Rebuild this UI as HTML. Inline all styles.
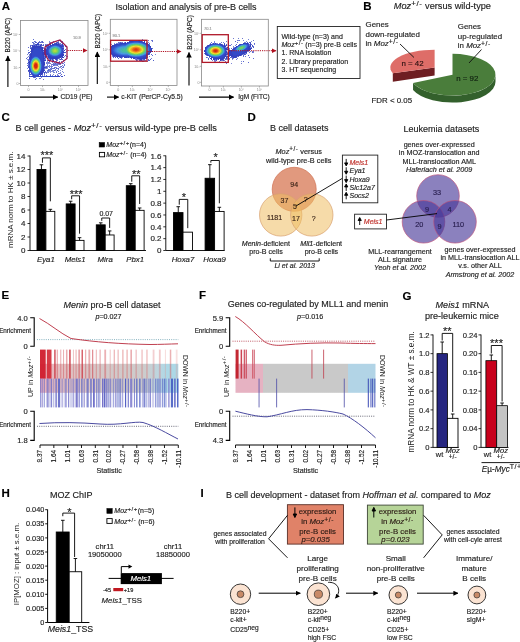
<!DOCTYPE html>
<html><head><meta charset="utf-8"><style>
html,body{margin:0;padding:0;background:#fff;width:520px;height:642px;overflow:hidden}
svg{display:block;filter:blur(0.3px)}
text{font-family:"Liberation Sans",sans-serif}
</style></head><body>
<svg width="520" height="642" viewBox="0 0 520 642" font-family="Liberation Sans, sans-serif">
<rect width="520" height="642" fill="#fff"/>
<text x="1.8" y="9.5" font-size="11.5" text-anchor="start" fill="#000" stroke="#000" stroke-width="0.15" font-weight="bold" >A</text>
<text x="363.3" y="9.8" font-size="11.5" text-anchor="start" fill="#000" stroke="#000" stroke-width="0.15" font-weight="bold" >B</text>
<text x="1.5" y="121.3" font-size="11.5" text-anchor="start" fill="#000" stroke="#000" stroke-width="0.15" font-weight="bold" >C</text>
<text x="247.5" y="121" font-size="11.5" text-anchor="start" fill="#000" stroke="#000" stroke-width="0.15" font-weight="bold" >D</text>
<text x="1.4" y="298.8" font-size="11.5" text-anchor="start" fill="#000" stroke="#000" stroke-width="0.15" font-weight="bold" >E</text>
<text x="199" y="298.8" font-size="11.5" text-anchor="start" fill="#000" stroke="#000" stroke-width="0.15" font-weight="bold" >F</text>
<text x="402.5" y="299.9" font-size="11.5" text-anchor="start" fill="#000" stroke="#000" stroke-width="0.15" font-weight="bold" >G</text>
<text x="1.4" y="496.7" font-size="11.5" text-anchor="start" fill="#000" stroke="#000" stroke-width="0.15" font-weight="bold" >H</text>
<text x="200.5" y="496.7" font-size="11.5" text-anchor="start" fill="#000" stroke="#000" stroke-width="0.15" font-weight="bold" >I</text>
<text x="115.5" y="10" font-size="9" text-anchor="start" fill="#222" stroke="#222" stroke-width="0.15" >Isolation and analysis of pre-B cells</text>
<defs><filter id="bl" x="-50%" y="-50%" width="200%" height="200%"><feGaussianBlur stdDeviation="1.2"/></filter><filter id="fb" x="-5%" y="-5%" width="110%" height="110%"><feGaussianBlur stdDeviation="0.6"/></filter><filter id="bl2" x="-50%" y="-50%" width="200%" height="200%"><feGaussianBlur stdDeviation="0.7"/></filter><marker id="arr" viewBox="0 0 10 10" refX="9" refY="5" markerWidth="5" markerHeight="5" orient="auto"><path d="M0,0 L10,5 L0,10 z" fill="#000"/></marker><marker id="arrR" viewBox="0 0 10 10" refX="9" refY="5" markerWidth="5" markerHeight="5" orient="auto"><path d="M0,0 L10,5 L0,10 z" fill="#b01020"/></marker></defs>
<rect x="20.5" y="20.5" width="67.5" height="65.0" fill="none" stroke="#888" stroke-width="0.8" />
<line x1="18.9" y1="34.5" x2="20.5" y2="34.5" stroke="#888" stroke-width="0.6" />
<text x="18.5" y="35.8" font-size="3.6" text-anchor="end" fill="#888" stroke="#888" stroke-width="0" >10⁵</text>
<line x1="18.9" y1="51.0" x2="20.5" y2="51.0" stroke="#888" stroke-width="0.6" />
<text x="18.5" y="52.3" font-size="3.6" text-anchor="end" fill="#888" stroke="#888" stroke-width="0" >10⁴</text>
<line x1="18.9" y1="67.5" x2="20.5" y2="67.5" stroke="#888" stroke-width="0.6" />
<text x="18.5" y="68.8" font-size="3.6" text-anchor="end" fill="#888" stroke="#888" stroke-width="0" >10³</text>
<line x1="18.9" y1="83.5" x2="20.5" y2="83.5" stroke="#888" stroke-width="0.6" />
<text x="18.5" y="84.8" font-size="3.6" text-anchor="end" fill="#888" stroke="#888" stroke-width="0" >0</text>
<line x1="28.5" y1="85.5" x2="28.5" y2="87.1" stroke="#888" stroke-width="0.6" />
<text x="28.5" y="90.5" font-size="3.6" text-anchor="middle" fill="#888" stroke="#888" stroke-width="0" >0</text>
<line x1="42.5" y1="85.5" x2="42.5" y2="87.1" stroke="#888" stroke-width="0.6" />
<text x="42.5" y="90.5" font-size="3.6" text-anchor="middle" fill="#888" stroke="#888" stroke-width="0" >10³</text>
<line x1="60.5" y1="85.5" x2="60.5" y2="87.1" stroke="#888" stroke-width="0.6" />
<text x="60.5" y="90.5" font-size="3.6" text-anchor="middle" fill="#888" stroke="#888" stroke-width="0" >10⁴</text>
<line x1="78.5" y1="85.5" x2="78.5" y2="87.1" stroke="#888" stroke-width="0.6" />
<text x="78.5" y="90.5" font-size="3.6" text-anchor="middle" fill="#888" stroke="#888" stroke-width="0" >10⁵</text>
<g filter="url(#fb)"><rect x="33.0" y="39.0" width="1.0" height="1.0" fill="#6070d0"/><rect x="59.0" y="40.0" width="1.0" height="1.0" fill="#6068d0"/><rect x="34.0" y="41.0" width="1.0" height="1.0" fill="#6070d0"/><rect x="35.0" y="41.0" width="1.0" height="1.0" fill="#8088d8"/><rect x="39.0" y="41.0" width="1.0" height="1.0" fill="#7078d0"/><rect x="41.0" y="41.0" width="1.0" height="1.0" fill="#7888d8"/><rect x="42.0" y="41.0" width="1.0" height="1.0" fill="#5060c8"/><rect x="49.0" y="41.0" width="1.0" height="1.0" fill="#7888d8"/><rect x="53.0" y="41.0" width="1.0" height="1.0" fill="#7080d8"/><rect x="58.0" y="41.0" width="1.0" height="1.0" fill="#8090d8"/><rect x="60.0" y="41.0" width="1.0" height="1.0" fill="#7080d0"/><rect x="62.0" y="41.0" width="1.0" height="1.0" fill="#7078d0"/><rect x="32.0" y="42.0" width="1.0" height="1.0" fill="#6070d0"/><rect x="33.0" y="42.0" width="1.0" height="1.0" fill="#7888d8"/><rect x="35.0" y="42.0" width="1.0" height="1.0" fill="#5060c8"/><rect x="36.0" y="42.0" width="1.0" height="1.0" fill="#6070d0"/><rect x="38.0" y="42.0" width="1.0" height="1.0" fill="#5058c8"/><rect x="39.0" y="42.0" width="1.0" height="1.0" fill="#6870d0"/><rect x="40.0" y="42.0" width="1.0" height="1.0" fill="#5868d0"/><rect x="41.0" y="42.0" width="1.0" height="1.0" fill="#7880d8"/><rect x="42.0" y="42.0" width="1.0" height="1.0" fill="#5860c8"/><rect x="43.0" y="42.0" width="1.0" height="1.0" fill="#7880d8"/><rect x="49.0" y="42.0" width="1.0" height="1.0" fill="#8890d8"/><rect x="50.0" y="42.0" width="1.0" height="1.0" fill="#6878d0"/><rect x="56.0" y="42.0" width="1.0" height="1.0" fill="#6878d0"/><rect x="57.0" y="42.0" width="1.0" height="1.0" fill="#4050c8"/><rect x="58.0" y="42.0" width="1.0" height="1.0" fill="#5860c8"/><rect x="61.0" y="42.0" width="1.0" height="1.0" fill="#6878d0"/><rect x="33.0" y="43.0" width="1.0" height="1.0" fill="#6068d0"/><rect x="34.0" y="43.0" width="1.0" height="1.0" fill="#8890d8"/><rect x="37.0" y="43.0" width="1.0" height="1.0" fill="#4050c8"/><rect x="38.0" y="43.0" width="1.0" height="1.0" fill="#4858c8"/><rect x="49.0" y="43.0" width="1.0" height="1.0" fill="#7078d0"/><rect x="50.0" y="43.0" width="1.0" height="1.0" fill="#5860d0"/><rect x="52.0" y="43.0" width="1.0" height="1.0" fill="#6070d0"/><rect x="54.0" y="43.0" width="1.0" height="1.0" fill="#5058c8"/><rect x="55.0" y="43.0" width="1.0" height="1.0" fill="#4048c0"/><rect x="56.0" y="43.0" width="1.0" height="1.0" fill="#3040c0"/><rect x="57.0" y="43.0" width="1.0" height="1.0" fill="#6878d0"/><rect x="58.0" y="43.0" width="1.0" height="1.0" fill="#4048c0"/><rect x="59.0" y="43.0" width="1.0" height="1.0" fill="#8890d8"/><rect x="60.0" y="43.0" width="1.0" height="1.0" fill="#6878d0"/><rect x="62.0" y="43.0" width="1.0" height="1.0" fill="#7078d0"/><rect x="33.0" y="44.0" width="2.0" height="1.0" fill="#8090d8"/><rect x="35.0" y="44.0" width="1.0" height="1.0" fill="#5060c8"/><rect x="36.0" y="44.0" width="3.0" height="1.0" fill="#3040c0"/><rect x="39.0" y="44.0" width="1.0" height="1.0" fill="#8088d8"/><rect x="40.0" y="44.0" width="1.0" height="1.0" fill="#7078d0"/><rect x="41.0" y="44.0" width="1.0" height="1.0" fill="#3848c0"/><rect x="43.0" y="44.0" width="1.0" height="1.0" fill="#7880d8"/><rect x="45.0" y="44.0" width="1.0" height="1.0" fill="#7078d0"/><rect x="46.0" y="44.0" width="1.0" height="1.0" fill="#8088d8"/><rect x="47.0" y="44.0" width="1.0" height="1.0" fill="#6870d0"/><rect x="49.0" y="44.0" width="2.0" height="1.0" fill="#3040c0"/><rect x="52.0" y="44.0" width="2.0" height="1.0" fill="#3040c0"/><rect x="54.0" y="44.0" width="1.0" height="1.0" fill="#3048c0"/><rect x="55.0" y="44.0" width="1.0" height="1.0" fill="#3048c8"/><rect x="56.0" y="44.0" width="3.0" height="1.0" fill="#3040c0"/><rect x="59.0" y="44.0" width="1.0" height="1.0" fill="#4050c8"/><rect x="60.0" y="44.0" width="1.0" height="1.0" fill="#7080d0"/><rect x="61.0" y="44.0" width="1.0" height="1.0" fill="#6878d0"/><rect x="62.0" y="44.0" width="1.0" height="1.0" fill="#3840c0"/><rect x="30.0" y="45.0" width="1.0" height="1.0" fill="#6070d0"/><rect x="31.0" y="45.0" width="1.0" height="1.0" fill="#7078d0"/><rect x="32.0" y="45.0" width="1.0" height="1.0" fill="#3040c0"/><rect x="33.0" y="45.0" width="1.0" height="1.0" fill="#5860d0"/><rect x="34.0" y="45.0" width="1.0" height="1.0" fill="#4048c0"/><rect x="35.0" y="45.0" width="1.0" height="1.0" fill="#6068d0"/><rect x="36.0" y="45.0" width="1.0" height="1.0" fill="#3848c0"/><rect x="37.0" y="45.0" width="1.0" height="1.0" fill="#8090d8"/><rect x="38.0" y="45.0" width="1.0" height="1.0" fill="#6070d0"/><rect x="39.0" y="45.0" width="1.0" height="1.0" fill="#8090d8"/><rect x="40.0" y="45.0" width="1.0" height="1.0" fill="#3040c0"/><rect x="41.0" y="45.0" width="1.0" height="1.0" fill="#5060c8"/><rect x="42.0" y="45.0" width="1.0" height="1.0" fill="#7078d0"/><rect x="43.0" y="45.0" width="1.0" height="1.0" fill="#5058c8"/><rect x="45.0" y="45.0" width="1.0" height="1.0" fill="#5060c8"/><rect x="46.0" y="45.0" width="1.0" height="1.0" fill="#5058c8"/><rect x="48.0" y="45.0" width="1.0" height="1.0" fill="#3040c0"/><rect x="49.0" y="45.0" width="1.0" height="1.0" fill="#8090d8"/><rect x="50.0" y="45.0" width="1.0" height="1.0" fill="#3040c0"/><rect x="51.0" y="45.0" width="1.0" height="1.0" fill="#3048c8"/><rect x="52.0" y="45.0" width="1.0" height="1.0" fill="#3050c8"/><rect x="53.0" y="45.0" width="1.0" height="1.0" fill="#3050d0"/><rect x="54.0" y="45.0" width="2.0" height="1.0" fill="#3860d0"/><rect x="56.0" y="45.0" width="1.0" height="1.0" fill="#3058d0"/><rect x="57.0" y="45.0" width="1.0" height="1.0" fill="#3050d0"/><rect x="58.0" y="45.0" width="2.0" height="1.0" fill="#3048c8"/><rect x="60.0" y="45.0" width="1.0" height="1.0" fill="#3040c0"/><rect x="61.0" y="45.0" width="1.0" height="1.0" fill="#4050c8"/><rect x="62.0" y="45.0" width="1.0" height="1.0" fill="#3040c0"/><rect x="63.0" y="45.0" width="1.0" height="1.0" fill="#6068d0"/><rect x="65.0" y="45.0" width="1.0" height="1.0" fill="#5868d0"/><rect x="30.0" y="46.0" width="1.0" height="1.0" fill="#4858c8"/><rect x="32.0" y="46.0" width="1.0" height="1.0" fill="#3840c0"/><rect x="33.0" y="46.0" width="8.0" height="1.0" fill="#3040c0"/><rect x="41.0" y="46.0" width="1.0" height="1.0" fill="#6870d0"/><rect x="45.0" y="46.0" width="1.0" height="1.0" fill="#7888d8"/><rect x="46.0" y="46.0" width="1.0" height="1.0" fill="#6870d0"/><rect x="47.0" y="46.0" width="1.0" height="1.0" fill="#5060c8"/><rect x="48.0" y="46.0" width="1.0" height="1.0" fill="#4048c0"/><rect x="49.0" y="46.0" width="1.0" height="1.0" fill="#3048c8"/><rect x="50.0" y="46.0" width="1.0" height="1.0" fill="#3050c8"/><rect x="51.0" y="46.0" width="1.0" height="1.0" fill="#3860d0"/><rect x="52.0" y="46.0" width="1.0" height="1.0" fill="#4078e0"/><rect x="53.0" y="46.0" width="1.0" height="1.0" fill="#4090e0"/><rect x="54.0" y="46.0" width="2.0" height="1.0" fill="#4898e0"/><rect x="56.0" y="46.0" width="1.0" height="1.0" fill="#4890e8"/><rect x="57.0" y="46.0" width="1.0" height="1.0" fill="#4080e0"/><rect x="58.0" y="46.0" width="1.0" height="1.0" fill="#3870d8"/><rect x="59.0" y="46.0" width="1.0" height="1.0" fill="#3050d0"/><rect x="60.0" y="46.0" width="1.0" height="1.0" fill="#3048c8"/><rect x="61.0" y="46.0" width="2.0" height="1.0" fill="#3040c0"/><rect x="63.0" y="46.0" width="1.0" height="1.0" fill="#4050c8"/><rect x="65.0" y="46.0" width="1.0" height="1.0" fill="#5868d0"/><rect x="28.0" y="47.0" width="1.0" height="1.0" fill="#6068d0"/><rect x="30.0" y="47.0" width="1.0" height="1.0" fill="#7880d8"/><rect x="31.0" y="47.0" width="1.0" height="1.0" fill="#7080d0"/><rect x="32.0" y="47.0" width="11.0" height="1.0" fill="#3040c0"/><rect x="43.0" y="47.0" width="1.0" height="1.0" fill="#8088d8"/><rect x="46.0" y="47.0" width="1.0" height="1.0" fill="#7080d0"/><rect x="47.0" y="47.0" width="1.0" height="1.0" fill="#3040c0"/><rect x="48.0" y="47.0" width="1.0" height="1.0" fill="#3048c8"/><rect x="49.0" y="47.0" width="1.0" height="1.0" fill="#3050d0"/><rect x="50.0" y="47.0" width="1.0" height="1.0" fill="#3870d8"/><rect x="51.0" y="47.0" width="1.0" height="1.0" fill="#4890e8"/><rect x="52.0" y="47.0" width="1.0" height="1.0" fill="#48a8c8"/><rect x="53.0" y="47.0" width="1.0" height="1.0" fill="#48b0b0"/><rect x="54.0" y="47.0" width="1.0" height="1.0" fill="#48b8a0"/><rect x="55.0" y="47.0" width="1.0" height="1.0" fill="#48c0a0"/><rect x="56.0" y="47.0" width="1.0" height="1.0" fill="#48b8b0"/><rect x="57.0" y="47.0" width="1.0" height="1.0" fill="#48a8c0"/><rect x="58.0" y="47.0" width="1.0" height="1.0" fill="#4898e0"/><rect x="59.0" y="47.0" width="1.0" height="1.0" fill="#4080e0"/><rect x="60.0" y="47.0" width="1.0" height="1.0" fill="#3058d0"/><rect x="61.0" y="47.0" width="1.0" height="1.0" fill="#3048c8"/><rect x="62.0" y="47.0" width="1.0" height="1.0" fill="#5860c8"/><rect x="63.0" y="47.0" width="1.0" height="1.0" fill="#6878d0"/><rect x="30.0" y="48.0" width="1.0" height="1.0" fill="#5058c8"/><rect x="31.0" y="48.0" width="1.0" height="1.0" fill="#4050c0"/><rect x="32.0" y="48.0" width="3.0" height="1.0" fill="#3040c0"/><rect x="35.0" y="48.0" width="1.0" height="1.0" fill="#3048c0"/><rect x="36.0" y="48.0" width="3.0" height="1.0" fill="#3048c8"/><rect x="39.0" y="48.0" width="1.0" height="1.0" fill="#3048c0"/><rect x="40.0" y="48.0" width="3.0" height="1.0" fill="#3040c0"/><rect x="43.0" y="48.0" width="1.0" height="1.0" fill="#8090d8"/><rect x="44.0" y="48.0" width="1.0" height="1.0" fill="#5868d0"/><rect x="45.0" y="48.0" width="1.0" height="1.0" fill="#6068d0"/><rect x="46.0" y="48.0" width="1.0" height="1.0" fill="#7080d8"/><rect x="47.0" y="48.0" width="1.0" height="1.0" fill="#3040c0"/><rect x="48.0" y="48.0" width="1.0" height="1.0" fill="#3050c8"/><rect x="49.0" y="48.0" width="1.0" height="1.0" fill="#3870d8"/><rect x="50.0" y="48.0" width="1.0" height="1.0" fill="#4898e0"/><rect x="51.0" y="48.0" width="1.0" height="1.0" fill="#48b0b8"/><rect x="52.0" y="48.0" width="1.0" height="1.0" fill="#48c098"/><rect x="53.0" y="48.0" width="1.0" height="1.0" fill="#60c878"/><rect x="54.0" y="48.0" width="1.0" height="1.0" fill="#70d070"/><rect x="55.0" y="48.0" width="1.0" height="1.0" fill="#70d068"/><rect x="56.0" y="48.0" width="1.0" height="1.0" fill="#60c878"/><rect x="57.0" y="48.0" width="1.0" height="1.0" fill="#50c090"/><rect x="58.0" y="48.0" width="1.0" height="1.0" fill="#48b0b0"/><rect x="59.0" y="48.0" width="1.0" height="1.0" fill="#48a0d8"/><rect x="60.0" y="48.0" width="1.0" height="1.0" fill="#4078d8"/><rect x="61.0" y="48.0" width="1.0" height="1.0" fill="#3050d0"/><rect x="62.0" y="48.0" width="2.0" height="1.0" fill="#3040c0"/><rect x="31.0" y="49.0" width="3.0" height="1.0" fill="#3040c0"/><rect x="34.0" y="49.0" width="6.0" height="1.0" fill="#3048c8"/><rect x="40.0" y="49.0" width="1.0" height="1.0" fill="#3048c0"/><rect x="41.0" y="49.0" width="2.0" height="1.0" fill="#3040c0"/><rect x="44.0" y="49.0" width="2.0" height="1.0" fill="#3040c0"/><rect x="46.0" y="49.0" width="1.0" height="1.0" fill="#3848c0"/><rect x="47.0" y="49.0" width="1.0" height="1.0" fill="#3048c8"/><rect x="48.0" y="49.0" width="1.0" height="1.0" fill="#3058d0"/><rect x="49.0" y="49.0" width="1.0" height="1.0" fill="#4088e0"/><rect x="50.0" y="49.0" width="1.0" height="1.0" fill="#48a8c8"/><rect x="51.0" y="49.0" width="1.0" height="1.0" fill="#48c098"/><rect x="52.0" y="49.0" width="1.0" height="1.0" fill="#68d070"/><rect x="53.0" y="49.0" width="1.0" height="1.0" fill="#88d050"/><rect x="54.0" y="49.0" width="2.0" height="1.0" fill="#98d848"/><rect x="56.0" y="49.0" width="1.0" height="1.0" fill="#88d050"/><rect x="57.0" y="49.0" width="1.0" height="1.0" fill="#70d070"/><rect x="58.0" y="49.0" width="1.0" height="1.0" fill="#48c090"/><rect x="59.0" y="49.0" width="1.0" height="1.0" fill="#48a8c0"/><rect x="60.0" y="49.0" width="1.0" height="1.0" fill="#4090e0"/><rect x="61.0" y="49.0" width="1.0" height="1.0" fill="#3860d0"/><rect x="62.0" y="49.0" width="1.0" height="1.0" fill="#3048c8"/><rect x="63.0" y="49.0" width="1.0" height="1.0" fill="#5860c8"/><rect x="65.0" y="49.0" width="1.0" height="1.0" fill="#6070d0"/><rect x="28.0" y="50.0" width="1.0" height="1.0" fill="#8090d8"/><rect x="31.0" y="50.0" width="2.0" height="1.0" fill="#3040c0"/><rect x="33.0" y="50.0" width="8.0" height="1.0" fill="#3048c8"/><rect x="41.0" y="50.0" width="6.0" height="1.0" fill="#3040c0"/><rect x="47.0" y="50.0" width="1.0" height="1.0" fill="#3048c8"/><rect x="48.0" y="50.0" width="1.0" height="1.0" fill="#3860d0"/><rect x="49.0" y="50.0" width="1.0" height="1.0" fill="#4890e8"/><rect x="50.0" y="50.0" width="1.0" height="1.0" fill="#48b0b8"/><rect x="51.0" y="50.0" width="1.0" height="1.0" fill="#58c888"/><rect x="52.0" y="50.0" width="1.0" height="1.0" fill="#80d060"/><rect x="53.0" y="50.0" width="1.0" height="1.0" fill="#a0d840"/><rect x="54.0" y="50.0" width="2.0" height="1.0" fill="#b0e040"/><rect x="56.0" y="50.0" width="1.0" height="1.0" fill="#a0d840"/><rect x="57.0" y="50.0" width="1.0" height="1.0" fill="#80d060"/><rect x="58.0" y="50.0" width="1.0" height="1.0" fill="#58c880"/><rect x="59.0" y="50.0" width="1.0" height="1.0" fill="#48b0b0"/><rect x="60.0" y="50.0" width="1.0" height="1.0" fill="#4890e8"/><rect x="61.0" y="50.0" width="1.0" height="1.0" fill="#3860d0"/><rect x="62.0" y="50.0" width="1.0" height="1.0" fill="#3048c8"/><rect x="63.0" y="50.0" width="1.0" height="1.0" fill="#7880d8"/><rect x="64.0" y="50.0" width="1.0" height="1.0" fill="#3848c0"/><rect x="30.0" y="51.0" width="1.0" height="1.0" fill="#6068d0"/><rect x="31.0" y="51.0" width="2.0" height="1.0" fill="#3040c0"/><rect x="33.0" y="51.0" width="9.0" height="1.0" fill="#3048c8"/><rect x="42.0" y="51.0" width="1.0" height="1.0" fill="#3040c0"/><rect x="43.0" y="51.0" width="1.0" height="1.0" fill="#7080d8"/><rect x="44.0" y="51.0" width="3.0" height="1.0" fill="#3040c0"/><rect x="47.0" y="51.0" width="1.0" height="1.0" fill="#3048c8"/><rect x="48.0" y="51.0" width="1.0" height="1.0" fill="#3860d0"/><rect x="49.0" y="51.0" width="1.0" height="1.0" fill="#4890e0"/><rect x="50.0" y="51.0" width="1.0" height="1.0" fill="#48b0b8"/><rect x="51.0" y="51.0" width="1.0" height="1.0" fill="#50c888"/><rect x="52.0" y="51.0" width="1.0" height="1.0" fill="#78d060"/><rect x="53.0" y="51.0" width="1.0" height="1.0" fill="#98d848"/><rect x="54.0" y="51.0" width="2.0" height="1.0" fill="#b0d840"/><rect x="56.0" y="51.0" width="1.0" height="1.0" fill="#98d848"/><rect x="57.0" y="51.0" width="1.0" height="1.0" fill="#78d060"/><rect x="58.0" y="51.0" width="1.0" height="1.0" fill="#50c888"/><rect x="59.0" y="51.0" width="1.0" height="1.0" fill="#48b0b8"/><rect x="60.0" y="51.0" width="1.0" height="1.0" fill="#4090e0"/><rect x="61.0" y="51.0" width="1.0" height="1.0" fill="#3860d0"/><rect x="62.0" y="51.0" width="1.0" height="1.0" fill="#3048c8"/><rect x="63.0" y="51.0" width="1.0" height="1.0" fill="#4050c8"/><rect x="66.0" y="51.0" width="1.0" height="1.0" fill="#8088d8"/><rect x="28.0" y="52.0" width="1.0" height="1.0" fill="#6878d0"/><rect x="29.0" y="52.0" width="1.0" height="1.0" fill="#3040c0"/><rect x="31.0" y="52.0" width="1.0" height="1.0" fill="#3040c0"/><rect x="32.0" y="52.0" width="1.0" height="1.0" fill="#3048c0"/><rect x="33.0" y="52.0" width="9.0" height="1.0" fill="#3048c8"/><rect x="42.0" y="52.0" width="5.0" height="1.0" fill="#3040c0"/><rect x="47.0" y="52.0" width="1.0" height="1.0" fill="#3048c8"/><rect x="48.0" y="52.0" width="1.0" height="1.0" fill="#3058d0"/><rect x="49.0" y="52.0" width="1.0" height="1.0" fill="#4088e0"/><rect x="50.0" y="52.0" width="1.0" height="1.0" fill="#48a8c8"/><rect x="51.0" y="52.0" width="1.0" height="1.0" fill="#48c0a0"/><rect x="52.0" y="52.0" width="1.0" height="1.0" fill="#60c878"/><rect x="53.0" y="52.0" width="1.0" height="1.0" fill="#80d060"/><rect x="54.0" y="52.0" width="2.0" height="1.0" fill="#88d050"/><rect x="56.0" y="52.0" width="1.0" height="1.0" fill="#78d060"/><rect x="57.0" y="52.0" width="1.0" height="1.0" fill="#60c880"/><rect x="58.0" y="52.0" width="1.0" height="1.0" fill="#48b8a0"/><rect x="59.0" y="52.0" width="1.0" height="1.0" fill="#48a0d0"/><rect x="60.0" y="52.0" width="1.0" height="1.0" fill="#4080e0"/><rect x="61.0" y="52.0" width="1.0" height="1.0" fill="#3050d0"/><rect x="62.0" y="52.0" width="1.0" height="1.0" fill="#3048c8"/><rect x="63.0" y="52.0" width="1.0" height="1.0" fill="#3040c0"/><rect x="64.0" y="52.0" width="1.0" height="1.0" fill="#4850c8"/><rect x="65.0" y="52.0" width="1.0" height="1.0" fill="#5058c8"/><rect x="28.0" y="53.0" width="1.0" height="1.0" fill="#7080d8"/><rect x="30.0" y="53.0" width="1.0" height="1.0" fill="#5060c8"/><rect x="31.0" y="53.0" width="1.0" height="1.0" fill="#3040c0"/><rect x="32.0" y="53.0" width="10.0" height="1.0" fill="#3048c8"/><rect x="42.0" y="53.0" width="6.0" height="1.0" fill="#3040c0"/><rect x="48.0" y="53.0" width="1.0" height="1.0" fill="#3050c8"/><rect x="49.0" y="53.0" width="1.0" height="1.0" fill="#3870d8"/><rect x="50.0" y="53.0" width="1.0" height="1.0" fill="#4890e8"/><rect x="51.0" y="53.0" width="1.0" height="1.0" fill="#48a8c0"/><rect x="52.0" y="53.0" width="1.0" height="1.0" fill="#48c0a0"/><rect x="53.0" y="53.0" width="1.0" height="1.0" fill="#50c888"/><rect x="54.0" y="53.0" width="1.0" height="1.0" fill="#60c880"/><rect x="55.0" y="53.0" width="1.0" height="1.0" fill="#58c880"/><rect x="56.0" y="53.0" width="1.0" height="1.0" fill="#50c090"/><rect x="57.0" y="53.0" width="1.0" height="1.0" fill="#48b8a8"/><rect x="58.0" y="53.0" width="1.0" height="1.0" fill="#48a0c8"/><rect x="59.0" y="53.0" width="1.0" height="1.0" fill="#4088e0"/><rect x="60.0" y="53.0" width="1.0" height="1.0" fill="#3860d0"/><rect x="61.0" y="53.0" width="1.0" height="1.0" fill="#3048c8"/><rect x="62.0" y="53.0" width="1.0" height="1.0" fill="#3040c0"/><rect x="63.0" y="53.0" width="1.0" height="1.0" fill="#8088d8"/><rect x="27.0" y="54.0" width="1.0" height="1.0" fill="#7888d8"/><rect x="29.0" y="54.0" width="1.0" height="1.0" fill="#7078d0"/><rect x="30.0" y="54.0" width="2.0" height="1.0" fill="#3040c0"/><rect x="32.0" y="54.0" width="10.0" height="1.0" fill="#3048c8"/><rect x="42.0" y="54.0" width="2.0" height="1.0" fill="#3040c0"/><rect x="44.0" y="54.0" width="1.0" height="1.0" fill="#3848c0"/><rect x="45.0" y="54.0" width="3.0" height="1.0" fill="#3040c0"/><rect x="48.0" y="54.0" width="1.0" height="1.0" fill="#3048c8"/><rect x="49.0" y="54.0" width="1.0" height="1.0" fill="#3050d0"/><rect x="50.0" y="54.0" width="1.0" height="1.0" fill="#3870d8"/><rect x="51.0" y="54.0" width="1.0" height="1.0" fill="#4088e0"/><rect x="52.0" y="54.0" width="1.0" height="1.0" fill="#48a0d8"/><rect x="53.0" y="54.0" width="1.0" height="1.0" fill="#48a8c0"/><rect x="54.0" y="54.0" width="1.0" height="1.0" fill="#48b0b8"/><rect x="55.0" y="54.0" width="1.0" height="1.0" fill="#48b0c0"/><rect x="56.0" y="54.0" width="1.0" height="1.0" fill="#48a8c8"/><rect x="57.0" y="54.0" width="1.0" height="1.0" fill="#4898e0"/><rect x="58.0" y="54.0" width="1.0" height="1.0" fill="#4080e0"/><rect x="59.0" y="54.0" width="1.0" height="1.0" fill="#3860d0"/><rect x="60.0" y="54.0" width="1.0" height="1.0" fill="#3048c8"/><rect x="61.0" y="54.0" width="3.0" height="1.0" fill="#3040c0"/><rect x="29.0" y="55.0" width="1.0" height="1.0" fill="#7080d8"/><rect x="30.0" y="55.0" width="2.0" height="1.0" fill="#3040c0"/><rect x="32.0" y="55.0" width="10.0" height="1.0" fill="#3048c8"/><rect x="42.0" y="55.0" width="1.0" height="1.0" fill="#3048c0"/><rect x="43.0" y="55.0" width="1.0" height="1.0" fill="#3040c0"/><rect x="44.0" y="55.0" width="1.0" height="1.0" fill="#7880d8"/><rect x="45.0" y="55.0" width="1.0" height="1.0" fill="#8088d8"/><rect x="46.0" y="55.0" width="1.0" height="1.0" fill="#4858c8"/><rect x="47.0" y="55.0" width="1.0" height="1.0" fill="#7880d8"/><rect x="48.0" y="55.0" width="1.0" height="1.0" fill="#3040c0"/><rect x="49.0" y="55.0" width="1.0" height="1.0" fill="#3048c0"/><rect x="50.0" y="55.0" width="1.0" height="1.0" fill="#3050c8"/><rect x="51.0" y="55.0" width="1.0" height="1.0" fill="#3058d0"/><rect x="52.0" y="55.0" width="1.0" height="1.0" fill="#3870d8"/><rect x="53.0" y="55.0" width="1.0" height="1.0" fill="#4078e0"/><rect x="54.0" y="55.0" width="2.0" height="1.0" fill="#4080e0"/><rect x="56.0" y="55.0" width="1.0" height="1.0" fill="#4078d8"/><rect x="57.0" y="55.0" width="1.0" height="1.0" fill="#3868d0"/><rect x="58.0" y="55.0" width="1.0" height="1.0" fill="#3050d0"/><rect x="59.0" y="55.0" width="1.0" height="1.0" fill="#3048c8"/><rect x="60.0" y="55.0" width="4.0" height="1.0" fill="#3040c0"/><rect x="65.0" y="55.0" width="1.0" height="1.0" fill="#5060c8"/><rect x="28.0" y="56.0" width="1.0" height="1.0" fill="#8090d8"/><rect x="29.0" y="56.0" width="1.0" height="1.0" fill="#8890d8"/><rect x="30.0" y="56.0" width="2.0" height="1.0" fill="#3040c0"/><rect x="32.0" y="56.0" width="2.0" height="1.0" fill="#3048c8"/><rect x="34.0" y="56.0" width="1.0" height="1.0" fill="#3050d0"/><rect x="35.0" y="56.0" width="1.0" height="1.0" fill="#3058d0"/><rect x="36.0" y="56.0" width="1.0" height="1.0" fill="#3050d0"/><rect x="37.0" y="56.0" width="1.0" height="1.0" fill="#3050c8"/><rect x="38.0" y="56.0" width="5.0" height="1.0" fill="#3048c8"/><rect x="43.0" y="56.0" width="1.0" height="1.0" fill="#3040c0"/><rect x="44.0" y="56.0" width="1.0" height="1.0" fill="#5868d0"/><rect x="45.0" y="56.0" width="1.0" height="1.0" fill="#3040c0"/><rect x="46.0" y="56.0" width="1.0" height="1.0" fill="#4858c8"/><rect x="47.0" y="56.0" width="1.0" height="1.0" fill="#7078d0"/><rect x="48.0" y="56.0" width="3.0" height="1.0" fill="#3040c0"/><rect x="51.0" y="56.0" width="2.0" height="1.0" fill="#3048c8"/><rect x="53.0" y="56.0" width="3.0" height="1.0" fill="#3050c8"/><rect x="56.0" y="56.0" width="3.0" height="1.0" fill="#3048c8"/><rect x="59.0" y="56.0" width="4.0" height="1.0" fill="#3040c0"/><rect x="64.0" y="56.0" width="1.0" height="1.0" fill="#8090d8"/><rect x="66.0" y="56.0" width="1.0" height="1.0" fill="#7880d8"/><rect x="67.0" y="56.0" width="1.0" height="1.0" fill="#7080d0"/><rect x="27.0" y="57.0" width="1.0" height="1.0" fill="#7880d8"/><rect x="29.0" y="57.0" width="3.0" height="1.0" fill="#3040c0"/><rect x="32.0" y="57.0" width="1.0" height="1.0" fill="#3048c8"/><rect x="33.0" y="57.0" width="1.0" height="1.0" fill="#3860d0"/><rect x="34.0" y="57.0" width="1.0" height="1.0" fill="#4080e0"/><rect x="35.0" y="57.0" width="2.0" height="1.0" fill="#4090e0"/><rect x="37.0" y="57.0" width="1.0" height="1.0" fill="#4078d8"/><rect x="38.0" y="57.0" width="1.0" height="1.0" fill="#3050d0"/><rect x="39.0" y="57.0" width="4.0" height="1.0" fill="#3048c8"/><rect x="43.0" y="57.0" width="1.0" height="1.0" fill="#3040c0"/><rect x="44.0" y="57.0" width="1.0" height="1.0" fill="#6070d0"/><rect x="45.0" y="57.0" width="1.0" height="1.0" fill="#3040c0"/><rect x="48.0" y="57.0" width="13.0" height="1.0" fill="#3040c0"/><rect x="61.0" y="57.0" width="1.0" height="1.0" fill="#7078d0"/><rect x="62.0" y="57.0" width="2.0" height="1.0" fill="#3040c0"/><rect x="26.0" y="58.0" width="1.0" height="1.0" fill="#6068d0"/><rect x="29.0" y="58.0" width="2.0" height="1.0" fill="#3040c0"/><rect x="31.0" y="58.0" width="1.0" height="1.0" fill="#3048c8"/><rect x="32.0" y="58.0" width="1.0" height="1.0" fill="#3868d8"/><rect x="33.0" y="58.0" width="1.0" height="1.0" fill="#4898e0"/><rect x="34.0" y="58.0" width="1.0" height="1.0" fill="#48b0c0"/><rect x="35.0" y="58.0" width="1.0" height="1.0" fill="#48b8a8"/><rect x="36.0" y="58.0" width="1.0" height="1.0" fill="#48b0b0"/><rect x="37.0" y="58.0" width="1.0" height="1.0" fill="#48a8c8"/><rect x="38.0" y="58.0" width="1.0" height="1.0" fill="#4088e0"/><rect x="39.0" y="58.0" width="1.0" height="1.0" fill="#3050d0"/><rect x="40.0" y="58.0" width="3.0" height="1.0" fill="#3048c8"/><rect x="43.0" y="58.0" width="1.0" height="1.0" fill="#3040c0"/><rect x="44.0" y="58.0" width="1.0" height="1.0" fill="#3840c0"/><rect x="45.0" y="58.0" width="1.0" height="1.0" fill="#8890d8"/><rect x="47.0" y="58.0" width="1.0" height="1.0" fill="#5860d0"/><rect x="48.0" y="58.0" width="1.0" height="1.0" fill="#7080d0"/><rect x="49.0" y="58.0" width="1.0" height="1.0" fill="#4050c8"/><rect x="50.0" y="58.0" width="8.0" height="1.0" fill="#3040c0"/><rect x="58.0" y="58.0" width="1.0" height="1.0" fill="#4858c8"/><rect x="59.0" y="58.0" width="1.0" height="1.0" fill="#7880d8"/><rect x="61.0" y="58.0" width="1.0" height="1.0" fill="#3040c0"/><rect x="27.0" y="59.0" width="1.0" height="1.0" fill="#8090d8"/><rect x="28.0" y="59.0" width="1.0" height="1.0" fill="#7880d8"/><rect x="29.0" y="59.0" width="1.0" height="1.0" fill="#4050c8"/><rect x="30.0" y="59.0" width="1.0" height="1.0" fill="#3040c0"/><rect x="31.0" y="59.0" width="1.0" height="1.0" fill="#3058d0"/><rect x="32.0" y="59.0" width="1.0" height="1.0" fill="#4898e8"/><rect x="33.0" y="59.0" width="1.0" height="1.0" fill="#48b8a8"/><rect x="34.0" y="59.0" width="1.0" height="1.0" fill="#60c880"/><rect x="35.0" y="59.0" width="1.0" height="1.0" fill="#78d068"/><rect x="36.0" y="59.0" width="1.0" height="1.0" fill="#70d070"/><rect x="37.0" y="59.0" width="1.0" height="1.0" fill="#50c890"/><rect x="38.0" y="59.0" width="1.0" height="1.0" fill="#48a8c0"/><rect x="39.0" y="59.0" width="1.0" height="1.0" fill="#4080e0"/><rect x="40.0" y="59.0" width="3.0" height="1.0" fill="#3048c8"/><rect x="43.0" y="59.0" width="1.0" height="1.0" fill="#3040c0"/><rect x="44.0" y="59.0" width="1.0" height="1.0" fill="#5868d0"/><rect x="45.0" y="59.0" width="1.0" height="1.0" fill="#7080d0"/><rect x="49.0" y="59.0" width="1.0" height="1.0" fill="#7080d0"/><rect x="50.0" y="59.0" width="1.0" height="1.0" fill="#3040c0"/><rect x="51.0" y="59.0" width="1.0" height="1.0" fill="#8890d8"/><rect x="52.0" y="59.0" width="1.0" height="1.0" fill="#3848c0"/><rect x="53.0" y="59.0" width="1.0" height="1.0" fill="#8090d8"/><rect x="55.0" y="59.0" width="1.0" height="1.0" fill="#5060c8"/><rect x="56.0" y="59.0" width="1.0" height="1.0" fill="#3040c0"/><rect x="57.0" y="59.0" width="1.0" height="1.0" fill="#6070d0"/><rect x="59.0" y="59.0" width="1.0" height="1.0" fill="#8090d8"/><rect x="60.0" y="59.0" width="1.0" height="1.0" fill="#4050c0"/><rect x="61.0" y="59.0" width="1.0" height="1.0" fill="#7078d0"/><rect x="62.0" y="59.0" width="1.0" height="1.0" fill="#4858c8"/><rect x="28.0" y="60.0" width="1.0" height="1.0" fill="#4050c8"/><rect x="29.0" y="60.0" width="1.0" height="1.0" fill="#8088d8"/><rect x="30.0" y="60.0" width="1.0" height="1.0" fill="#3048c8"/><rect x="31.0" y="60.0" width="1.0" height="1.0" fill="#4078e0"/><rect x="32.0" y="60.0" width="1.0" height="1.0" fill="#48b0b8"/><rect x="33.0" y="60.0" width="1.0" height="1.0" fill="#68d070"/><rect x="34.0" y="60.0" width="1.0" height="1.0" fill="#a0d840"/><rect x="35.0" y="60.0" width="1.0" height="1.0" fill="#c8e038"/><rect x="36.0" y="60.0" width="1.0" height="1.0" fill="#c0e040"/><rect x="37.0" y="60.0" width="1.0" height="1.0" fill="#90d050"/><rect x="38.0" y="60.0" width="1.0" height="1.0" fill="#50c888"/><rect x="39.0" y="60.0" width="1.0" height="1.0" fill="#48a0d0"/><rect x="40.0" y="60.0" width="1.0" height="1.0" fill="#3860d0"/><rect x="41.0" y="60.0" width="2.0" height="1.0" fill="#3048c8"/><rect x="43.0" y="60.0" width="2.0" height="1.0" fill="#3040c0"/><rect x="45.0" y="60.0" width="1.0" height="1.0" fill="#3848c0"/><rect x="47.0" y="60.0" width="1.0" height="1.0" fill="#5868d0"/><rect x="49.0" y="60.0" width="1.0" height="1.0" fill="#7078d0"/><rect x="50.0" y="60.0" width="1.0" height="1.0" fill="#3040c0"/><rect x="52.0" y="60.0" width="1.0" height="1.0" fill="#6068d0"/><rect x="53.0" y="60.0" width="1.0" height="1.0" fill="#3040c0"/><rect x="56.0" y="60.0" width="1.0" height="1.0" fill="#6870d0"/><rect x="57.0" y="60.0" width="1.0" height="1.0" fill="#7078d0"/><rect x="63.0" y="60.0" width="1.0" height="1.0" fill="#5868d0"/><rect x="28.0" y="61.0" width="1.0" height="1.0" fill="#7880d8"/><rect x="29.0" y="61.0" width="1.0" height="1.0" fill="#3040c0"/><rect x="30.0" y="61.0" width="1.0" height="1.0" fill="#3050d0"/><rect x="31.0" y="61.0" width="1.0" height="1.0" fill="#4898e0"/><rect x="32.0" y="61.0" width="1.0" height="1.0" fill="#50c888"/><rect x="33.0" y="61.0" width="1.0" height="1.0" fill="#a8d840"/><rect x="34.0" y="61.0" width="1.0" height="1.0" fill="#f0e030"/><rect x="35.0" y="61.0" width="1.0" height="1.0" fill="#f0c028"/><rect x="36.0" y="61.0" width="1.0" height="1.0" fill="#f0c828"/><rect x="37.0" y="61.0" width="1.0" height="1.0" fill="#d8e038"/><rect x="38.0" y="61.0" width="1.0" height="1.0" fill="#80d058"/><rect x="39.0" y="61.0" width="1.0" height="1.0" fill="#48b8a8"/><rect x="40.0" y="61.0" width="1.0" height="1.0" fill="#4078e0"/><rect x="41.0" y="61.0" width="2.0" height="1.0" fill="#3048c8"/><rect x="43.0" y="61.0" width="1.0" height="1.0" fill="#3040c0"/><rect x="44.0" y="61.0" width="1.0" height="1.0" fill="#8088d8"/><rect x="47.0" y="61.0" width="1.0" height="1.0" fill="#8090d8"/><rect x="49.0" y="61.0" width="1.0" height="1.0" fill="#5860c8"/><rect x="53.0" y="61.0" width="1.0" height="1.0" fill="#8088d8"/><rect x="55.0" y="61.0" width="1.0" height="1.0" fill="#6070d0"/><rect x="56.0" y="61.0" width="1.0" height="1.0" fill="#7080d8"/><rect x="59.0" y="61.0" width="1.0" height="1.0" fill="#7078d0"/><rect x="61.0" y="61.0" width="1.0" height="1.0" fill="#7078d0"/><rect x="28.0" y="62.0" width="2.0" height="1.0" fill="#3040c0"/><rect x="30.0" y="62.0" width="1.0" height="1.0" fill="#3860d0"/><rect x="31.0" y="62.0" width="1.0" height="1.0" fill="#48a8c0"/><rect x="32.0" y="62.0" width="1.0" height="1.0" fill="#78d060"/><rect x="33.0" y="62.0" width="1.0" height="1.0" fill="#e8e830"/><rect x="34.0" y="62.0" width="1.0" height="1.0" fill="#f0a020"/><rect x="35.0" y="62.0" width="1.0" height="1.0" fill="#f07818"/><rect x="36.0" y="62.0" width="1.0" height="1.0" fill="#f08820"/><rect x="37.0" y="62.0" width="1.0" height="1.0" fill="#f0b828"/><rect x="38.0" y="62.0" width="1.0" height="1.0" fill="#b8e040"/><rect x="39.0" y="62.0" width="1.0" height="1.0" fill="#58c888"/><rect x="40.0" y="62.0" width="1.0" height="1.0" fill="#4898e8"/><rect x="41.0" y="62.0" width="1.0" height="1.0" fill="#3050c8"/><rect x="42.0" y="62.0" width="1.0" height="1.0" fill="#3048c8"/><rect x="43.0" y="62.0" width="2.0" height="1.0" fill="#3040c0"/><rect x="46.0" y="62.0" width="2.0" height="1.0" fill="#8088d8"/><rect x="48.0" y="62.0" width="1.0" height="1.0" fill="#6068d0"/><rect x="49.0" y="62.0" width="1.0" height="1.0" fill="#8090d8"/><rect x="52.0" y="62.0" width="1.0" height="1.0" fill="#7888d8"/><rect x="54.0" y="62.0" width="1.0" height="1.0" fill="#7080d8"/><rect x="58.0" y="62.0" width="1.0" height="1.0" fill="#6070d0"/><rect x="59.0" y="62.0" width="1.0" height="1.0" fill="#5868d0"/><rect x="64.0" y="62.0" width="1.0" height="1.0" fill="#6870d0"/><rect x="27.0" y="63.0" width="1.0" height="1.0" fill="#6878d0"/><rect x="28.0" y="63.0" width="1.0" height="1.0" fill="#7080d0"/><rect x="29.0" y="63.0" width="1.0" height="1.0" fill="#3040c0"/><rect x="30.0" y="63.0" width="1.0" height="1.0" fill="#4070d8"/><rect x="31.0" y="63.0" width="1.0" height="1.0" fill="#48b8a8"/><rect x="32.0" y="63.0" width="1.0" height="1.0" fill="#a0d840"/><rect x="33.0" y="63.0" width="1.0" height="1.0" fill="#f0c028"/><rect x="34.0" y="63.0" width="1.0" height="1.0" fill="#e86818"/><rect x="35.0" y="63.0" width="1.0" height="1.0" fill="#d83818"/><rect x="36.0" y="63.0" width="1.0" height="1.0" fill="#e04018"/><rect x="37.0" y="63.0" width="1.0" height="1.0" fill="#f08820"/><rect x="38.0" y="63.0" width="1.0" height="1.0" fill="#e8e030"/><rect x="39.0" y="63.0" width="1.0" height="1.0" fill="#70d068"/><rect x="40.0" y="63.0" width="1.0" height="1.0" fill="#48a0d0"/><rect x="41.0" y="63.0" width="1.0" height="1.0" fill="#3050d0"/><rect x="42.0" y="63.0" width="1.0" height="1.0" fill="#3048c8"/><rect x="43.0" y="63.0" width="2.0" height="1.0" fill="#3040c0"/><rect x="46.0" y="63.0" width="1.0" height="1.0" fill="#7880d8"/><rect x="47.0" y="63.0" width="1.0" height="1.0" fill="#8890d8"/><rect x="48.0" y="63.0" width="2.0" height="1.0" fill="#8088d8"/><rect x="50.0" y="63.0" width="1.0" height="1.0" fill="#6878d0"/><rect x="53.0" y="63.0" width="1.0" height="1.0" fill="#6878d0"/><rect x="54.0" y="63.0" width="1.0" height="1.0" fill="#8090d8"/><rect x="55.0" y="63.0" width="1.0" height="1.0" fill="#5060c8"/><rect x="56.0" y="63.0" width="1.0" height="1.0" fill="#8890d8"/><rect x="57.0" y="63.0" width="1.0" height="1.0" fill="#7078d0"/><rect x="58.0" y="63.0" width="1.0" height="1.0" fill="#6070d0"/><rect x="59.0" y="63.0" width="1.0" height="1.0" fill="#5868d0"/><rect x="60.0" y="63.0" width="1.0" height="1.0" fill="#8088d8"/><rect x="62.0" y="63.0" width="1.0" height="1.0" fill="#6068d0"/><rect x="63.0" y="63.0" width="1.0" height="1.0" fill="#8088d8"/><rect x="28.0" y="64.0" width="1.0" height="1.0" fill="#5868d0"/><rect x="29.0" y="64.0" width="1.0" height="1.0" fill="#3048c8"/><rect x="30.0" y="64.0" width="1.0" height="1.0" fill="#4080e0"/><rect x="31.0" y="64.0" width="1.0" height="1.0" fill="#48c098"/><rect x="32.0" y="64.0" width="1.0" height="1.0" fill="#b8e040"/><rect x="33.0" y="64.0" width="1.0" height="1.0" fill="#f0a020"/><rect x="34.0" y="64.0" width="1.0" height="1.0" fill="#e04018"/><rect x="35.0" y="64.0" width="2.0" height="1.0" fill="#d82810"/><rect x="37.0" y="64.0" width="1.0" height="1.0" fill="#e86018"/><rect x="38.0" y="64.0" width="1.0" height="1.0" fill="#f0c828"/><rect x="39.0" y="64.0" width="1.0" height="1.0" fill="#88d058"/><rect x="40.0" y="64.0" width="1.0" height="1.0" fill="#48a8c0"/><rect x="41.0" y="64.0" width="1.0" height="1.0" fill="#3860d0"/><rect x="42.0" y="64.0" width="1.0" height="1.0" fill="#3048c8"/><rect x="43.0" y="64.0" width="2.0" height="1.0" fill="#3040c0"/><rect x="47.0" y="64.0" width="1.0" height="1.0" fill="#8090d8"/><rect x="51.0" y="64.0" width="1.0" height="1.0" fill="#7080d8"/><rect x="52.0" y="64.0" width="1.0" height="1.0" fill="#7078d0"/><rect x="53.0" y="64.0" width="1.0" height="1.0" fill="#6070d0"/><rect x="54.0" y="64.0" width="1.0" height="1.0" fill="#6068d0"/><rect x="55.0" y="64.0" width="2.0" height="1.0" fill="#6878d0"/><rect x="57.0" y="64.0" width="1.0" height="1.0" fill="#6870d0"/><rect x="58.0" y="64.0" width="1.0" height="1.0" fill="#8890d8"/><rect x="59.0" y="64.0" width="1.0" height="1.0" fill="#6870d0"/><rect x="60.0" y="64.0" width="1.0" height="1.0" fill="#6878d0"/><rect x="64.0" y="64.0" width="1.0" height="1.0" fill="#6870d0"/><rect x="27.0" y="65.0" width="1.0" height="1.0" fill="#6070d0"/><rect x="28.0" y="65.0" width="1.0" height="1.0" fill="#7078d0"/><rect x="29.0" y="65.0" width="1.0" height="1.0" fill="#3048c8"/><rect x="30.0" y="65.0" width="1.0" height="1.0" fill="#4088e0"/><rect x="31.0" y="65.0" width="1.0" height="1.0" fill="#50c890"/><rect x="32.0" y="65.0" width="1.0" height="1.0" fill="#c8e038"/><rect x="33.0" y="65.0" width="1.0" height="1.0" fill="#f09820"/><rect x="34.0" y="65.0" width="3.0" height="1.0" fill="#d82810"/><rect x="37.0" y="65.0" width="1.0" height="1.0" fill="#e05018"/><rect x="38.0" y="65.0" width="1.0" height="1.0" fill="#f0c028"/><rect x="39.0" y="65.0" width="1.0" height="1.0" fill="#90d850"/><rect x="40.0" y="65.0" width="1.0" height="1.0" fill="#48b0b8"/><rect x="41.0" y="65.0" width="1.0" height="1.0" fill="#3860d0"/><rect x="42.0" y="65.0" width="1.0" height="1.0" fill="#3048c8"/><rect x="43.0" y="65.0" width="1.0" height="1.0" fill="#3040c0"/><rect x="44.0" y="65.0" width="1.0" height="1.0" fill="#6870d0"/><rect x="47.0" y="65.0" width="1.0" height="1.0" fill="#8088d8"/><rect x="49.0" y="65.0" width="1.0" height="1.0" fill="#5868d0"/><rect x="51.0" y="65.0" width="1.0" height="1.0" fill="#8890d8"/><rect x="53.0" y="65.0" width="1.0" height="1.0" fill="#5860d0"/><rect x="54.0" y="65.0" width="1.0" height="1.0" fill="#7880d8"/><rect x="55.0" y="65.0" width="1.0" height="1.0" fill="#8890d8"/><rect x="56.0" y="65.0" width="1.0" height="1.0" fill="#8088d8"/><rect x="57.0" y="65.0" width="1.0" height="1.0" fill="#6070d0"/><rect x="62.0" y="65.0" width="1.0" height="1.0" fill="#7078d0"/><rect x="64.0" y="65.0" width="1.0" height="1.0" fill="#6070d0"/><rect x="28.0" y="66.0" width="1.0" height="1.0" fill="#4048c0"/><rect x="29.0" y="66.0" width="1.0" height="1.0" fill="#3048c8"/><rect x="30.0" y="66.0" width="1.0" height="1.0" fill="#4080e0"/><rect x="31.0" y="66.0" width="1.0" height="1.0" fill="#50c090"/><rect x="32.0" y="66.0" width="1.0" height="1.0" fill="#c8e038"/><rect x="33.0" y="66.0" width="1.0" height="1.0" fill="#f09820"/><rect x="34.0" y="66.0" width="1.0" height="1.0" fill="#d83010"/><rect x="35.0" y="66.0" width="2.0" height="1.0" fill="#d82810"/><rect x="37.0" y="66.0" width="1.0" height="1.0" fill="#e05018"/><rect x="38.0" y="66.0" width="1.0" height="1.0" fill="#f0c028"/><rect x="39.0" y="66.0" width="1.0" height="1.0" fill="#90d050"/><rect x="40.0" y="66.0" width="1.0" height="1.0" fill="#48b0b8"/><rect x="41.0" y="66.0" width="1.0" height="1.0" fill="#3860d0"/><rect x="42.0" y="66.0" width="1.0" height="1.0" fill="#3048c0"/><rect x="43.0" y="66.0" width="1.0" height="1.0" fill="#3040c0"/><rect x="44.0" y="66.0" width="1.0" height="1.0" fill="#7080d8"/><rect x="45.0" y="66.0" width="1.0" height="1.0" fill="#8090d8"/><rect x="46.0" y="66.0" width="1.0" height="1.0" fill="#5060c8"/><rect x="47.0" y="66.0" width="1.0" height="1.0" fill="#8090d8"/><rect x="48.0" y="66.0" width="1.0" height="1.0" fill="#6070d0"/><rect x="49.0" y="66.0" width="1.0" height="1.0" fill="#8088d8"/><rect x="50.0" y="66.0" width="1.0" height="1.0" fill="#8890d8"/><rect x="51.0" y="66.0" width="2.0" height="1.0" fill="#7078d0"/><rect x="58.0" y="66.0" width="1.0" height="1.0" fill="#8090d8"/><rect x="60.0" y="66.0" width="1.0" height="1.0" fill="#7880d8"/><rect x="61.0" y="66.0" width="1.0" height="1.0" fill="#5060c8"/><rect x="63.0" y="66.0" width="1.0" height="1.0" fill="#7080d8"/><rect x="28.0" y="67.0" width="1.0" height="1.0" fill="#3040c0"/><rect x="29.0" y="67.0" width="1.0" height="1.0" fill="#3048c8"/><rect x="30.0" y="67.0" width="1.0" height="1.0" fill="#4080e0"/><rect x="31.0" y="67.0" width="1.0" height="1.0" fill="#48c098"/><rect x="32.0" y="67.0" width="1.0" height="1.0" fill="#b0d840"/><rect x="33.0" y="67.0" width="1.0" height="1.0" fill="#f0b020"/><rect x="34.0" y="67.0" width="1.0" height="1.0" fill="#e04818"/><rect x="35.0" y="67.0" width="2.0" height="1.0" fill="#d82810"/><rect x="37.0" y="67.0" width="1.0" height="1.0" fill="#e87018"/><rect x="38.0" y="67.0" width="1.0" height="1.0" fill="#f0d030"/><rect x="39.0" y="67.0" width="1.0" height="1.0" fill="#80d060"/><rect x="40.0" y="67.0" width="1.0" height="1.0" fill="#48a8c8"/><rect x="41.0" y="67.0" width="1.0" height="1.0" fill="#3058d0"/><rect x="42.0" y="67.0" width="1.0" height="1.0" fill="#3048c0"/><rect x="43.0" y="67.0" width="2.0" height="1.0" fill="#3040c0"/><rect x="45.0" y="67.0" width="1.0" height="1.0" fill="#4850c8"/><rect x="46.0" y="67.0" width="1.0" height="1.0" fill="#4858c8"/><rect x="47.0" y="67.0" width="1.0" height="1.0" fill="#7880d8"/><rect x="49.0" y="67.0" width="1.0" height="1.0" fill="#7078d0"/><rect x="51.0" y="67.0" width="1.0" height="1.0" fill="#6878d0"/><rect x="54.0" y="67.0" width="1.0" height="1.0" fill="#6070d0"/><rect x="55.0" y="67.0" width="1.0" height="1.0" fill="#6878d0"/><rect x="56.0" y="67.0" width="1.0" height="1.0" fill="#8088d8"/><rect x="59.0" y="67.0" width="2.0" height="1.0" fill="#8088d8"/><rect x="62.0" y="67.0" width="1.0" height="1.0" fill="#7080d0"/><rect x="63.0" y="67.0" width="1.0" height="1.0" fill="#6070d0"/><rect x="27.0" y="68.0" width="1.0" height="1.0" fill="#7888d8"/><rect x="29.0" y="68.0" width="1.0" height="1.0" fill="#3040c0"/><rect x="30.0" y="68.0" width="1.0" height="1.0" fill="#3870d8"/><rect x="31.0" y="68.0" width="1.0" height="1.0" fill="#48b0b0"/><rect x="32.0" y="68.0" width="1.0" height="1.0" fill="#90d850"/><rect x="33.0" y="68.0" width="1.0" height="1.0" fill="#f0d030"/><rect x="34.0" y="68.0" width="1.0" height="1.0" fill="#f08018"/><rect x="35.0" y="68.0" width="1.0" height="1.0" fill="#e05018"/><rect x="36.0" y="68.0" width="1.0" height="1.0" fill="#e85818"/><rect x="37.0" y="68.0" width="1.0" height="1.0" fill="#f0a020"/><rect x="38.0" y="68.0" width="1.0" height="1.0" fill="#d8e038"/><rect x="39.0" y="68.0" width="1.0" height="1.0" fill="#68c870"/><rect x="40.0" y="68.0" width="1.0" height="1.0" fill="#48a0d8"/><rect x="41.0" y="68.0" width="1.0" height="1.0" fill="#3050d0"/><rect x="42.0" y="68.0" width="2.0" height="1.0" fill="#3040c0"/><rect x="44.0" y="68.0" width="1.0" height="1.0" fill="#6068d0"/><rect x="45.0" y="68.0" width="1.0" height="1.0" fill="#8090d8"/><rect x="46.0" y="68.0" width="1.0" height="1.0" fill="#7078d0"/><rect x="47.0" y="68.0" width="1.0" height="1.0" fill="#8890d8"/><rect x="50.0" y="68.0" width="1.0" height="1.0" fill="#7080d8"/><rect x="51.0" y="68.0" width="1.0" height="1.0" fill="#7080d0"/><rect x="52.0" y="68.0" width="1.0" height="1.0" fill="#6870d0"/><rect x="53.0" y="68.0" width="1.0" height="1.0" fill="#6070d0"/><rect x="54.0" y="68.0" width="1.0" height="1.0" fill="#5868d0"/><rect x="56.0" y="68.0" width="1.0" height="1.0" fill="#5060c8"/><rect x="57.0" y="68.0" width="1.0" height="1.0" fill="#7880d8"/><rect x="58.0" y="68.0" width="1.0" height="1.0" fill="#5060c8"/><rect x="61.0" y="68.0" width="1.0" height="1.0" fill="#8088d8"/><rect x="29.0" y="69.0" width="1.0" height="1.0" fill="#4050c8"/><rect x="30.0" y="69.0" width="1.0" height="1.0" fill="#3058d0"/><rect x="31.0" y="69.0" width="1.0" height="1.0" fill="#48a0c8"/><rect x="32.0" y="69.0" width="1.0" height="1.0" fill="#70d070"/><rect x="33.0" y="69.0" width="1.0" height="1.0" fill="#d0e038"/><rect x="34.0" y="69.0" width="1.0" height="1.0" fill="#f0b828"/><rect x="35.0" y="69.0" width="1.0" height="1.0" fill="#f09820"/><rect x="36.0" y="69.0" width="1.0" height="1.0" fill="#f0a020"/><rect x="37.0" y="69.0" width="1.0" height="1.0" fill="#f0d030"/><rect x="38.0" y="69.0" width="1.0" height="1.0" fill="#a0d840"/><rect x="39.0" y="69.0" width="1.0" height="1.0" fill="#48c090"/><rect x="40.0" y="69.0" width="1.0" height="1.0" fill="#4090e0"/><rect x="41.0" y="69.0" width="1.0" height="1.0" fill="#3048c8"/><rect x="42.0" y="69.0" width="2.0" height="1.0" fill="#3040c0"/><rect x="44.0" y="69.0" width="1.0" height="1.0" fill="#7880d8"/><rect x="48.0" y="69.0" width="1.0" height="1.0" fill="#5868d0"/><rect x="49.0" y="69.0" width="1.0" height="1.0" fill="#6070d0"/><rect x="50.0" y="69.0" width="1.0" height="1.0" fill="#7078d0"/><rect x="51.0" y="69.0" width="1.0" height="1.0" fill="#6070d0"/><rect x="55.0" y="69.0" width="1.0" height="1.0" fill="#7080d8"/><rect x="58.0" y="69.0" width="1.0" height="1.0" fill="#7080d0"/><rect x="62.0" y="69.0" width="1.0" height="1.0" fill="#7880d8"/><rect x="28.0" y="70.0" width="1.0" height="1.0" fill="#4050c0"/><rect x="29.0" y="70.0" width="1.0" height="1.0" fill="#3840c0"/><rect x="30.0" y="70.0" width="1.0" height="1.0" fill="#3050c8"/><rect x="31.0" y="70.0" width="1.0" height="1.0" fill="#4090e0"/><rect x="32.0" y="70.0" width="1.0" height="1.0" fill="#48c098"/><rect x="33.0" y="70.0" width="1.0" height="1.0" fill="#90d050"/><rect x="34.0" y="70.0" width="1.0" height="1.0" fill="#d8e038"/><rect x="35.0" y="70.0" width="1.0" height="1.0" fill="#f0d830"/><rect x="36.0" y="70.0" width="1.0" height="1.0" fill="#e8e030"/><rect x="37.0" y="70.0" width="1.0" height="1.0" fill="#b8e040"/><rect x="38.0" y="70.0" width="1.0" height="1.0" fill="#70d068"/><rect x="39.0" y="70.0" width="1.0" height="1.0" fill="#48b0b8"/><rect x="40.0" y="70.0" width="1.0" height="1.0" fill="#3870d8"/><rect x="41.0" y="70.0" width="1.0" height="1.0" fill="#3048c0"/><rect x="42.0" y="70.0" width="3.0" height="1.0" fill="#3040c0"/><rect x="47.0" y="70.0" width="1.0" height="1.0" fill="#7080d8"/><rect x="48.0" y="70.0" width="1.0" height="1.0" fill="#5860c8"/><rect x="49.0" y="70.0" width="1.0" height="1.0" fill="#7080d8"/><rect x="50.0" y="70.0" width="1.0" height="1.0" fill="#6070d0"/><rect x="52.0" y="70.0" width="1.0" height="1.0" fill="#8890d8"/><rect x="53.0" y="70.0" width="1.0" height="1.0" fill="#6070d0"/><rect x="54.0" y="70.0" width="1.0" height="1.0" fill="#6878d0"/><rect x="55.0" y="70.0" width="1.0" height="1.0" fill="#8090d8"/><rect x="57.0" y="70.0" width="1.0" height="1.0" fill="#8088d8"/><rect x="60.0" y="70.0" width="1.0" height="1.0" fill="#8090d8"/><rect x="28.0" y="71.0" width="1.0" height="1.0" fill="#6068d0"/><rect x="29.0" y="71.0" width="1.0" height="1.0" fill="#4858c8"/><rect x="30.0" y="71.0" width="1.0" height="1.0" fill="#3048c8"/><rect x="31.0" y="71.0" width="1.0" height="1.0" fill="#3868d8"/><rect x="32.0" y="71.0" width="1.0" height="1.0" fill="#48a8c8"/><rect x="33.0" y="71.0" width="1.0" height="1.0" fill="#58c888"/><rect x="34.0" y="71.0" width="1.0" height="1.0" fill="#88d058"/><rect x="35.0" y="71.0" width="1.0" height="1.0" fill="#a0d840"/><rect x="36.0" y="71.0" width="1.0" height="1.0" fill="#98d848"/><rect x="37.0" y="71.0" width="1.0" height="1.0" fill="#78d068"/><rect x="38.0" y="71.0" width="1.0" height="1.0" fill="#48c0a0"/><rect x="39.0" y="71.0" width="1.0" height="1.0" fill="#4898e8"/><rect x="40.0" y="71.0" width="1.0" height="1.0" fill="#3050d0"/><rect x="41.0" y="71.0" width="3.0" height="1.0" fill="#3040c0"/><rect x="45.0" y="71.0" width="1.0" height="1.0" fill="#6070d0"/><rect x="47.0" y="71.0" width="1.0" height="1.0" fill="#7880d8"/><rect x="48.0" y="71.0" width="2.0" height="1.0" fill="#8090d8"/><rect x="50.0" y="71.0" width="1.0" height="1.0" fill="#8088d8"/><rect x="51.0" y="71.0" width="1.0" height="1.0" fill="#8090d8"/><rect x="52.0" y="71.0" width="1.0" height="1.0" fill="#8890d8"/><rect x="53.0" y="71.0" width="1.0" height="1.0" fill="#8090d8"/><rect x="56.0" y="71.0" width="1.0" height="1.0" fill="#7080d8"/><rect x="58.0" y="71.0" width="1.0" height="1.0" fill="#5868d0"/><rect x="62.0" y="71.0" width="1.0" height="1.0" fill="#7080d0"/><rect x="29.0" y="72.0" width="1.0" height="1.0" fill="#3840c0"/><rect x="30.0" y="72.0" width="1.0" height="1.0" fill="#7078d0"/><rect x="31.0" y="72.0" width="1.0" height="1.0" fill="#3050c8"/><rect x="32.0" y="72.0" width="1.0" height="1.0" fill="#4080e0"/><rect x="33.0" y="72.0" width="1.0" height="1.0" fill="#48a8c0"/><rect x="34.0" y="72.0" width="1.0" height="1.0" fill="#48c098"/><rect x="35.0" y="72.0" width="1.0" height="1.0" fill="#58c880"/><rect x="36.0" y="72.0" width="1.0" height="1.0" fill="#50c888"/><rect x="37.0" y="72.0" width="1.0" height="1.0" fill="#48b8a8"/><rect x="38.0" y="72.0" width="1.0" height="1.0" fill="#48a0d8"/><rect x="39.0" y="72.0" width="1.0" height="1.0" fill="#3868d8"/><rect x="40.0" y="72.0" width="1.0" height="1.0" fill="#3048c8"/><rect x="41.0" y="72.0" width="2.0" height="1.0" fill="#3040c0"/><rect x="43.0" y="72.0" width="1.0" height="1.0" fill="#6870d0"/><rect x="44.0" y="72.0" width="1.0" height="1.0" fill="#4050c8"/><rect x="45.0" y="72.0" width="1.0" height="1.0" fill="#5868d0"/><rect x="46.0" y="72.0" width="1.0" height="1.0" fill="#6068d0"/><rect x="47.0" y="72.0" width="1.0" height="1.0" fill="#8890d8"/><rect x="48.0" y="72.0" width="1.0" height="1.0" fill="#6878d0"/><rect x="50.0" y="72.0" width="1.0" height="1.0" fill="#8090d8"/><rect x="53.0" y="72.0" width="1.0" height="1.0" fill="#7888d8"/><rect x="54.0" y="72.0" width="1.0" height="1.0" fill="#8088d8"/><rect x="56.0" y="72.0" width="1.0" height="1.0" fill="#6070d0"/><rect x="60.0" y="72.0" width="1.0" height="1.0" fill="#8890d8"/><rect x="63.0" y="72.0" width="1.0" height="1.0" fill="#7880d8"/><rect x="29.0" y="73.0" width="1.0" height="1.0" fill="#4850c8"/><rect x="31.0" y="73.0" width="1.0" height="1.0" fill="#3040c0"/><rect x="32.0" y="73.0" width="1.0" height="1.0" fill="#3058d0"/><rect x="33.0" y="73.0" width="1.0" height="1.0" fill="#4080e0"/><rect x="34.0" y="73.0" width="1.0" height="1.0" fill="#48a0d8"/><rect x="35.0" y="73.0" width="2.0" height="1.0" fill="#48a8c8"/><rect x="37.0" y="73.0" width="1.0" height="1.0" fill="#4898e0"/><rect x="38.0" y="73.0" width="1.0" height="1.0" fill="#3870d8"/><rect x="39.0" y="73.0" width="1.0" height="1.0" fill="#3050c8"/><rect x="40.0" y="73.0" width="3.0" height="1.0" fill="#3040c0"/><rect x="44.0" y="73.0" width="1.0" height="1.0" fill="#5060c8"/><rect x="46.0" y="73.0" width="1.0" height="1.0" fill="#8090d8"/><rect x="58.0" y="73.0" width="2.0" height="1.0" fill="#7078d0"/><rect x="60.0" y="73.0" width="1.0" height="1.0" fill="#8090d8"/><rect x="29.0" y="74.0" width="1.0" height="1.0" fill="#5060c8"/><rect x="30.0" y="74.0" width="1.0" height="1.0" fill="#4858c8"/><rect x="31.0" y="74.0" width="1.0" height="1.0" fill="#7078d0"/><rect x="32.0" y="74.0" width="1.0" height="1.0" fill="#3048c8"/><rect x="33.0" y="74.0" width="1.0" height="1.0" fill="#3050d0"/><rect x="34.0" y="74.0" width="1.0" height="1.0" fill="#3868d8"/><rect x="35.0" y="74.0" width="2.0" height="1.0" fill="#4078d8"/><rect x="37.0" y="74.0" width="1.0" height="1.0" fill="#3860d0"/><rect x="38.0" y="74.0" width="1.0" height="1.0" fill="#3050c8"/><rect x="39.0" y="74.0" width="1.0" height="1.0" fill="#3040c0"/><rect x="40.0" y="74.0" width="1.0" height="1.0" fill="#4850c8"/><rect x="41.0" y="74.0" width="1.0" height="1.0" fill="#3040c0"/><rect x="42.0" y="74.0" width="1.0" height="1.0" fill="#6068d0"/><rect x="44.0" y="74.0" width="1.0" height="1.0" fill="#6870d0"/><rect x="50.0" y="74.0" width="1.0" height="1.0" fill="#7880d8"/><rect x="53.0" y="74.0" width="1.0" height="1.0" fill="#8090d8"/><rect x="57.0" y="74.0" width="1.0" height="1.0" fill="#7880d8"/><rect x="61.0" y="74.0" width="1.0" height="1.0" fill="#6068d0"/><rect x="29.0" y="75.0" width="1.0" height="1.0" fill="#7080d8"/><rect x="32.0" y="75.0" width="1.0" height="1.0" fill="#7080d0"/><rect x="33.0" y="75.0" width="1.0" height="1.0" fill="#3040c0"/><rect x="34.0" y="75.0" width="1.0" height="1.0" fill="#3048c8"/><rect x="35.0" y="75.0" width="1.0" height="1.0" fill="#3050c8"/><rect x="36.0" y="75.0" width="2.0" height="1.0" fill="#3048c8"/><rect x="38.0" y="75.0" width="1.0" height="1.0" fill="#3040c0"/><rect x="40.0" y="75.0" width="1.0" height="1.0" fill="#3040c0"/><rect x="42.0" y="75.0" width="1.0" height="1.0" fill="#7888d8"/><rect x="44.0" y="75.0" width="1.0" height="1.0" fill="#8890d8"/><rect x="46.0" y="75.0" width="1.0" height="1.0" fill="#5868d0"/><rect x="50.0" y="75.0" width="1.0" height="1.0" fill="#5060c8"/><rect x="52.0" y="75.0" width="1.0" height="1.0" fill="#8090d8"/><rect x="55.0" y="75.0" width="1.0" height="1.0" fill="#5860c8"/><rect x="57.0" y="75.0" width="1.0" height="1.0" fill="#8088d8"/><rect x="58.0" y="75.0" width="1.0" height="1.0" fill="#7880d8"/><rect x="60.0" y="75.0" width="1.0" height="1.0" fill="#7880d8"/><rect x="64.0" y="75.0" width="1.0" height="1.0" fill="#5860c8"/><rect x="29.0" y="76.0" width="1.0" height="1.0" fill="#3040c0"/><rect x="30.0" y="76.0" width="1.0" height="1.0" fill="#4850c8"/><rect x="31.0" y="76.0" width="3.0" height="1.0" fill="#3040c0"/><rect x="34.0" y="76.0" width="1.0" height="1.0" fill="#3048c0"/><rect x="35.0" y="76.0" width="20.0" height="1.0" fill="#3048c8"/><rect x="55.0" y="76.0" width="1.0" height="1.0" fill="#3048c0"/><rect x="56.0" y="76.0" width="3.0" height="1.0" fill="#3040c0"/><rect x="59.0" y="76.0" width="1.0" height="1.0" fill="#3840c0"/><rect x="61.0" y="76.0" width="1.0" height="1.0" fill="#4050c8"/><rect x="62.0" y="76.0" width="1.0" height="1.0" fill="#4050c0"/><rect x="33.0" y="77.0" width="1.0" height="1.0" fill="#6878d0"/><rect x="34.0" y="77.0" width="1.0" height="1.0" fill="#4858c8"/><rect x="35.0" y="77.0" width="1.0" height="1.0" fill="#7080d0"/><rect x="41.0" y="77.0" width="1.0" height="1.0" fill="#8088d8"/><rect x="29.0" y="78.0" width="1.0" height="1.0" fill="#5060c8"/><rect x="36.0" y="78.0" width="1.0" height="1.0" fill="#7078d0"/><rect x="39.0" y="78.0" width="1.0" height="1.0" fill="#6070d0"/><rect x="40.0" y="78.0" width="1.0" height="1.0" fill="#7078d0"/><rect x="35.0" y="79.0" width="1.0" height="1.0" fill="#6068d0"/><rect x="43.0" y="79.0" width="1.0" height="1.0" fill="#6068d0"/><rect x="142.0" y="39.0" width="1.0" height="1.0" fill="#7888d8"/><rect x="138.0" y="40.0" width="1.0" height="1.0" fill="#5868d0"/><rect x="139.0" y="40.0" width="1.0" height="1.0" fill="#3848c0"/><rect x="143.0" y="40.0" width="1.0" height="1.0" fill="#7880d8"/><rect x="144.0" y="40.0" width="1.0" height="1.0" fill="#5060c8"/><rect x="148.0" y="40.0" width="1.0" height="1.0" fill="#7078d0"/><rect x="151.0" y="40.0" width="1.0" height="1.0" fill="#8088d8"/><rect x="152.0" y="40.0" width="1.0" height="1.0" fill="#6070d0"/><rect x="129.0" y="41.0" width="4.0" height="1.0" fill="#3040c0"/><rect x="133.0" y="41.0" width="1.0" height="1.0" fill="#3048c0"/><rect x="134.0" y="41.0" width="4.0" height="1.0" fill="#3048c8"/><rect x="138.0" y="41.0" width="1.0" height="1.0" fill="#3048c0"/><rect x="139.0" y="41.0" width="3.0" height="1.0" fill="#3040c0"/><rect x="142.0" y="41.0" width="1.0" height="1.0" fill="#6870d0"/><rect x="144.0" y="41.0" width="1.0" height="1.0" fill="#3040c0"/><rect x="152.0" y="41.0" width="1.0" height="1.0" fill="#7078d0"/><rect x="118.0" y="42.0" width="1.0" height="1.0" fill="#6068d0"/><rect x="119.0" y="42.0" width="1.0" height="1.0" fill="#7880d8"/><rect x="120.0" y="42.0" width="1.0" height="1.0" fill="#4858c8"/><rect x="121.0" y="42.0" width="1.0" height="1.0" fill="#7880d8"/><rect x="122.0" y="42.0" width="1.0" height="1.0" fill="#6070d0"/><rect x="124.0" y="42.0" width="1.0" height="1.0" fill="#8088d8"/><rect x="125.0" y="42.0" width="1.0" height="1.0" fill="#3040c0"/><rect x="127.0" y="42.0" width="1.0" height="1.0" fill="#3040c0"/><rect x="128.0" y="42.0" width="2.0" height="1.0" fill="#3048c8"/><rect x="130.0" y="42.0" width="1.0" height="1.0" fill="#3050c8"/><rect x="131.0" y="42.0" width="1.0" height="1.0" fill="#3050d0"/><rect x="132.0" y="42.0" width="1.0" height="1.0" fill="#3058d0"/><rect x="133.0" y="42.0" width="1.0" height="1.0" fill="#3860d0"/><rect x="134.0" y="42.0" width="4.0" height="1.0" fill="#3868d8"/><rect x="138.0" y="42.0" width="1.0" height="1.0" fill="#3860d0"/><rect x="139.0" y="42.0" width="1.0" height="1.0" fill="#3058d0"/><rect x="140.0" y="42.0" width="1.0" height="1.0" fill="#3050d0"/><rect x="141.0" y="42.0" width="1.0" height="1.0" fill="#3050c8"/><rect x="142.0" y="42.0" width="2.0" height="1.0" fill="#3048c8"/><rect x="144.0" y="42.0" width="1.0" height="1.0" fill="#3040c0"/><rect x="146.0" y="42.0" width="1.0" height="1.0" fill="#8890d8"/><rect x="148.0" y="42.0" width="1.0" height="1.0" fill="#8088d8"/><rect x="114.0" y="43.0" width="1.0" height="1.0" fill="#8090d8"/><rect x="116.0" y="43.0" width="2.0" height="1.0" fill="#7880d8"/><rect x="118.0" y="43.0" width="1.0" height="1.0" fill="#6870d0"/><rect x="119.0" y="43.0" width="1.0" height="1.0" fill="#4050c8"/><rect x="120.0" y="43.0" width="6.0" height="1.0" fill="#3040c0"/><rect x="126.0" y="43.0" width="1.0" height="1.0" fill="#3048c8"/><rect x="127.0" y="43.0" width="1.0" height="1.0" fill="#3050c8"/><rect x="128.0" y="43.0" width="1.0" height="1.0" fill="#3058d0"/><rect x="129.0" y="43.0" width="1.0" height="1.0" fill="#3870d8"/><rect x="130.0" y="43.0" width="1.0" height="1.0" fill="#4080e0"/><rect x="131.0" y="43.0" width="1.0" height="1.0" fill="#4090e0"/><rect x="132.0" y="43.0" width="1.0" height="1.0" fill="#4898e0"/><rect x="133.0" y="43.0" width="1.0" height="1.0" fill="#48a0d8"/><rect x="134.0" y="43.0" width="4.0" height="1.0" fill="#48a0d0"/><rect x="138.0" y="43.0" width="1.0" height="1.0" fill="#48a0d8"/><rect x="139.0" y="43.0" width="1.0" height="1.0" fill="#4898e0"/><rect x="140.0" y="43.0" width="1.0" height="1.0" fill="#4090e0"/><rect x="141.0" y="43.0" width="1.0" height="1.0" fill="#4080e0"/><rect x="142.0" y="43.0" width="1.0" height="1.0" fill="#3870d8"/><rect x="143.0" y="43.0" width="1.0" height="1.0" fill="#3058d0"/><rect x="144.0" y="43.0" width="1.0" height="1.0" fill="#3050c8"/><rect x="145.0" y="43.0" width="1.0" height="1.0" fill="#3048c8"/><rect x="146.0" y="43.0" width="2.0" height="1.0" fill="#3040c0"/><rect x="149.0" y="43.0" width="1.0" height="1.0" fill="#6070d0"/><rect x="111.0" y="44.0" width="1.0" height="1.0" fill="#7888d8"/><rect x="114.0" y="44.0" width="1.0" height="1.0" fill="#5058c8"/><rect x="115.0" y="44.0" width="1.0" height="1.0" fill="#3848c0"/><rect x="116.0" y="44.0" width="2.0" height="1.0" fill="#3040c0"/><rect x="118.0" y="44.0" width="4.0" height="1.0" fill="#3048c8"/><rect x="122.0" y="44.0" width="4.0" height="1.0" fill="#3050c8"/><rect x="126.0" y="44.0" width="1.0" height="1.0" fill="#3860d0"/><rect x="127.0" y="44.0" width="1.0" height="1.0" fill="#4078d8"/><rect x="128.0" y="44.0" width="1.0" height="1.0" fill="#4090e0"/><rect x="129.0" y="44.0" width="1.0" height="1.0" fill="#48a0d0"/><rect x="130.0" y="44.0" width="1.0" height="1.0" fill="#48b0c0"/><rect x="131.0" y="44.0" width="1.0" height="1.0" fill="#48b8a8"/><rect x="132.0" y="44.0" width="1.0" height="1.0" fill="#48c098"/><rect x="133.0" y="44.0" width="1.0" height="1.0" fill="#50c890"/><rect x="134.0" y="44.0" width="1.0" height="1.0" fill="#58c880"/><rect x="135.0" y="44.0" width="2.0" height="1.0" fill="#60c880"/><rect x="137.0" y="44.0" width="1.0" height="1.0" fill="#58c880"/><rect x="138.0" y="44.0" width="1.0" height="1.0" fill="#50c890"/><rect x="139.0" y="44.0" width="1.0" height="1.0" fill="#48c098"/><rect x="140.0" y="44.0" width="1.0" height="1.0" fill="#48b8a8"/><rect x="141.0" y="44.0" width="1.0" height="1.0" fill="#48b0c0"/><rect x="142.0" y="44.0" width="1.0" height="1.0" fill="#48a0d0"/><rect x="143.0" y="44.0" width="1.0" height="1.0" fill="#4090e0"/><rect x="144.0" y="44.0" width="1.0" height="1.0" fill="#4078d8"/><rect x="145.0" y="44.0" width="1.0" height="1.0" fill="#3860d0"/><rect x="146.0" y="44.0" width="1.0" height="1.0" fill="#3050c8"/><rect x="147.0" y="44.0" width="1.0" height="1.0" fill="#3048c8"/><rect x="148.0" y="44.0" width="1.0" height="1.0" fill="#3040c0"/><rect x="149.0" y="44.0" width="1.0" height="1.0" fill="#8088d8"/><rect x="112.0" y="45.0" width="3.0" height="1.0" fill="#3040c0"/><rect x="115.0" y="45.0" width="2.0" height="1.0" fill="#3048c8"/><rect x="117.0" y="45.0" width="2.0" height="1.0" fill="#3050c8"/><rect x="119.0" y="45.0" width="1.0" height="1.0" fill="#3050d0"/><rect x="120.0" y="45.0" width="1.0" height="1.0" fill="#3058d0"/><rect x="121.0" y="45.0" width="1.0" height="1.0" fill="#3860d0"/><rect x="122.0" y="45.0" width="1.0" height="1.0" fill="#3868d0"/><rect x="123.0" y="45.0" width="2.0" height="1.0" fill="#3868d8"/><rect x="125.0" y="45.0" width="1.0" height="1.0" fill="#3870d8"/><rect x="126.0" y="45.0" width="1.0" height="1.0" fill="#4088e0"/><rect x="127.0" y="45.0" width="1.0" height="1.0" fill="#48a0d0"/><rect x="128.0" y="45.0" width="1.0" height="1.0" fill="#48b0b8"/><rect x="129.0" y="45.0" width="1.0" height="1.0" fill="#48c098"/><rect x="130.0" y="45.0" width="1.0" height="1.0" fill="#60c880"/><rect x="131.0" y="45.0" width="1.0" height="1.0" fill="#78d068"/><rect x="132.0" y="45.0" width="1.0" height="1.0" fill="#88d050"/><rect x="133.0" y="45.0" width="1.0" height="1.0" fill="#98d848"/><rect x="134.0" y="45.0" width="1.0" height="1.0" fill="#a8d840"/><rect x="135.0" y="45.0" width="2.0" height="1.0" fill="#b0d840"/><rect x="137.0" y="45.0" width="1.0" height="1.0" fill="#a8d840"/><rect x="138.0" y="45.0" width="1.0" height="1.0" fill="#98d848"/><rect x="139.0" y="45.0" width="1.0" height="1.0" fill="#88d050"/><rect x="140.0" y="45.0" width="1.0" height="1.0" fill="#78d068"/><rect x="141.0" y="45.0" width="1.0" height="1.0" fill="#60c880"/><rect x="142.0" y="45.0" width="1.0" height="1.0" fill="#48c098"/><rect x="143.0" y="45.0" width="1.0" height="1.0" fill="#48b0b8"/><rect x="144.0" y="45.0" width="1.0" height="1.0" fill="#48a0d0"/><rect x="145.0" y="45.0" width="1.0" height="1.0" fill="#4088e0"/><rect x="146.0" y="45.0" width="1.0" height="1.0" fill="#3870d8"/><rect x="147.0" y="45.0" width="1.0" height="1.0" fill="#3050d0"/><rect x="148.0" y="45.0" width="1.0" height="1.0" fill="#3048c8"/><rect x="149.0" y="45.0" width="1.0" height="1.0" fill="#3040c0"/><rect x="111.0" y="46.0" width="2.0" height="1.0" fill="#3040c0"/><rect x="113.0" y="46.0" width="2.0" height="1.0" fill="#3048c8"/><rect x="115.0" y="46.0" width="1.0" height="1.0" fill="#3050c8"/><rect x="116.0" y="46.0" width="1.0" height="1.0" fill="#3050d0"/><rect x="117.0" y="46.0" width="1.0" height="1.0" fill="#3860d0"/><rect x="118.0" y="46.0" width="1.0" height="1.0" fill="#3868d8"/><rect x="119.0" y="46.0" width="1.0" height="1.0" fill="#3870d8"/><rect x="120.0" y="46.0" width="1.0" height="1.0" fill="#4078e0"/><rect x="121.0" y="46.0" width="1.0" height="1.0" fill="#4080e0"/><rect x="122.0" y="46.0" width="1.0" height="1.0" fill="#4088e0"/><rect x="123.0" y="46.0" width="2.0" height="1.0" fill="#4090e0"/><rect x="125.0" y="46.0" width="1.0" height="1.0" fill="#4890e0"/><rect x="126.0" y="46.0" width="1.0" height="1.0" fill="#48a8c8"/><rect x="127.0" y="46.0" width="1.0" height="1.0" fill="#48b8a0"/><rect x="128.0" y="46.0" width="1.0" height="1.0" fill="#58c880"/><rect x="129.0" y="46.0" width="1.0" height="1.0" fill="#78d060"/><rect x="130.0" y="46.0" width="1.0" height="1.0" fill="#98d848"/><rect x="131.0" y="46.0" width="1.0" height="1.0" fill="#c0e040"/><rect x="132.0" y="46.0" width="1.0" height="1.0" fill="#e0e038"/><rect x="133.0" y="46.0" width="1.0" height="1.0" fill="#f0e030"/><rect x="134.0" y="46.0" width="1.0" height="1.0" fill="#f0d030"/><rect x="135.0" y="46.0" width="2.0" height="1.0" fill="#f0c828"/><rect x="137.0" y="46.0" width="1.0" height="1.0" fill="#f0d030"/><rect x="138.0" y="46.0" width="1.0" height="1.0" fill="#f0e030"/><rect x="139.0" y="46.0" width="1.0" height="1.0" fill="#e0e038"/><rect x="140.0" y="46.0" width="1.0" height="1.0" fill="#c0e040"/><rect x="141.0" y="46.0" width="1.0" height="1.0" fill="#98d848"/><rect x="142.0" y="46.0" width="1.0" height="1.0" fill="#78d060"/><rect x="143.0" y="46.0" width="1.0" height="1.0" fill="#58c880"/><rect x="144.0" y="46.0" width="1.0" height="1.0" fill="#48b8a0"/><rect x="145.0" y="46.0" width="1.0" height="1.0" fill="#48a8c8"/><rect x="146.0" y="46.0" width="1.0" height="1.0" fill="#4090e0"/><rect x="147.0" y="46.0" width="1.0" height="1.0" fill="#3870d8"/><rect x="148.0" y="46.0" width="1.0" height="1.0" fill="#3050d0"/><rect x="149.0" y="46.0" width="1.0" height="1.0" fill="#3048c8"/><rect x="150.0" y="46.0" width="1.0" height="1.0" fill="#3040c0"/><rect x="111.0" y="47.0" width="2.0" height="1.0" fill="#3048c8"/><rect x="113.0" y="47.0" width="1.0" height="1.0" fill="#3050c8"/><rect x="114.0" y="47.0" width="1.0" height="1.0" fill="#3050d0"/><rect x="115.0" y="47.0" width="1.0" height="1.0" fill="#3860d0"/><rect x="116.0" y="47.0" width="1.0" height="1.0" fill="#3868d8"/><rect x="117.0" y="47.0" width="1.0" height="1.0" fill="#4078d8"/><rect x="118.0" y="47.0" width="1.0" height="1.0" fill="#4080e0"/><rect x="119.0" y="47.0" width="1.0" height="1.0" fill="#4090e0"/><rect x="120.0" y="47.0" width="1.0" height="1.0" fill="#4898e0"/><rect x="121.0" y="47.0" width="1.0" height="1.0" fill="#48a0d8"/><rect x="122.0" y="47.0" width="2.0" height="1.0" fill="#48a0d0"/><rect x="124.0" y="47.0" width="2.0" height="1.0" fill="#48a8c8"/><rect x="126.0" y="47.0" width="1.0" height="1.0" fill="#48b8a8"/><rect x="127.0" y="47.0" width="1.0" height="1.0" fill="#60c880"/><rect x="128.0" y="47.0" width="1.0" height="1.0" fill="#80d058"/><rect x="129.0" y="47.0" width="1.0" height="1.0" fill="#b0d840"/><rect x="130.0" y="47.0" width="1.0" height="1.0" fill="#d8e038"/><rect x="131.0" y="47.0" width="1.0" height="1.0" fill="#f0d030"/><rect x="132.0" y="47.0" width="1.0" height="1.0" fill="#f0b828"/><rect x="133.0" y="47.0" width="1.0" height="1.0" fill="#f0a020"/><rect x="134.0" y="47.0" width="1.0" height="1.0" fill="#f09020"/><rect x="135.0" y="47.0" width="2.0" height="1.0" fill="#f08820"/><rect x="137.0" y="47.0" width="1.0" height="1.0" fill="#f09020"/><rect x="138.0" y="47.0" width="1.0" height="1.0" fill="#f0a020"/><rect x="139.0" y="47.0" width="1.0" height="1.0" fill="#f0b828"/><rect x="140.0" y="47.0" width="1.0" height="1.0" fill="#f0d030"/><rect x="141.0" y="47.0" width="1.0" height="1.0" fill="#d8e038"/><rect x="142.0" y="47.0" width="1.0" height="1.0" fill="#b0d840"/><rect x="143.0" y="47.0" width="1.0" height="1.0" fill="#80d058"/><rect x="144.0" y="47.0" width="1.0" height="1.0" fill="#60c880"/><rect x="145.0" y="47.0" width="1.0" height="1.0" fill="#48b8a8"/><rect x="146.0" y="47.0" width="1.0" height="1.0" fill="#48a0d0"/><rect x="147.0" y="47.0" width="1.0" height="1.0" fill="#4088e0"/><rect x="148.0" y="47.0" width="1.0" height="1.0" fill="#3868d8"/><rect x="149.0" y="47.0" width="1.0" height="1.0" fill="#3050c8"/><rect x="150.0" y="47.0" width="1.0" height="1.0" fill="#3048c0"/><rect x="111.0" y="48.0" width="1.0" height="1.0" fill="#3048c8"/><rect x="112.0" y="48.0" width="1.0" height="1.0" fill="#3050c8"/><rect x="113.0" y="48.0" width="1.0" height="1.0" fill="#3050d0"/><rect x="114.0" y="48.0" width="1.0" height="1.0" fill="#3860d0"/><rect x="115.0" y="48.0" width="1.0" height="1.0" fill="#3870d8"/><rect x="116.0" y="48.0" width="1.0" height="1.0" fill="#4080e0"/><rect x="117.0" y="48.0" width="1.0" height="1.0" fill="#4090e0"/><rect x="118.0" y="48.0" width="1.0" height="1.0" fill="#4898e0"/><rect x="119.0" y="48.0" width="1.0" height="1.0" fill="#48a0d8"/><rect x="120.0" y="48.0" width="1.0" height="1.0" fill="#48a8c8"/><rect x="121.0" y="48.0" width="1.0" height="1.0" fill="#48a8c0"/><rect x="122.0" y="48.0" width="1.0" height="1.0" fill="#48b0b8"/><rect x="123.0" y="48.0" width="1.0" height="1.0" fill="#48b0b0"/><rect x="124.0" y="48.0" width="1.0" height="1.0" fill="#48b8b0"/><rect x="125.0" y="48.0" width="1.0" height="1.0" fill="#48b8a8"/><rect x="126.0" y="48.0" width="1.0" height="1.0" fill="#50c090"/><rect x="127.0" y="48.0" width="1.0" height="1.0" fill="#78d068"/><rect x="128.0" y="48.0" width="1.0" height="1.0" fill="#a0d840"/><rect x="129.0" y="48.0" width="1.0" height="1.0" fill="#d8e038"/><rect x="130.0" y="48.0" width="1.0" height="1.0" fill="#f0d030"/><rect x="131.0" y="48.0" width="1.0" height="1.0" fill="#f0b020"/><rect x="132.0" y="48.0" width="1.0" height="1.0" fill="#f09020"/><rect x="133.0" y="48.0" width="1.0" height="1.0" fill="#e87018"/><rect x="134.0" y="48.0" width="1.0" height="1.0" fill="#e86018"/><rect x="135.0" y="48.0" width="2.0" height="1.0" fill="#e05018"/><rect x="137.0" y="48.0" width="1.0" height="1.0" fill="#e86018"/><rect x="138.0" y="48.0" width="1.0" height="1.0" fill="#e87018"/><rect x="139.0" y="48.0" width="1.0" height="1.0" fill="#f09020"/><rect x="140.0" y="48.0" width="1.0" height="1.0" fill="#f0b020"/><rect x="141.0" y="48.0" width="1.0" height="1.0" fill="#f0d030"/><rect x="142.0" y="48.0" width="1.0" height="1.0" fill="#d8e038"/><rect x="143.0" y="48.0" width="1.0" height="1.0" fill="#a0d840"/><rect x="144.0" y="48.0" width="1.0" height="1.0" fill="#78d068"/><rect x="145.0" y="48.0" width="1.0" height="1.0" fill="#50c090"/><rect x="146.0" y="48.0" width="1.0" height="1.0" fill="#48b0b8"/><rect x="147.0" y="48.0" width="1.0" height="1.0" fill="#4898e0"/><rect x="148.0" y="48.0" width="1.0" height="1.0" fill="#4078d8"/><rect x="149.0" y="48.0" width="1.0" height="1.0" fill="#3050d0"/><rect x="150.0" y="48.0" width="1.0" height="1.0" fill="#3048c8"/><rect x="151.0" y="48.0" width="1.0" height="1.0" fill="#3040c0"/><rect x="152.0" y="48.0" width="1.0" height="1.0" fill="#6878d0"/><rect x="111.0" y="49.0" width="1.0" height="1.0" fill="#3048c8"/><rect x="112.0" y="49.0" width="1.0" height="1.0" fill="#3050d0"/><rect x="113.0" y="49.0" width="1.0" height="1.0" fill="#3858d0"/><rect x="114.0" y="49.0" width="1.0" height="1.0" fill="#3868d8"/><rect x="115.0" y="49.0" width="1.0" height="1.0" fill="#4078e0"/><rect x="116.0" y="49.0" width="1.0" height="1.0" fill="#4088e0"/><rect x="117.0" y="49.0" width="1.0" height="1.0" fill="#4898e0"/><rect x="118.0" y="49.0" width="1.0" height="1.0" fill="#48a0d0"/><rect x="119.0" y="49.0" width="1.0" height="1.0" fill="#48a8c8"/><rect x="120.0" y="49.0" width="1.0" height="1.0" fill="#48b0b8"/><rect x="121.0" y="49.0" width="1.0" height="1.0" fill="#48b0b0"/><rect x="122.0" y="49.0" width="1.0" height="1.0" fill="#48b8a8"/><rect x="123.0" y="49.0" width="2.0" height="1.0" fill="#48c0a0"/><rect x="125.0" y="49.0" width="1.0" height="1.0" fill="#48c098"/><rect x="126.0" y="49.0" width="1.0" height="1.0" fill="#58c888"/><rect x="127.0" y="49.0" width="1.0" height="1.0" fill="#80d060"/><rect x="128.0" y="49.0" width="1.0" height="1.0" fill="#b0d840"/><rect x="129.0" y="49.0" width="1.0" height="1.0" fill="#e8e830"/><rect x="130.0" y="49.0" width="1.0" height="1.0" fill="#f0c028"/><rect x="131.0" y="49.0" width="1.0" height="1.0" fill="#f0a020"/><rect x="132.0" y="49.0" width="1.0" height="1.0" fill="#f07818"/><rect x="133.0" y="49.0" width="1.0" height="1.0" fill="#e86018"/><rect x="134.0" y="49.0" width="1.0" height="1.0" fill="#e04818"/><rect x="135.0" y="49.0" width="2.0" height="1.0" fill="#e03818"/><rect x="137.0" y="49.0" width="1.0" height="1.0" fill="#e04818"/><rect x="138.0" y="49.0" width="1.0" height="1.0" fill="#e86018"/><rect x="139.0" y="49.0" width="1.0" height="1.0" fill="#f07818"/><rect x="140.0" y="49.0" width="1.0" height="1.0" fill="#f0a020"/><rect x="141.0" y="49.0" width="1.0" height="1.0" fill="#f0c028"/><rect x="142.0" y="49.0" width="1.0" height="1.0" fill="#e8e830"/><rect x="143.0" y="49.0" width="1.0" height="1.0" fill="#b0d840"/><rect x="144.0" y="49.0" width="1.0" height="1.0" fill="#80d060"/><rect x="145.0" y="49.0" width="1.0" height="1.0" fill="#58c888"/><rect x="146.0" y="49.0" width="1.0" height="1.0" fill="#48b0b0"/><rect x="147.0" y="49.0" width="1.0" height="1.0" fill="#48a0d8"/><rect x="148.0" y="49.0" width="1.0" height="1.0" fill="#4078e0"/><rect x="149.0" y="49.0" width="1.0" height="1.0" fill="#3058d0"/><rect x="150.0" y="49.0" width="1.0" height="1.0" fill="#3048c8"/><rect x="151.0" y="49.0" width="1.0" height="1.0" fill="#3040c0"/><rect x="111.0" y="50.0" width="1.0" height="1.0" fill="#3048c8"/><rect x="112.0" y="50.0" width="1.0" height="1.0" fill="#3050d0"/><rect x="113.0" y="50.0" width="1.0" height="1.0" fill="#3860d0"/><rect x="114.0" y="50.0" width="1.0" height="1.0" fill="#3870d8"/><rect x="115.0" y="50.0" width="1.0" height="1.0" fill="#4080e0"/><rect x="116.0" y="50.0" width="1.0" height="1.0" fill="#4090e0"/><rect x="117.0" y="50.0" width="1.0" height="1.0" fill="#4898e0"/><rect x="118.0" y="50.0" width="1.0" height="1.0" fill="#48a0d0"/><rect x="119.0" y="50.0" width="1.0" height="1.0" fill="#48a8c0"/><rect x="120.0" y="50.0" width="1.0" height="1.0" fill="#48b0b8"/><rect x="121.0" y="50.0" width="1.0" height="1.0" fill="#48b8b0"/><rect x="122.0" y="50.0" width="1.0" height="1.0" fill="#48b8a0"/><rect x="123.0" y="50.0" width="1.0" height="1.0" fill="#48c0a0"/><rect x="124.0" y="50.0" width="2.0" height="1.0" fill="#48c098"/><rect x="126.0" y="50.0" width="1.0" height="1.0" fill="#50c890"/><rect x="127.0" y="50.0" width="1.0" height="1.0" fill="#78d060"/><rect x="128.0" y="50.0" width="1.0" height="1.0" fill="#a8d840"/><rect x="129.0" y="50.0" width="1.0" height="1.0" fill="#d8e038"/><rect x="130.0" y="50.0" width="1.0" height="1.0" fill="#f0c828"/><rect x="131.0" y="50.0" width="1.0" height="1.0" fill="#f0a820"/><rect x="132.0" y="50.0" width="1.0" height="1.0" fill="#f08820"/><rect x="133.0" y="50.0" width="1.0" height="1.0" fill="#e86818"/><rect x="134.0" y="50.0" width="1.0" height="1.0" fill="#e05818"/><rect x="135.0" y="50.0" width="2.0" height="1.0" fill="#e04818"/><rect x="137.0" y="50.0" width="1.0" height="1.0" fill="#e05818"/><rect x="138.0" y="50.0" width="1.0" height="1.0" fill="#e86818"/><rect x="139.0" y="50.0" width="1.0" height="1.0" fill="#f08820"/><rect x="140.0" y="50.0" width="1.0" height="1.0" fill="#f0a820"/><rect x="141.0" y="50.0" width="1.0" height="1.0" fill="#f0c828"/><rect x="142.0" y="50.0" width="1.0" height="1.0" fill="#d8e038"/><rect x="143.0" y="50.0" width="1.0" height="1.0" fill="#a8d840"/><rect x="144.0" y="50.0" width="1.0" height="1.0" fill="#78d060"/><rect x="145.0" y="50.0" width="1.0" height="1.0" fill="#50c890"/><rect x="146.0" y="50.0" width="1.0" height="1.0" fill="#48b0b8"/><rect x="147.0" y="50.0" width="1.0" height="1.0" fill="#4898e0"/><rect x="148.0" y="50.0" width="1.0" height="1.0" fill="#4078d8"/><rect x="149.0" y="50.0" width="1.0" height="1.0" fill="#3050d0"/><rect x="150.0" y="50.0" width="1.0" height="1.0" fill="#3048c8"/><rect x="151.0" y="50.0" width="1.0" height="1.0" fill="#3040c0"/><rect x="111.0" y="51.0" width="1.0" height="1.0" fill="#3048c8"/><rect x="112.0" y="51.0" width="1.0" height="1.0" fill="#3050c8"/><rect x="113.0" y="51.0" width="1.0" height="1.0" fill="#3058d0"/><rect x="114.0" y="51.0" width="1.0" height="1.0" fill="#3868d8"/><rect x="115.0" y="51.0" width="1.0" height="1.0" fill="#4078d8"/><rect x="116.0" y="51.0" width="1.0" height="1.0" fill="#4088e0"/><rect x="117.0" y="51.0" width="1.0" height="1.0" fill="#4890e8"/><rect x="118.0" y="51.0" width="1.0" height="1.0" fill="#48a0d8"/><rect x="119.0" y="51.0" width="1.0" height="1.0" fill="#48a0c8"/><rect x="120.0" y="51.0" width="1.0" height="1.0" fill="#48a8c0"/><rect x="121.0" y="51.0" width="1.0" height="1.0" fill="#48b0b8"/><rect x="122.0" y="51.0" width="1.0" height="1.0" fill="#48b8b0"/><rect x="123.0" y="51.0" width="1.0" height="1.0" fill="#48b8a8"/><rect x="124.0" y="51.0" width="3.0" height="1.0" fill="#48c0a0"/><rect x="127.0" y="51.0" width="1.0" height="1.0" fill="#60c878"/><rect x="128.0" y="51.0" width="1.0" height="1.0" fill="#88d050"/><rect x="129.0" y="51.0" width="1.0" height="1.0" fill="#b8e040"/><rect x="130.0" y="51.0" width="1.0" height="1.0" fill="#e8e830"/><rect x="131.0" y="51.0" width="1.0" height="1.0" fill="#f0c828"/><rect x="132.0" y="51.0" width="1.0" height="1.0" fill="#f0b020"/><rect x="133.0" y="51.0" width="1.0" height="1.0" fill="#f09820"/><rect x="134.0" y="51.0" width="1.0" height="1.0" fill="#f08820"/><rect x="135.0" y="51.0" width="2.0" height="1.0" fill="#f07818"/><rect x="137.0" y="51.0" width="1.0" height="1.0" fill="#f08820"/><rect x="138.0" y="51.0" width="1.0" height="1.0" fill="#f09820"/><rect x="139.0" y="51.0" width="1.0" height="1.0" fill="#f0b020"/><rect x="140.0" y="51.0" width="1.0" height="1.0" fill="#f0c828"/><rect x="141.0" y="51.0" width="1.0" height="1.0" fill="#e8e830"/><rect x="142.0" y="51.0" width="1.0" height="1.0" fill="#b8e040"/><rect x="143.0" y="51.0" width="1.0" height="1.0" fill="#88d050"/><rect x="144.0" y="51.0" width="1.0" height="1.0" fill="#60c878"/><rect x="145.0" y="51.0" width="1.0" height="1.0" fill="#48c0a0"/><rect x="146.0" y="51.0" width="1.0" height="1.0" fill="#48a8c8"/><rect x="147.0" y="51.0" width="1.0" height="1.0" fill="#4090e0"/><rect x="148.0" y="51.0" width="1.0" height="1.0" fill="#3868d8"/><rect x="149.0" y="51.0" width="1.0" height="1.0" fill="#3050c8"/><rect x="150.0" y="51.0" width="1.0" height="1.0" fill="#3048c8"/><rect x="151.0" y="51.0" width="1.0" height="1.0" fill="#3040c0"/><rect x="111.0" y="52.0" width="2.0" height="1.0" fill="#3048c8"/><rect x="113.0" y="52.0" width="1.0" height="1.0" fill="#3050d0"/><rect x="114.0" y="52.0" width="1.0" height="1.0" fill="#3858d0"/><rect x="115.0" y="52.0" width="1.0" height="1.0" fill="#3868d8"/><rect x="116.0" y="52.0" width="1.0" height="1.0" fill="#4078d8"/><rect x="117.0" y="52.0" width="1.0" height="1.0" fill="#4088e0"/><rect x="118.0" y="52.0" width="1.0" height="1.0" fill="#4090e0"/><rect x="119.0" y="52.0" width="1.0" height="1.0" fill="#4898e0"/><rect x="120.0" y="52.0" width="1.0" height="1.0" fill="#48a0d0"/><rect x="121.0" y="52.0" width="1.0" height="1.0" fill="#48a8c8"/><rect x="122.0" y="52.0" width="1.0" height="1.0" fill="#48a8c0"/><rect x="123.0" y="52.0" width="2.0" height="1.0" fill="#48b0b8"/><rect x="125.0" y="52.0" width="2.0" height="1.0" fill="#48b0b0"/><rect x="127.0" y="52.0" width="1.0" height="1.0" fill="#48c0a0"/><rect x="128.0" y="52.0" width="1.0" height="1.0" fill="#60c878"/><rect x="129.0" y="52.0" width="1.0" height="1.0" fill="#80d058"/><rect x="130.0" y="52.0" width="1.0" height="1.0" fill="#a8d840"/><rect x="131.0" y="52.0" width="1.0" height="1.0" fill="#d0e038"/><rect x="132.0" y="52.0" width="1.0" height="1.0" fill="#e8e030"/><rect x="133.0" y="52.0" width="1.0" height="1.0" fill="#f0d030"/><rect x="134.0" y="52.0" width="1.0" height="1.0" fill="#f0c028"/><rect x="135.0" y="52.0" width="2.0" height="1.0" fill="#f0b828"/><rect x="137.0" y="52.0" width="1.0" height="1.0" fill="#f0c028"/><rect x="138.0" y="52.0" width="1.0" height="1.0" fill="#f0d030"/><rect x="139.0" y="52.0" width="1.0" height="1.0" fill="#e8e030"/><rect x="140.0" y="52.0" width="1.0" height="1.0" fill="#d0e038"/><rect x="141.0" y="52.0" width="1.0" height="1.0" fill="#a8d840"/><rect x="142.0" y="52.0" width="1.0" height="1.0" fill="#80d058"/><rect x="143.0" y="52.0" width="1.0" height="1.0" fill="#60c878"/><rect x="144.0" y="52.0" width="1.0" height="1.0" fill="#48c0a0"/><rect x="145.0" y="52.0" width="1.0" height="1.0" fill="#48a8c0"/><rect x="146.0" y="52.0" width="1.0" height="1.0" fill="#4898e0"/><rect x="147.0" y="52.0" width="1.0" height="1.0" fill="#4078d8"/><rect x="148.0" y="52.0" width="1.0" height="1.0" fill="#3058d0"/><rect x="149.0" y="52.0" width="1.0" height="1.0" fill="#3048c8"/><rect x="150.0" y="52.0" width="1.0" height="1.0" fill="#3040c0"/><rect x="111.0" y="53.0" width="1.0" height="1.0" fill="#3040c0"/><rect x="112.0" y="53.0" width="2.0" height="1.0" fill="#3048c8"/><rect x="114.0" y="53.0" width="1.0" height="1.0" fill="#3050c8"/><rect x="115.0" y="53.0" width="1.0" height="1.0" fill="#3058d0"/><rect x="116.0" y="53.0" width="1.0" height="1.0" fill="#3860d0"/><rect x="117.0" y="53.0" width="1.0" height="1.0" fill="#3870d8"/><rect x="118.0" y="53.0" width="1.0" height="1.0" fill="#4078d8"/><rect x="119.0" y="53.0" width="1.0" height="1.0" fill="#4080e0"/><rect x="120.0" y="53.0" width="1.0" height="1.0" fill="#4090e0"/><rect x="121.0" y="53.0" width="1.0" height="1.0" fill="#4898e8"/><rect x="122.0" y="53.0" width="1.0" height="1.0" fill="#4898e0"/><rect x="123.0" y="53.0" width="2.0" height="1.0" fill="#48a0d8"/><rect x="125.0" y="53.0" width="2.0" height="1.0" fill="#48a0d0"/><rect x="127.0" y="53.0" width="1.0" height="1.0" fill="#48a8c8"/><rect x="128.0" y="53.0" width="1.0" height="1.0" fill="#48b8a8"/><rect x="129.0" y="53.0" width="1.0" height="1.0" fill="#50c890"/><rect x="130.0" y="53.0" width="1.0" height="1.0" fill="#68d070"/><rect x="131.0" y="53.0" width="1.0" height="1.0" fill="#80d058"/><rect x="132.0" y="53.0" width="1.0" height="1.0" fill="#98d848"/><rect x="133.0" y="53.0" width="1.0" height="1.0" fill="#b0d840"/><rect x="134.0" y="53.0" width="1.0" height="1.0" fill="#c0e040"/><rect x="135.0" y="53.0" width="2.0" height="1.0" fill="#c0e038"/><rect x="137.0" y="53.0" width="1.0" height="1.0" fill="#c0e040"/><rect x="138.0" y="53.0" width="1.0" height="1.0" fill="#b0d840"/><rect x="139.0" y="53.0" width="1.0" height="1.0" fill="#98d848"/><rect x="140.0" y="53.0" width="1.0" height="1.0" fill="#80d058"/><rect x="141.0" y="53.0" width="1.0" height="1.0" fill="#68d070"/><rect x="142.0" y="53.0" width="1.0" height="1.0" fill="#50c890"/><rect x="143.0" y="53.0" width="1.0" height="1.0" fill="#48b8a8"/><rect x="144.0" y="53.0" width="1.0" height="1.0" fill="#48a8c8"/><rect x="145.0" y="53.0" width="1.0" height="1.0" fill="#4890e0"/><rect x="146.0" y="53.0" width="1.0" height="1.0" fill="#4070d8"/><rect x="147.0" y="53.0" width="1.0" height="1.0" fill="#3058d0"/><rect x="148.0" y="53.0" width="1.0" height="1.0" fill="#3048c8"/><rect x="149.0" y="53.0" width="1.0" height="1.0" fill="#3040c0"/><rect x="111.0" y="54.0" width="1.0" height="1.0" fill="#7078d0"/><rect x="112.0" y="54.0" width="1.0" height="1.0" fill="#3040c0"/><rect x="113.0" y="54.0" width="1.0" height="1.0" fill="#3048c0"/><rect x="114.0" y="54.0" width="2.0" height="1.0" fill="#3048c8"/><rect x="116.0" y="54.0" width="1.0" height="1.0" fill="#3050c8"/><rect x="117.0" y="54.0" width="1.0" height="1.0" fill="#3050d0"/><rect x="118.0" y="54.0" width="1.0" height="1.0" fill="#3860d0"/><rect x="119.0" y="54.0" width="1.0" height="1.0" fill="#3868d0"/><rect x="120.0" y="54.0" width="1.0" height="1.0" fill="#3870d8"/><rect x="121.0" y="54.0" width="1.0" height="1.0" fill="#4078d8"/><rect x="122.0" y="54.0" width="1.0" height="1.0" fill="#4078e0"/><rect x="123.0" y="54.0" width="5.0" height="1.0" fill="#4080e0"/><rect x="128.0" y="54.0" width="1.0" height="1.0" fill="#4898e0"/><rect x="129.0" y="54.0" width="1.0" height="1.0" fill="#48a8c8"/><rect x="130.0" y="54.0" width="1.0" height="1.0" fill="#48b0b0"/><rect x="131.0" y="54.0" width="1.0" height="1.0" fill="#48c0a0"/><rect x="132.0" y="54.0" width="1.0" height="1.0" fill="#50c888"/><rect x="133.0" y="54.0" width="1.0" height="1.0" fill="#60c880"/><rect x="134.0" y="54.0" width="1.0" height="1.0" fill="#68c870"/><rect x="135.0" y="54.0" width="2.0" height="1.0" fill="#70d070"/><rect x="137.0" y="54.0" width="1.0" height="1.0" fill="#68c870"/><rect x="138.0" y="54.0" width="1.0" height="1.0" fill="#60c880"/><rect x="139.0" y="54.0" width="1.0" height="1.0" fill="#50c888"/><rect x="140.0" y="54.0" width="1.0" height="1.0" fill="#48c0a0"/><rect x="141.0" y="54.0" width="1.0" height="1.0" fill="#48b0b0"/><rect x="142.0" y="54.0" width="1.0" height="1.0" fill="#48a8c8"/><rect x="143.0" y="54.0" width="1.0" height="1.0" fill="#4898e0"/><rect x="144.0" y="54.0" width="1.0" height="1.0" fill="#4080e0"/><rect x="145.0" y="54.0" width="1.0" height="1.0" fill="#3868d8"/><rect x="146.0" y="54.0" width="1.0" height="1.0" fill="#3050d0"/><rect x="147.0" y="54.0" width="1.0" height="1.0" fill="#3048c8"/><rect x="148.0" y="54.0" width="1.0" height="1.0" fill="#3040c0"/><rect x="149.0" y="54.0" width="1.0" height="1.0" fill="#6070d0"/><rect x="151.0" y="54.0" width="1.0" height="1.0" fill="#6070d0"/><rect x="155.0" y="54.0" width="1.0" height="1.0" fill="#8088d8"/><rect x="112.0" y="55.0" width="1.0" height="1.0" fill="#5860d0"/><rect x="113.0" y="55.0" width="3.0" height="1.0" fill="#3040c0"/><rect x="116.0" y="55.0" width="3.0" height="1.0" fill="#3048c8"/><rect x="119.0" y="55.0" width="1.0" height="1.0" fill="#3050c8"/><rect x="120.0" y="55.0" width="2.0" height="1.0" fill="#3050d0"/><rect x="122.0" y="55.0" width="2.0" height="1.0" fill="#3058d0"/><rect x="124.0" y="55.0" width="5.0" height="1.0" fill="#3860d0"/><rect x="129.0" y="55.0" width="1.0" height="1.0" fill="#4078d8"/><rect x="130.0" y="55.0" width="1.0" height="1.0" fill="#4088e0"/><rect x="131.0" y="55.0" width="1.0" height="1.0" fill="#4898e0"/><rect x="132.0" y="55.0" width="1.0" height="1.0" fill="#48a0d0"/><rect x="133.0" y="55.0" width="1.0" height="1.0" fill="#48a8c8"/><rect x="134.0" y="55.0" width="1.0" height="1.0" fill="#48a8c0"/><rect x="135.0" y="55.0" width="2.0" height="1.0" fill="#48b0c0"/><rect x="137.0" y="55.0" width="1.0" height="1.0" fill="#48a8c0"/><rect x="138.0" y="55.0" width="1.0" height="1.0" fill="#48a8c8"/><rect x="139.0" y="55.0" width="1.0" height="1.0" fill="#48a0d0"/><rect x="140.0" y="55.0" width="1.0" height="1.0" fill="#4898e0"/><rect x="141.0" y="55.0" width="1.0" height="1.0" fill="#4088e0"/><rect x="142.0" y="55.0" width="1.0" height="1.0" fill="#4078d8"/><rect x="143.0" y="55.0" width="1.0" height="1.0" fill="#3860d0"/><rect x="144.0" y="55.0" width="1.0" height="1.0" fill="#3050d0"/><rect x="145.0" y="55.0" width="1.0" height="1.0" fill="#3048c8"/><rect x="146.0" y="55.0" width="1.0" height="1.0" fill="#3040c0"/><rect x="147.0" y="55.0" width="1.0" height="1.0" fill="#6070d0"/><rect x="152.0" y="55.0" width="1.0" height="1.0" fill="#6070d0"/><rect x="112.0" y="56.0" width="1.0" height="1.0" fill="#8090d8"/><rect x="113.0" y="56.0" width="1.0" height="1.0" fill="#4050c8"/><rect x="114.0" y="56.0" width="1.0" height="1.0" fill="#3848c0"/><rect x="115.0" y="56.0" width="1.0" height="1.0" fill="#6870d0"/><rect x="116.0" y="56.0" width="4.0" height="1.0" fill="#3040c0"/><rect x="120.0" y="56.0" width="9.0" height="1.0" fill="#3048c8"/><rect x="129.0" y="56.0" width="1.0" height="1.0" fill="#3050c8"/><rect x="130.0" y="56.0" width="1.0" height="1.0" fill="#3050d0"/><rect x="131.0" y="56.0" width="1.0" height="1.0" fill="#3858d0"/><rect x="132.0" y="56.0" width="1.0" height="1.0" fill="#3868d8"/><rect x="133.0" y="56.0" width="1.0" height="1.0" fill="#3870d8"/><rect x="134.0" y="56.0" width="1.0" height="1.0" fill="#4070d8"/><rect x="135.0" y="56.0" width="2.0" height="1.0" fill="#4078d8"/><rect x="137.0" y="56.0" width="1.0" height="1.0" fill="#4070d8"/><rect x="138.0" y="56.0" width="1.0" height="1.0" fill="#3870d8"/><rect x="139.0" y="56.0" width="1.0" height="1.0" fill="#3868d8"/><rect x="140.0" y="56.0" width="1.0" height="1.0" fill="#3858d0"/><rect x="141.0" y="56.0" width="1.0" height="1.0" fill="#3050d0"/><rect x="142.0" y="56.0" width="1.0" height="1.0" fill="#3050c8"/><rect x="143.0" y="56.0" width="1.0" height="1.0" fill="#3048c8"/><rect x="144.0" y="56.0" width="1.0" height="1.0" fill="#3048c0"/><rect x="145.0" y="56.0" width="1.0" height="1.0" fill="#3040c0"/><rect x="146.0" y="56.0" width="1.0" height="1.0" fill="#4850c8"/><rect x="147.0" y="56.0" width="1.0" height="1.0" fill="#8088d8"/><rect x="149.0" y="56.0" width="1.0" height="1.0" fill="#8090d8"/><rect x="113.0" y="57.0" width="1.0" height="1.0" fill="#5868d0"/><rect x="115.0" y="57.0" width="1.0" height="1.0" fill="#5058c8"/><rect x="117.0" y="57.0" width="1.0" height="1.0" fill="#3848c0"/><rect x="119.0" y="57.0" width="1.0" height="1.0" fill="#7080d0"/><rect x="120.0" y="57.0" width="1.0" height="1.0" fill="#3040c0"/><rect x="121.0" y="57.0" width="1.0" height="1.0" fill="#4050c8"/><rect x="122.0" y="57.0" width="1.0" height="1.0" fill="#8088d8"/><rect x="124.0" y="57.0" width="3.0" height="1.0" fill="#3040c0"/><rect x="127.0" y="57.0" width="1.0" height="1.0" fill="#5060c8"/><rect x="128.0" y="57.0" width="1.0" height="1.0" fill="#3040c0"/><rect x="129.0" y="57.0" width="1.0" height="1.0" fill="#7080d0"/><rect x="130.0" y="57.0" width="2.0" height="1.0" fill="#3040c0"/><rect x="132.0" y="57.0" width="11.0" height="1.0" fill="#3048c8"/><rect x="143.0" y="57.0" width="4.0" height="1.0" fill="#3040c0"/><rect x="147.0" y="57.0" width="1.0" height="1.0" fill="#6070d0"/><rect x="118.0" y="58.0" width="1.0" height="1.0" fill="#6068d0"/><rect x="121.0" y="58.0" width="1.0" height="1.0" fill="#7078d0"/><rect x="131.0" y="58.0" width="1.0" height="1.0" fill="#5868d0"/><rect x="133.0" y="58.0" width="2.0" height="1.0" fill="#3040c0"/><rect x="135.0" y="58.0" width="2.0" height="1.0" fill="#6068d0"/><rect x="137.0" y="58.0" width="9.0" height="1.0" fill="#3040c0"/><rect x="146.0" y="58.0" width="1.0" height="1.0" fill="#3848c0"/><rect x="151.0" y="58.0" width="1.0" height="1.0" fill="#7880d8"/><rect x="135.0" y="59.0" width="1.0" height="1.0" fill="#7880d8"/><rect x="136.0" y="59.0" width="1.0" height="1.0" fill="#5058c8"/><rect x="137.0" y="59.0" width="2.0" height="1.0" fill="#8088d8"/><rect x="139.0" y="59.0" width="1.0" height="1.0" fill="#5060c8"/><rect x="140.0" y="59.0" width="2.0" height="1.0" fill="#3040c0"/><rect x="142.0" y="59.0" width="1.0" height="1.0" fill="#8088d8"/><rect x="143.0" y="59.0" width="1.0" height="1.0" fill="#5060c8"/><rect x="144.0" y="59.0" width="1.0" height="1.0" fill="#4858c8"/><rect x="148.0" y="59.0" width="1.0" height="1.0" fill="#6068d0"/><rect x="150.0" y="59.0" width="1.0" height="1.0" fill="#5060c8"/><rect x="136.0" y="60.0" width="1.0" height="1.0" fill="#5060c8"/><rect x="137.0" y="60.0" width="1.0" height="1.0" fill="#8088d8"/><rect x="139.0" y="60.0" width="1.0" height="1.0" fill="#4858c8"/><rect x="140.0" y="60.0" width="1.0" height="1.0" fill="#4050c8"/><rect x="141.0" y="60.0" width="1.0" height="1.0" fill="#3840c0"/><rect x="142.0" y="60.0" width="2.0" height="1.0" fill="#8090d8"/><rect x="144.0" y="60.0" width="1.0" height="1.0" fill="#7080d8"/><rect x="145.0" y="60.0" width="1.0" height="1.0" fill="#7888d8"/><rect x="148.0" y="60.0" width="1.0" height="1.0" fill="#5868d0"/><rect x="149.0" y="60.0" width="1.0" height="1.0" fill="#6068d0"/><rect x="153.0" y="60.0" width="1.0" height="1.0" fill="#5060c8"/><rect x="142.0" y="61.0" width="1.0" height="1.0" fill="#5868d0"/><rect x="143.0" y="61.0" width="1.0" height="1.0" fill="#7888d8"/><rect x="147.0" y="61.0" width="1.0" height="1.0" fill="#8090d8"/><rect x="233.0" y="38.0" width="1.0" height="1.0" fill="#7078d0"/><rect x="238.0" y="38.0" width="1.0" height="1.0" fill="#7080d0"/><rect x="242.0" y="38.0" width="1.0" height="1.0" fill="#7078d0"/><rect x="228.0" y="39.0" width="1.0" height="1.0" fill="#6878d0"/><rect x="248.0" y="39.0" width="1.0" height="1.0" fill="#7888d8"/><rect x="237.0" y="40.0" width="1.0" height="1.0" fill="#7078d0"/><rect x="238.0" y="40.0" width="1.0" height="1.0" fill="#8088d8"/><rect x="239.0" y="40.0" width="1.0" height="1.0" fill="#6878d0"/><rect x="243.0" y="40.0" width="1.0" height="1.0" fill="#7888d8"/><rect x="253.0" y="40.0" width="1.0" height="1.0" fill="#7078d0"/><rect x="214.0" y="41.0" width="1.0" height="1.0" fill="#8090d8"/><rect x="226.0" y="41.0" width="1.0" height="1.0" fill="#6878d0"/><rect x="228.0" y="41.0" width="1.0" height="1.0" fill="#5860d0"/><rect x="235.0" y="41.0" width="1.0" height="1.0" fill="#5060c8"/><rect x="246.0" y="41.0" width="1.0" height="1.0" fill="#8088d8"/><rect x="251.0" y="41.0" width="1.0" height="1.0" fill="#8090d8"/><rect x="211.0" y="42.0" width="1.0" height="1.0" fill="#6068d0"/><rect x="214.0" y="42.0" width="1.0" height="1.0" fill="#7080d8"/><rect x="221.0" y="42.0" width="1.0" height="1.0" fill="#6870d0"/><rect x="223.0" y="42.0" width="1.0" height="1.0" fill="#7078d0"/><rect x="228.0" y="42.0" width="1.0" height="1.0" fill="#6878d0"/><rect x="237.0" y="42.0" width="1.0" height="1.0" fill="#7078d0"/><rect x="244.0" y="42.0" width="1.0" height="1.0" fill="#7080d0"/><rect x="245.0" y="42.0" width="1.0" height="1.0" fill="#8088d8"/><rect x="247.0" y="42.0" width="1.0" height="1.0" fill="#5060c8"/><rect x="249.0" y="42.0" width="2.0" height="1.0" fill="#5060c8"/><rect x="210.0" y="43.0" width="1.0" height="1.0" fill="#6878d0"/><rect x="212.0" y="43.0" width="1.0" height="1.0" fill="#8890d8"/><rect x="213.0" y="43.0" width="1.0" height="1.0" fill="#3040c0"/><rect x="214.0" y="43.0" width="1.0" height="1.0" fill="#6870d0"/><rect x="215.0" y="43.0" width="1.0" height="1.0" fill="#3040c0"/><rect x="216.0" y="43.0" width="1.0" height="1.0" fill="#7080d0"/><rect x="217.0" y="43.0" width="1.0" height="1.0" fill="#8088d8"/><rect x="219.0" y="43.0" width="1.0" height="1.0" fill="#6068d0"/><rect x="220.0" y="43.0" width="1.0" height="1.0" fill="#7078d0"/><rect x="224.0" y="43.0" width="1.0" height="1.0" fill="#5058c8"/><rect x="243.0" y="43.0" width="2.0" height="1.0" fill="#3040c0"/><rect x="245.0" y="43.0" width="1.0" height="1.0" fill="#3048c8"/><rect x="246.0" y="43.0" width="2.0" height="1.0" fill="#3040c0"/><rect x="248.0" y="43.0" width="1.0" height="1.0" fill="#5860d0"/><rect x="250.0" y="43.0" width="1.0" height="1.0" fill="#4048c0"/><rect x="254.0" y="43.0" width="1.0" height="1.0" fill="#5868d0"/><rect x="209.0" y="44.0" width="1.0" height="1.0" fill="#8090d8"/><rect x="210.0" y="44.0" width="1.0" height="1.0" fill="#3040c0"/><rect x="211.0" y="44.0" width="1.0" height="1.0" fill="#3048c8"/><rect x="212.0" y="44.0" width="1.0" height="1.0" fill="#3050c8"/><rect x="213.0" y="44.0" width="1.0" height="1.0" fill="#3050d0"/><rect x="214.0" y="44.0" width="3.0" height="1.0" fill="#3058d0"/><rect x="217.0" y="44.0" width="1.0" height="1.0" fill="#3050d0"/><rect x="218.0" y="44.0" width="1.0" height="1.0" fill="#3050c8"/><rect x="219.0" y="44.0" width="1.0" height="1.0" fill="#3048c8"/><rect x="220.0" y="44.0" width="2.0" height="1.0" fill="#3040c0"/><rect x="222.0" y="44.0" width="1.0" height="1.0" fill="#6878d0"/><rect x="224.0" y="44.0" width="1.0" height="1.0" fill="#3040c0"/><rect x="226.0" y="44.0" width="1.0" height="1.0" fill="#5860c8"/><rect x="231.0" y="44.0" width="1.0" height="1.0" fill="#7880d8"/><rect x="236.0" y="44.0" width="1.0" height="1.0" fill="#5868d0"/><rect x="239.0" y="44.0" width="1.0" height="1.0" fill="#5060c8"/><rect x="240.0" y="44.0" width="1.0" height="1.0" fill="#3040c0"/><rect x="241.0" y="44.0" width="1.0" height="1.0" fill="#3050c8"/><rect x="242.0" y="44.0" width="1.0" height="1.0" fill="#3058d0"/><rect x="243.0" y="44.0" width="1.0" height="1.0" fill="#3868d8"/><rect x="244.0" y="44.0" width="1.0" height="1.0" fill="#3870d8"/><rect x="245.0" y="44.0" width="1.0" height="1.0" fill="#3868d8"/><rect x="246.0" y="44.0" width="1.0" height="1.0" fill="#3858d0"/><rect x="247.0" y="44.0" width="1.0" height="1.0" fill="#3050c8"/><rect x="248.0" y="44.0" width="1.0" height="1.0" fill="#3048c8"/><rect x="249.0" y="44.0" width="1.0" height="1.0" fill="#6878d0"/><rect x="250.0" y="44.0" width="1.0" height="1.0" fill="#4050c0"/><rect x="251.0" y="44.0" width="1.0" height="1.0" fill="#6870d0"/><rect x="254.0" y="44.0" width="1.0" height="1.0" fill="#7880d8"/><rect x="207.0" y="45.0" width="1.0" height="1.0" fill="#5860d0"/><rect x="208.0" y="45.0" width="1.0" height="1.0" fill="#3040c0"/><rect x="209.0" y="45.0" width="1.0" height="1.0" fill="#3048c8"/><rect x="210.0" y="45.0" width="1.0" height="1.0" fill="#3858d0"/><rect x="211.0" y="45.0" width="1.0" height="1.0" fill="#4078d8"/><rect x="212.0" y="45.0" width="1.0" height="1.0" fill="#4088e0"/><rect x="213.0" y="45.0" width="1.0" height="1.0" fill="#4898e0"/><rect x="214.0" y="45.0" width="3.0" height="1.0" fill="#48a0d0"/><rect x="217.0" y="45.0" width="1.0" height="1.0" fill="#4898e0"/><rect x="218.0" y="45.0" width="1.0" height="1.0" fill="#4088e0"/><rect x="219.0" y="45.0" width="1.0" height="1.0" fill="#4078d8"/><rect x="220.0" y="45.0" width="1.0" height="1.0" fill="#3858d0"/><rect x="221.0" y="45.0" width="1.0" height="1.0" fill="#3048c8"/><rect x="222.0" y="45.0" width="1.0" height="1.0" fill="#3040c0"/><rect x="223.0" y="45.0" width="1.0" height="1.0" fill="#5860c8"/><rect x="224.0" y="45.0" width="1.0" height="1.0" fill="#3040c0"/><rect x="225.0" y="45.0" width="1.0" height="1.0" fill="#7880d8"/><rect x="226.0" y="45.0" width="1.0" height="1.0" fill="#3840c0"/><rect x="229.0" y="45.0" width="1.0" height="1.0" fill="#5868d0"/><rect x="230.0" y="45.0" width="1.0" height="1.0" fill="#6070d0"/><rect x="235.0" y="45.0" width="1.0" height="1.0" fill="#7880d8"/><rect x="238.0" y="45.0" width="1.0" height="1.0" fill="#3048c8"/><rect x="239.0" y="45.0" width="1.0" height="1.0" fill="#3050d0"/><rect x="240.0" y="45.0" width="1.0" height="1.0" fill="#4078e0"/><rect x="241.0" y="45.0" width="1.0" height="1.0" fill="#4898e0"/><rect x="242.0" y="45.0" width="1.0" height="1.0" fill="#48a8c8"/><rect x="243.0" y="45.0" width="1.0" height="1.0" fill="#48b0c0"/><rect x="244.0" y="45.0" width="1.0" height="1.0" fill="#48a8c0"/><rect x="245.0" y="45.0" width="1.0" height="1.0" fill="#48a0d8"/><rect x="246.0" y="45.0" width="1.0" height="1.0" fill="#4080e0"/><rect x="247.0" y="45.0" width="1.0" height="1.0" fill="#3860d0"/><rect x="248.0" y="45.0" width="1.0" height="1.0" fill="#3048c8"/><rect x="249.0" y="45.0" width="1.0" height="1.0" fill="#5868d0"/><rect x="250.0" y="45.0" width="1.0" height="1.0" fill="#3040c0"/><rect x="252.0" y="45.0" width="1.0" height="1.0" fill="#4050c8"/><rect x="206.0" y="46.0" width="1.0" height="1.0" fill="#6878d0"/><rect x="207.0" y="46.0" width="1.0" height="1.0" fill="#3048c8"/><rect x="208.0" y="46.0" width="1.0" height="1.0" fill="#3050d0"/><rect x="209.0" y="46.0" width="1.0" height="1.0" fill="#4078d8"/><rect x="210.0" y="46.0" width="1.0" height="1.0" fill="#4898e0"/><rect x="211.0" y="46.0" width="1.0" height="1.0" fill="#48b0b8"/><rect x="212.0" y="46.0" width="1.0" height="1.0" fill="#48c0a0"/><rect x="213.0" y="46.0" width="1.0" height="1.0" fill="#58c888"/><rect x="214.0" y="46.0" width="1.0" height="1.0" fill="#60c878"/><rect x="215.0" y="46.0" width="1.0" height="1.0" fill="#68c870"/><rect x="216.0" y="46.0" width="1.0" height="1.0" fill="#60c878"/><rect x="217.0" y="46.0" width="1.0" height="1.0" fill="#58c888"/><rect x="218.0" y="46.0" width="1.0" height="1.0" fill="#48c0a0"/><rect x="219.0" y="46.0" width="1.0" height="1.0" fill="#48b0b8"/><rect x="220.0" y="46.0" width="1.0" height="1.0" fill="#4898e0"/><rect x="221.0" y="46.0" width="1.0" height="1.0" fill="#4078d8"/><rect x="222.0" y="46.0" width="1.0" height="1.0" fill="#3050d0"/><rect x="223.0" y="46.0" width="1.0" height="1.0" fill="#3048c8"/><rect x="224.0" y="46.0" width="2.0" height="1.0" fill="#3040c0"/><rect x="233.0" y="46.0" width="1.0" height="1.0" fill="#7888d8"/><rect x="236.0" y="46.0" width="1.0" height="1.0" fill="#3040c0"/><rect x="237.0" y="46.0" width="1.0" height="1.0" fill="#3050c8"/><rect x="238.0" y="46.0" width="1.0" height="1.0" fill="#4078d8"/><rect x="239.0" y="46.0" width="1.0" height="1.0" fill="#48a0d0"/><rect x="240.0" y="46.0" width="1.0" height="1.0" fill="#48b8a8"/><rect x="241.0" y="46.0" width="1.0" height="1.0" fill="#50c888"/><rect x="242.0" y="46.0" width="1.0" height="1.0" fill="#60c880"/><rect x="243.0" y="46.0" width="1.0" height="1.0" fill="#58c880"/><rect x="244.0" y="46.0" width="1.0" height="1.0" fill="#48c098"/><rect x="245.0" y="46.0" width="1.0" height="1.0" fill="#48a8c0"/><rect x="246.0" y="46.0" width="1.0" height="1.0" fill="#4088e0"/><rect x="247.0" y="46.0" width="1.0" height="1.0" fill="#3058d0"/><rect x="248.0" y="46.0" width="1.0" height="1.0" fill="#3048c8"/><rect x="249.0" y="46.0" width="2.0" height="1.0" fill="#3040c0"/><rect x="252.0" y="46.0" width="1.0" height="1.0" fill="#5860c8"/><rect x="253.0" y="46.0" width="1.0" height="1.0" fill="#5868d0"/><rect x="205.0" y="47.0" width="1.0" height="1.0" fill="#3040c0"/><rect x="206.0" y="47.0" width="1.0" height="1.0" fill="#3048c8"/><rect x="207.0" y="47.0" width="1.0" height="1.0" fill="#3858d0"/><rect x="208.0" y="47.0" width="1.0" height="1.0" fill="#4088e0"/><rect x="209.0" y="47.0" width="1.0" height="1.0" fill="#48a8c8"/><rect x="210.0" y="47.0" width="1.0" height="1.0" fill="#48c098"/><rect x="211.0" y="47.0" width="1.0" height="1.0" fill="#70d070"/><rect x="212.0" y="47.0" width="1.0" height="1.0" fill="#90d848"/><rect x="213.0" y="47.0" width="1.0" height="1.0" fill="#b8e040"/><rect x="214.0" y="47.0" width="1.0" height="1.0" fill="#d0e038"/><rect x="215.0" y="47.0" width="1.0" height="1.0" fill="#d8e038"/><rect x="216.0" y="47.0" width="1.0" height="1.0" fill="#d0e038"/><rect x="217.0" y="47.0" width="1.0" height="1.0" fill="#b8e040"/><rect x="218.0" y="47.0" width="1.0" height="1.0" fill="#90d848"/><rect x="219.0" y="47.0" width="1.0" height="1.0" fill="#70d070"/><rect x="220.0" y="47.0" width="1.0" height="1.0" fill="#48c098"/><rect x="221.0" y="47.0" width="1.0" height="1.0" fill="#48a8c8"/><rect x="222.0" y="47.0" width="1.0" height="1.0" fill="#4088e0"/><rect x="223.0" y="47.0" width="1.0" height="1.0" fill="#3858d0"/><rect x="224.0" y="47.0" width="1.0" height="1.0" fill="#3048c8"/><rect x="225.0" y="47.0" width="1.0" height="1.0" fill="#7080d0"/><rect x="226.0" y="47.0" width="1.0" height="1.0" fill="#8090d8"/><rect x="227.0" y="47.0" width="1.0" height="1.0" fill="#3040c0"/><rect x="233.0" y="47.0" width="1.0" height="1.0" fill="#8090d8"/><rect x="234.0" y="47.0" width="1.0" height="1.0" fill="#8088d8"/><rect x="235.0" y="47.0" width="1.0" height="1.0" fill="#3040c0"/><rect x="236.0" y="47.0" width="1.0" height="1.0" fill="#3050d0"/><rect x="237.0" y="47.0" width="1.0" height="1.0" fill="#4088e0"/><rect x="238.0" y="47.0" width="1.0" height="1.0" fill="#48b0c0"/><rect x="239.0" y="47.0" width="1.0" height="1.0" fill="#50c090"/><rect x="240.0" y="47.0" width="1.0" height="1.0" fill="#70d068"/><rect x="241.0" y="47.0" width="1.0" height="1.0" fill="#80d058"/><rect x="242.0" y="47.0" width="1.0" height="1.0" fill="#80d060"/><rect x="243.0" y="47.0" width="1.0" height="1.0" fill="#60c878"/><rect x="244.0" y="47.0" width="1.0" height="1.0" fill="#48c0a0"/><rect x="245.0" y="47.0" width="1.0" height="1.0" fill="#48a0d8"/><rect x="246.0" y="47.0" width="1.0" height="1.0" fill="#3870d8"/><rect x="247.0" y="47.0" width="1.0" height="1.0" fill="#3048c8"/><rect x="248.0" y="47.0" width="2.0" height="1.0" fill="#3040c0"/><rect x="250.0" y="47.0" width="1.0" height="1.0" fill="#8088d8"/><rect x="251.0" y="47.0" width="1.0" height="1.0" fill="#7880d8"/><rect x="253.0" y="47.0" width="1.0" height="1.0" fill="#4858c8"/><rect x="205.0" y="48.0" width="1.0" height="1.0" fill="#3040c0"/><rect x="206.0" y="48.0" width="1.0" height="1.0" fill="#3050d0"/><rect x="207.0" y="48.0" width="1.0" height="1.0" fill="#4080e0"/><rect x="208.0" y="48.0" width="1.0" height="1.0" fill="#48a8c8"/><rect x="209.0" y="48.0" width="1.0" height="1.0" fill="#48c090"/><rect x="210.0" y="48.0" width="1.0" height="1.0" fill="#80d058"/><rect x="211.0" y="48.0" width="1.0" height="1.0" fill="#b8e040"/><rect x="212.0" y="48.0" width="1.0" height="1.0" fill="#e8e030"/><rect x="213.0" y="48.0" width="1.0" height="1.0" fill="#f0b828"/><rect x="214.0" y="48.0" width="1.0" height="1.0" fill="#f0a820"/><rect x="215.0" y="48.0" width="1.0" height="1.0" fill="#f0a020"/><rect x="216.0" y="48.0" width="1.0" height="1.0" fill="#f0a820"/><rect x="217.0" y="48.0" width="1.0" height="1.0" fill="#f0b828"/><rect x="218.0" y="48.0" width="1.0" height="1.0" fill="#e8e030"/><rect x="219.0" y="48.0" width="1.0" height="1.0" fill="#b8e040"/><rect x="220.0" y="48.0" width="1.0" height="1.0" fill="#80d058"/><rect x="221.0" y="48.0" width="1.0" height="1.0" fill="#48c090"/><rect x="222.0" y="48.0" width="1.0" height="1.0" fill="#48a8c8"/><rect x="223.0" y="48.0" width="1.0" height="1.0" fill="#4080e0"/><rect x="224.0" y="48.0" width="1.0" height="1.0" fill="#3050d0"/><rect x="225.0" y="48.0" width="2.0" height="1.0" fill="#3040c0"/><rect x="227.0" y="48.0" width="1.0" height="1.0" fill="#7880d8"/><rect x="229.0" y="48.0" width="1.0" height="1.0" fill="#8088d8"/><rect x="231.0" y="48.0" width="1.0" height="1.0" fill="#6070d0"/><rect x="233.0" y="48.0" width="1.0" height="1.0" fill="#3848c0"/><rect x="234.0" y="48.0" width="1.0" height="1.0" fill="#3040c0"/><rect x="235.0" y="48.0" width="1.0" height="1.0" fill="#3050d0"/><rect x="236.0" y="48.0" width="1.0" height="1.0" fill="#4080e0"/><rect x="237.0" y="48.0" width="1.0" height="1.0" fill="#48a8c8"/><rect x="238.0" y="48.0" width="1.0" height="1.0" fill="#48c098"/><rect x="239.0" y="48.0" width="1.0" height="1.0" fill="#68c878"/><rect x="240.0" y="48.0" width="1.0" height="1.0" fill="#78d060"/><rect x="241.0" y="48.0" width="1.0" height="1.0" fill="#70d068"/><rect x="242.0" y="48.0" width="1.0" height="1.0" fill="#60c880"/><rect x="243.0" y="48.0" width="1.0" height="1.0" fill="#48b8a8"/><rect x="244.0" y="48.0" width="1.0" height="1.0" fill="#48a0d8"/><rect x="245.0" y="48.0" width="1.0" height="1.0" fill="#3870d8"/><rect x="246.0" y="48.0" width="2.0" height="1.0" fill="#3048c8"/><rect x="248.0" y="48.0" width="2.0" height="1.0" fill="#3040c0"/><rect x="250.0" y="48.0" width="1.0" height="1.0" fill="#3848c0"/><rect x="251.0" y="48.0" width="1.0" height="1.0" fill="#3040c0"/><rect x="205.0" y="49.0" width="1.0" height="1.0" fill="#3048c8"/><rect x="206.0" y="49.0" width="1.0" height="1.0" fill="#3860d0"/><rect x="207.0" y="49.0" width="1.0" height="1.0" fill="#4898e0"/><rect x="208.0" y="49.0" width="1.0" height="1.0" fill="#48b8a8"/><rect x="209.0" y="49.0" width="1.0" height="1.0" fill="#70d068"/><rect x="210.0" y="49.0" width="1.0" height="1.0" fill="#b0e040"/><rect x="211.0" y="49.0" width="1.0" height="1.0" fill="#f0d830"/><rect x="212.0" y="49.0" width="1.0" height="1.0" fill="#f0a820"/><rect x="213.0" y="49.0" width="1.0" height="1.0" fill="#f07818"/><rect x="214.0" y="49.0" width="1.0" height="1.0" fill="#e05818"/><rect x="215.0" y="49.0" width="1.0" height="1.0" fill="#e04818"/><rect x="216.0" y="49.0" width="1.0" height="1.0" fill="#e05818"/><rect x="217.0" y="49.0" width="1.0" height="1.0" fill="#f07818"/><rect x="218.0" y="49.0" width="1.0" height="1.0" fill="#f0a820"/><rect x="219.0" y="49.0" width="1.0" height="1.0" fill="#f0d830"/><rect x="220.0" y="49.0" width="1.0" height="1.0" fill="#b0e040"/><rect x="221.0" y="49.0" width="1.0" height="1.0" fill="#70d068"/><rect x="222.0" y="49.0" width="1.0" height="1.0" fill="#48b8a8"/><rect x="223.0" y="49.0" width="1.0" height="1.0" fill="#4898e0"/><rect x="224.0" y="49.0" width="1.0" height="1.0" fill="#3860d0"/><rect x="225.0" y="49.0" width="1.0" height="1.0" fill="#3048c8"/><rect x="226.0" y="49.0" width="2.0" height="1.0" fill="#3040c0"/><rect x="228.0" y="49.0" width="1.0" height="1.0" fill="#5860c8"/><rect x="229.0" y="49.0" width="1.0" height="1.0" fill="#8088d8"/><rect x="232.0" y="49.0" width="1.0" height="1.0" fill="#4850c8"/><rect x="233.0" y="49.0" width="1.0" height="1.0" fill="#3040c0"/><rect x="234.0" y="49.0" width="1.0" height="1.0" fill="#3048c8"/><rect x="235.0" y="49.0" width="1.0" height="1.0" fill="#3860d0"/><rect x="236.0" y="49.0" width="1.0" height="1.0" fill="#4090e0"/><rect x="237.0" y="49.0" width="1.0" height="1.0" fill="#48a8c8"/><rect x="238.0" y="49.0" width="1.0" height="1.0" fill="#48b8a8"/><rect x="239.0" y="49.0" width="2.0" height="1.0" fill="#48c098"/><rect x="241.0" y="49.0" width="1.0" height="1.0" fill="#48b8a8"/><rect x="242.0" y="49.0" width="1.0" height="1.0" fill="#48a8c8"/><rect x="243.0" y="49.0" width="1.0" height="1.0" fill="#4088e0"/><rect x="244.0" y="49.0" width="1.0" height="1.0" fill="#3058d0"/><rect x="245.0" y="49.0" width="2.0" height="1.0" fill="#3048c8"/><rect x="247.0" y="49.0" width="1.0" height="1.0" fill="#3048c0"/><rect x="248.0" y="49.0" width="3.0" height="1.0" fill="#3040c0"/><rect x="204.0" y="50.0" width="1.0" height="1.0" fill="#4048c0"/><rect x="205.0" y="50.0" width="1.0" height="1.0" fill="#3048c8"/><rect x="206.0" y="50.0" width="1.0" height="1.0" fill="#3870d8"/><rect x="207.0" y="50.0" width="1.0" height="1.0" fill="#48a0d0"/><rect x="208.0" y="50.0" width="1.0" height="1.0" fill="#48c098"/><rect x="209.0" y="50.0" width="1.0" height="1.0" fill="#80d058"/><rect x="210.0" y="50.0" width="1.0" height="1.0" fill="#d0e038"/><rect x="211.0" y="50.0" width="1.0" height="1.0" fill="#f0c028"/><rect x="212.0" y="50.0" width="1.0" height="1.0" fill="#f08820"/><rect x="213.0" y="50.0" width="1.0" height="1.0" fill="#e05018"/><rect x="214.0" y="50.0" width="1.0" height="1.0" fill="#d83010"/><rect x="215.0" y="50.0" width="1.0" height="1.0" fill="#d82810"/><rect x="216.0" y="50.0" width="1.0" height="1.0" fill="#d83010"/><rect x="217.0" y="50.0" width="1.0" height="1.0" fill="#e05018"/><rect x="218.0" y="50.0" width="1.0" height="1.0" fill="#f08820"/><rect x="219.0" y="50.0" width="1.0" height="1.0" fill="#f0c028"/><rect x="220.0" y="50.0" width="1.0" height="1.0" fill="#d0e038"/><rect x="221.0" y="50.0" width="1.0" height="1.0" fill="#80d058"/><rect x="222.0" y="50.0" width="1.0" height="1.0" fill="#48c098"/><rect x="223.0" y="50.0" width="1.0" height="1.0" fill="#48a0d0"/><rect x="224.0" y="50.0" width="1.0" height="1.0" fill="#3870d8"/><rect x="225.0" y="50.0" width="1.0" height="1.0" fill="#3048c8"/><rect x="226.0" y="50.0" width="1.0" height="1.0" fill="#8090d8"/><rect x="229.0" y="50.0" width="1.0" height="1.0" fill="#4858c8"/><rect x="230.0" y="50.0" width="3.0" height="1.0" fill="#3040c0"/><rect x="233.0" y="50.0" width="1.0" height="1.0" fill="#3048c0"/><rect x="234.0" y="50.0" width="1.0" height="1.0" fill="#3048c8"/><rect x="235.0" y="50.0" width="1.0" height="1.0" fill="#3058d0"/><rect x="236.0" y="50.0" width="1.0" height="1.0" fill="#4078d8"/><rect x="237.0" y="50.0" width="1.0" height="1.0" fill="#4090e0"/><rect x="238.0" y="50.0" width="2.0" height="1.0" fill="#4898e0"/><rect x="240.0" y="50.0" width="1.0" height="1.0" fill="#4090e0"/><rect x="241.0" y="50.0" width="1.0" height="1.0" fill="#4078d8"/><rect x="242.0" y="50.0" width="1.0" height="1.0" fill="#3058d0"/><rect x="243.0" y="50.0" width="4.0" height="1.0" fill="#3048c8"/><rect x="247.0" y="50.0" width="2.0" height="1.0" fill="#3040c0"/><rect x="249.0" y="50.0" width="1.0" height="1.0" fill="#8088d8"/><rect x="204.0" y="51.0" width="1.0" height="1.0" fill="#3040c0"/><rect x="205.0" y="51.0" width="1.0" height="1.0" fill="#3048c8"/><rect x="206.0" y="51.0" width="1.0" height="1.0" fill="#3870d8"/><rect x="207.0" y="51.0" width="1.0" height="1.0" fill="#48a0d8"/><rect x="208.0" y="51.0" width="1.0" height="1.0" fill="#48c098"/><rect x="209.0" y="51.0" width="1.0" height="1.0" fill="#80d060"/><rect x="210.0" y="51.0" width="1.0" height="1.0" fill="#c8e038"/><rect x="211.0" y="51.0" width="1.0" height="1.0" fill="#f0c028"/><rect x="212.0" y="51.0" width="1.0" height="1.0" fill="#f09020"/><rect x="213.0" y="51.0" width="1.0" height="1.0" fill="#e05818"/><rect x="214.0" y="51.0" width="1.0" height="1.0" fill="#d83818"/><rect x="215.0" y="51.0" width="1.0" height="1.0" fill="#d82810"/><rect x="216.0" y="51.0" width="1.0" height="1.0" fill="#d83818"/><rect x="217.0" y="51.0" width="1.0" height="1.0" fill="#e05818"/><rect x="218.0" y="51.0" width="1.0" height="1.0" fill="#f09020"/><rect x="219.0" y="51.0" width="1.0" height="1.0" fill="#f0c028"/><rect x="220.0" y="51.0" width="1.0" height="1.0" fill="#c8e038"/><rect x="221.0" y="51.0" width="1.0" height="1.0" fill="#80d060"/><rect x="222.0" y="51.0" width="1.0" height="1.0" fill="#48c098"/><rect x="223.0" y="51.0" width="1.0" height="1.0" fill="#48a0d8"/><rect x="224.0" y="51.0" width="1.0" height="1.0" fill="#3870d8"/><rect x="225.0" y="51.0" width="1.0" height="1.0" fill="#3048c8"/><rect x="226.0" y="51.0" width="1.0" height="1.0" fill="#3040c0"/><rect x="229.0" y="51.0" width="3.0" height="1.0" fill="#3040c0"/><rect x="232.0" y="51.0" width="1.0" height="1.0" fill="#3048c0"/><rect x="233.0" y="51.0" width="3.0" height="1.0" fill="#3048c8"/><rect x="236.0" y="51.0" width="1.0" height="1.0" fill="#3050c8"/><rect x="237.0" y="51.0" width="2.0" height="1.0" fill="#3050d0"/><rect x="239.0" y="51.0" width="1.0" height="1.0" fill="#3050c8"/><rect x="240.0" y="51.0" width="5.0" height="1.0" fill="#3048c8"/><rect x="245.0" y="51.0" width="2.0" height="1.0" fill="#3040c0"/><rect x="247.0" y="51.0" width="1.0" height="1.0" fill="#7080d0"/><rect x="248.0" y="51.0" width="1.0" height="1.0" fill="#8088d8"/><rect x="250.0" y="51.0" width="1.0" height="1.0" fill="#6878d0"/><rect x="252.0" y="51.0" width="1.0" height="1.0" fill="#7080d8"/><rect x="253.0" y="51.0" width="1.0" height="1.0" fill="#7880d8"/><rect x="205.0" y="52.0" width="1.0" height="1.0" fill="#3048c8"/><rect x="206.0" y="52.0" width="1.0" height="1.0" fill="#3860d0"/><rect x="207.0" y="52.0" width="1.0" height="1.0" fill="#4090e0"/><rect x="208.0" y="52.0" width="1.0" height="1.0" fill="#48b0b0"/><rect x="209.0" y="52.0" width="1.0" height="1.0" fill="#60c878"/><rect x="210.0" y="52.0" width="1.0" height="1.0" fill="#a0d840"/><rect x="211.0" y="52.0" width="1.0" height="1.0" fill="#e8e830"/><rect x="212.0" y="52.0" width="1.0" height="1.0" fill="#f0b828"/><rect x="213.0" y="52.0" width="1.0" height="1.0" fill="#f09020"/><rect x="214.0" y="52.0" width="1.0" height="1.0" fill="#e87018"/><rect x="215.0" y="52.0" width="1.0" height="1.0" fill="#e86818"/><rect x="216.0" y="52.0" width="1.0" height="1.0" fill="#e87018"/><rect x="217.0" y="52.0" width="1.0" height="1.0" fill="#f09020"/><rect x="218.0" y="52.0" width="1.0" height="1.0" fill="#f0b828"/><rect x="219.0" y="52.0" width="1.0" height="1.0" fill="#e8e830"/><rect x="220.0" y="52.0" width="1.0" height="1.0" fill="#a0d840"/><rect x="221.0" y="52.0" width="1.0" height="1.0" fill="#60c878"/><rect x="222.0" y="52.0" width="1.0" height="1.0" fill="#48b0b0"/><rect x="223.0" y="52.0" width="1.0" height="1.0" fill="#4090e0"/><rect x="224.0" y="52.0" width="1.0" height="1.0" fill="#3860d0"/><rect x="225.0" y="52.0" width="1.0" height="1.0" fill="#3048c8"/><rect x="226.0" y="52.0" width="1.0" height="1.0" fill="#3040c0"/><rect x="227.0" y="52.0" width="1.0" height="1.0" fill="#8090d8"/><rect x="228.0" y="52.0" width="4.0" height="1.0" fill="#3040c0"/><rect x="232.0" y="52.0" width="11.0" height="1.0" fill="#3048c8"/><rect x="243.0" y="52.0" width="1.0" height="1.0" fill="#3048c0"/><rect x="244.0" y="52.0" width="3.0" height="1.0" fill="#3040c0"/><rect x="249.0" y="52.0" width="1.0" height="1.0" fill="#7080d8"/><rect x="252.0" y="52.0" width="1.0" height="1.0" fill="#6070d0"/><rect x="253.0" y="52.0" width="1.0" height="1.0" fill="#7880d8"/><rect x="204.0" y="53.0" width="1.0" height="1.0" fill="#6870d0"/><rect x="205.0" y="53.0" width="1.0" height="1.0" fill="#3040c0"/><rect x="206.0" y="53.0" width="1.0" height="1.0" fill="#3050c8"/><rect x="207.0" y="53.0" width="1.0" height="1.0" fill="#3870d8"/><rect x="208.0" y="53.0" width="1.0" height="1.0" fill="#48a0d8"/><rect x="209.0" y="53.0" width="1.0" height="1.0" fill="#48b8a8"/><rect x="210.0" y="53.0" width="1.0" height="1.0" fill="#68c870"/><rect x="211.0" y="53.0" width="1.0" height="1.0" fill="#98d848"/><rect x="212.0" y="53.0" width="1.0" height="1.0" fill="#d0e038"/><rect x="213.0" y="53.0" width="1.0" height="1.0" fill="#f0d830"/><rect x="214.0" y="53.0" width="1.0" height="1.0" fill="#f0c828"/><rect x="215.0" y="53.0" width="1.0" height="1.0" fill="#f0c028"/><rect x="216.0" y="53.0" width="1.0" height="1.0" fill="#f0c828"/><rect x="217.0" y="53.0" width="1.0" height="1.0" fill="#f0d830"/><rect x="218.0" y="53.0" width="1.0" height="1.0" fill="#d0e038"/><rect x="219.0" y="53.0" width="1.0" height="1.0" fill="#98d848"/><rect x="220.0" y="53.0" width="1.0" height="1.0" fill="#68c870"/><rect x="221.0" y="53.0" width="1.0" height="1.0" fill="#48b8a8"/><rect x="222.0" y="53.0" width="1.0" height="1.0" fill="#48a0d8"/><rect x="223.0" y="53.0" width="1.0" height="1.0" fill="#3870d8"/><rect x="224.0" y="53.0" width="1.0" height="1.0" fill="#3050c8"/><rect x="225.0" y="53.0" width="1.0" height="1.0" fill="#3040c0"/><rect x="226.0" y="53.0" width="1.0" height="1.0" fill="#5060c8"/><rect x="227.0" y="53.0" width="1.0" height="1.0" fill="#4050c8"/><rect x="228.0" y="53.0" width="1.0" height="1.0" fill="#5860c8"/><rect x="229.0" y="53.0" width="3.0" height="1.0" fill="#3040c0"/><rect x="232.0" y="53.0" width="1.0" height="1.0" fill="#3048c0"/><rect x="233.0" y="53.0" width="8.0" height="1.0" fill="#3048c8"/><rect x="241.0" y="53.0" width="1.0" height="1.0" fill="#3048c0"/><rect x="242.0" y="53.0" width="2.0" height="1.0" fill="#3040c0"/><rect x="244.0" y="53.0" width="1.0" height="1.0" fill="#4850c8"/><rect x="245.0" y="53.0" width="1.0" height="1.0" fill="#7080d8"/><rect x="246.0" y="53.0" width="1.0" height="1.0" fill="#5868d0"/><rect x="205.0" y="54.0" width="1.0" height="1.0" fill="#5058c8"/><rect x="206.0" y="54.0" width="1.0" height="1.0" fill="#3040c0"/><rect x="207.0" y="54.0" width="1.0" height="1.0" fill="#3050c8"/><rect x="208.0" y="54.0" width="1.0" height="1.0" fill="#4070d8"/><rect x="209.0" y="54.0" width="1.0" height="1.0" fill="#4898e0"/><rect x="210.0" y="54.0" width="1.0" height="1.0" fill="#48b0b0"/><rect x="211.0" y="54.0" width="1.0" height="1.0" fill="#50c890"/><rect x="212.0" y="54.0" width="1.0" height="1.0" fill="#70d068"/><rect x="213.0" y="54.0" width="1.0" height="1.0" fill="#88d050"/><rect x="214.0" y="54.0" width="3.0" height="1.0" fill="#a0d840"/><rect x="217.0" y="54.0" width="1.0" height="1.0" fill="#88d050"/><rect x="218.0" y="54.0" width="1.0" height="1.0" fill="#70d068"/><rect x="219.0" y="54.0" width="1.0" height="1.0" fill="#50c890"/><rect x="220.0" y="54.0" width="1.0" height="1.0" fill="#48b0b0"/><rect x="221.0" y="54.0" width="1.0" height="1.0" fill="#4898e0"/><rect x="222.0" y="54.0" width="1.0" height="1.0" fill="#4070d8"/><rect x="223.0" y="54.0" width="1.0" height="1.0" fill="#3050c8"/><rect x="224.0" y="54.0" width="1.0" height="1.0" fill="#3048c8"/><rect x="225.0" y="54.0" width="2.0" height="1.0" fill="#3040c0"/><rect x="227.0" y="54.0" width="1.0" height="1.0" fill="#5060c8"/><rect x="229.0" y="54.0" width="4.0" height="1.0" fill="#3040c0"/><rect x="233.0" y="54.0" width="6.0" height="1.0" fill="#3048c8"/><rect x="239.0" y="54.0" width="3.0" height="1.0" fill="#3040c0"/><rect x="242.0" y="54.0" width="1.0" height="1.0" fill="#5060c8"/><rect x="243.0" y="54.0" width="1.0" height="1.0" fill="#8088d8"/><rect x="244.0" y="54.0" width="1.0" height="1.0" fill="#4050c0"/><rect x="245.0" y="54.0" width="1.0" height="1.0" fill="#5860c8"/><rect x="206.0" y="55.0" width="1.0" height="1.0" fill="#7888d8"/><rect x="207.0" y="55.0" width="1.0" height="1.0" fill="#3040c0"/><rect x="208.0" y="55.0" width="1.0" height="1.0" fill="#3048c8"/><rect x="209.0" y="55.0" width="1.0" height="1.0" fill="#3860d0"/><rect x="210.0" y="55.0" width="1.0" height="1.0" fill="#4080e0"/><rect x="211.0" y="55.0" width="1.0" height="1.0" fill="#48a0d8"/><rect x="212.0" y="55.0" width="1.0" height="1.0" fill="#48a8c0"/><rect x="213.0" y="55.0" width="1.0" height="1.0" fill="#48b8a8"/><rect x="214.0" y="55.0" width="1.0" height="1.0" fill="#48c0a0"/><rect x="215.0" y="55.0" width="1.0" height="1.0" fill="#48c098"/><rect x="216.0" y="55.0" width="1.0" height="1.0" fill="#48c0a0"/><rect x="217.0" y="55.0" width="1.0" height="1.0" fill="#48b8a8"/><rect x="218.0" y="55.0" width="1.0" height="1.0" fill="#48a8c0"/><rect x="219.0" y="55.0" width="1.0" height="1.0" fill="#48a0d8"/><rect x="220.0" y="55.0" width="1.0" height="1.0" fill="#4080e0"/><rect x="221.0" y="55.0" width="1.0" height="1.0" fill="#3860d0"/><rect x="222.0" y="55.0" width="2.0" height="1.0" fill="#3048c8"/><rect x="224.0" y="55.0" width="2.0" height="1.0" fill="#3040c0"/><rect x="226.0" y="55.0" width="1.0" height="1.0" fill="#8090d8"/><rect x="229.0" y="55.0" width="5.0" height="1.0" fill="#3040c0"/><rect x="234.0" y="55.0" width="2.0" height="1.0" fill="#3048c0"/><rect x="236.0" y="55.0" width="5.0" height="1.0" fill="#3040c0"/><rect x="241.0" y="55.0" width="1.0" height="1.0" fill="#7078d0"/><rect x="243.0" y="55.0" width="1.0" height="1.0" fill="#5868d0"/><rect x="248.0" y="55.0" width="1.0" height="1.0" fill="#5860c8"/><rect x="209.0" y="56.0" width="1.0" height="1.0" fill="#3048c8"/><rect x="210.0" y="56.0" width="1.0" height="1.0" fill="#3050c8"/><rect x="211.0" y="56.0" width="1.0" height="1.0" fill="#3058d0"/><rect x="212.0" y="56.0" width="1.0" height="1.0" fill="#3870d8"/><rect x="213.0" y="56.0" width="1.0" height="1.0" fill="#4078e0"/><rect x="214.0" y="56.0" width="1.0" height="1.0" fill="#4080e0"/><rect x="215.0" y="56.0" width="1.0" height="1.0" fill="#4088e0"/><rect x="216.0" y="56.0" width="1.0" height="1.0" fill="#4080e0"/><rect x="217.0" y="56.0" width="1.0" height="1.0" fill="#4078e0"/><rect x="218.0" y="56.0" width="1.0" height="1.0" fill="#3870d8"/><rect x="219.0" y="56.0" width="1.0" height="1.0" fill="#3058d0"/><rect x="220.0" y="56.0" width="1.0" height="1.0" fill="#3050c8"/><rect x="221.0" y="56.0" width="3.0" height="1.0" fill="#3048c8"/><rect x="224.0" y="56.0" width="2.0" height="1.0" fill="#3040c0"/><rect x="226.0" y="56.0" width="1.0" height="1.0" fill="#4850c8"/><rect x="227.0" y="56.0" width="1.0" height="1.0" fill="#4050c0"/><rect x="229.0" y="56.0" width="1.0" height="1.0" fill="#6878d0"/><rect x="231.0" y="56.0" width="6.0" height="1.0" fill="#3040c0"/><rect x="237.0" y="56.0" width="1.0" height="1.0" fill="#7078d0"/><rect x="238.0" y="56.0" width="1.0" height="1.0" fill="#5060c8"/><rect x="243.0" y="56.0" width="1.0" height="1.0" fill="#6070d0"/><rect x="245.0" y="56.0" width="1.0" height="1.0" fill="#6878d0"/><rect x="206.0" y="57.0" width="1.0" height="1.0" fill="#6068d0"/><rect x="207.0" y="57.0" width="1.0" height="1.0" fill="#8088d8"/><rect x="209.0" y="57.0" width="1.0" height="1.0" fill="#8090d8"/><rect x="211.0" y="57.0" width="1.0" height="1.0" fill="#3040c0"/><rect x="212.0" y="57.0" width="1.0" height="1.0" fill="#3048c0"/><rect x="213.0" y="57.0" width="9.0" height="1.0" fill="#3048c8"/><rect x="222.0" y="57.0" width="3.0" height="1.0" fill="#3040c0"/><rect x="226.0" y="57.0" width="1.0" height="1.0" fill="#3040c0"/><rect x="227.0" y="57.0" width="1.0" height="1.0" fill="#8090d8"/><rect x="228.0" y="57.0" width="1.0" height="1.0" fill="#6068d0"/><rect x="230.0" y="57.0" width="1.0" height="1.0" fill="#5868d0"/><rect x="231.0" y="57.0" width="1.0" height="1.0" fill="#7078d0"/><rect x="232.0" y="57.0" width="1.0" height="1.0" fill="#6068d0"/><rect x="233.0" y="57.0" width="3.0" height="1.0" fill="#3040c0"/><rect x="236.0" y="57.0" width="1.0" height="1.0" fill="#4858c8"/><rect x="249.0" y="57.0" width="1.0" height="1.0" fill="#6070d0"/><rect x="208.0" y="58.0" width="1.0" height="1.0" fill="#5060c8"/><rect x="210.0" y="58.0" width="2.0" height="1.0" fill="#3040c0"/><rect x="213.0" y="58.0" width="11.0" height="1.0" fill="#3040c0"/><rect x="224.0" y="58.0" width="1.0" height="1.0" fill="#7080d0"/><rect x="225.0" y="58.0" width="1.0" height="1.0" fill="#8090d8"/><rect x="226.0" y="58.0" width="1.0" height="1.0" fill="#4050c0"/><rect x="227.0" y="58.0" width="1.0" height="1.0" fill="#6878d0"/><rect x="229.0" y="58.0" width="1.0" height="1.0" fill="#5860d0"/><rect x="232.0" y="58.0" width="1.0" height="1.0" fill="#4858c8"/><rect x="233.0" y="58.0" width="1.0" height="1.0" fill="#8090d8"/><rect x="237.0" y="58.0" width="1.0" height="1.0" fill="#7880d8"/><rect x="253.0" y="58.0" width="1.0" height="1.0" fill="#6068d0"/><rect x="208.0" y="59.0" width="1.0" height="1.0" fill="#6070d0"/><rect x="211.0" y="59.0" width="1.0" height="1.0" fill="#3848c0"/><rect x="213.0" y="59.0" width="2.0" height="1.0" fill="#3040c0"/><rect x="215.0" y="59.0" width="1.0" height="1.0" fill="#5860d0"/><rect x="216.0" y="59.0" width="1.0" height="1.0" fill="#3040c0"/><rect x="217.0" y="59.0" width="1.0" height="1.0" fill="#8090d8"/><rect x="218.0" y="59.0" width="1.0" height="1.0" fill="#3040c0"/><rect x="220.0" y="59.0" width="3.0" height="1.0" fill="#3040c0"/><rect x="223.0" y="59.0" width="1.0" height="1.0" fill="#5060c8"/><rect x="225.0" y="59.0" width="1.0" height="1.0" fill="#5060c8"/><rect x="226.0" y="59.0" width="1.0" height="1.0" fill="#7080d8"/><rect x="227.0" y="59.0" width="2.0" height="1.0" fill="#8090d8"/><rect x="229.0" y="59.0" width="1.0" height="1.0" fill="#8088d8"/><rect x="232.0" y="59.0" width="1.0" height="1.0" fill="#8088d8"/><rect x="236.0" y="59.0" width="1.0" height="1.0" fill="#7080d8"/><rect x="212.0" y="60.0" width="1.0" height="1.0" fill="#7080d8"/><rect x="214.0" y="60.0" width="1.0" height="1.0" fill="#6070d0"/><rect x="215.0" y="60.0" width="1.0" height="1.0" fill="#7888d8"/><rect x="216.0" y="60.0" width="1.0" height="1.0" fill="#4850c8"/><rect x="220.0" y="60.0" width="1.0" height="1.0" fill="#3040c0"/><rect x="221.0" y="60.0" width="2.0" height="1.0" fill="#6878d0"/><rect x="223.0" y="60.0" width="1.0" height="1.0" fill="#4858c8"/><rect x="224.0" y="60.0" width="1.0" height="1.0" fill="#7880d8"/><rect x="228.0" y="60.0" width="1.0" height="1.0" fill="#8090d8"/><rect x="214.0" y="61.0" width="1.0" height="1.0" fill="#8890d8"/><rect x="215.0" y="61.0" width="1.0" height="1.0" fill="#7880d8"/><rect x="219.0" y="61.0" width="1.0" height="1.0" fill="#7080d8"/><rect x="225.0" y="61.0" width="1.0" height="1.0" fill="#7078d0"/><rect x="241.0" y="61.0" width="1.0" height="1.0" fill="#8090d8"/><rect x="243.0" y="61.0" width="1.0" height="1.0" fill="#5860d0"/><rect x="212.0" y="62.0" width="1.0" height="1.0" fill="#7888d8"/><rect x="248.0" y="62.0" width="1.0" height="1.0" fill="#6068d0"/><rect x="226.0" y="63.0" width="1.0" height="1.0" fill="#6070d0"/><rect x="231.0" y="63.0" width="1.0" height="1.0" fill="#8088d8"/><rect x="241.0" y="63.0" width="1.0" height="1.0" fill="#7078d0"/></g>
<path d="M45,47 L52,42.7 L60,40 L67,47 L67,58.4 L60.7,63.4 L48.6,60.5 L45,54 Z" fill="none" stroke="#a01848" stroke-width="1.3"/>
<text x="73" y="38.5" font-size="4" text-anchor="start" fill="#999" stroke="#999" stroke-width="0.15" >10.9</text>
<line x1="67.5" y1="50.5" x2="87" y2="50.5" stroke="#b01020" stroke-width="1" stroke-dasharray="1.2,1" marker-end="url(#arrR)"/>
<text transform="translate(10.3,52.6) rotate(-90)" font-size="6.5" fill="#222" stroke="#222" stroke-width="0.15">B220 (APC)</text>
<line x1="7.9" y1="87" x2="7.9" y2="56" stroke="#000" stroke-width="1.1" marker-end="url(#arr)"/>
<text x="60.6" y="99.4" font-size="6.6" text-anchor="start" fill="#222" stroke="#222" stroke-width="0.15" >CD19 (PE)</text>
<line x1="20" y1="97.1" x2="57.7" y2="97.1" stroke="#000" stroke-width="1.1" marker-end="url(#arr)"/>
<rect x="110.3" y="19.3" width="66.7" height="66.2" fill="none" stroke="#888" stroke-width="0.8" />
<line x1="108.7" y1="33.3" x2="110.3" y2="33.3" stroke="#888" stroke-width="0.6" />
<text x="108.3" y="34.599999999999994" font-size="3.6" text-anchor="end" fill="#888" stroke="#888" stroke-width="0" >10⁵</text>
<line x1="108.7" y1="49.8" x2="110.3" y2="49.8" stroke="#888" stroke-width="0.6" />
<text x="108.3" y="51.099999999999994" font-size="3.6" text-anchor="end" fill="#888" stroke="#888" stroke-width="0" >10⁴</text>
<line x1="108.7" y1="66.3" x2="110.3" y2="66.3" stroke="#888" stroke-width="0.6" />
<text x="108.3" y="67.6" font-size="3.6" text-anchor="end" fill="#888" stroke="#888" stroke-width="0" >10³</text>
<line x1="108.7" y1="82.3" x2="110.3" y2="82.3" stroke="#888" stroke-width="0.6" />
<text x="108.3" y="83.6" font-size="3.6" text-anchor="end" fill="#888" stroke="#888" stroke-width="0" >0</text>
<line x1="118.3" y1="85.5" x2="118.3" y2="87.1" stroke="#888" stroke-width="0.6" />
<text x="118.3" y="90.5" font-size="3.6" text-anchor="middle" fill="#888" stroke="#888" stroke-width="0" >0</text>
<line x1="132.3" y1="85.5" x2="132.3" y2="87.1" stroke="#888" stroke-width="0.6" />
<text x="132.3" y="90.5" font-size="3.6" text-anchor="middle" fill="#888" stroke="#888" stroke-width="0" >10³</text>
<line x1="150.3" y1="85.5" x2="150.3" y2="87.1" stroke="#888" stroke-width="0.6" />
<text x="150.3" y="90.5" font-size="3.6" text-anchor="middle" fill="#888" stroke="#888" stroke-width="0" >10⁴</text>
<line x1="168.3" y1="85.5" x2="168.3" y2="87.1" stroke="#888" stroke-width="0.6" />
<text x="168.3" y="90.5" font-size="3.6" text-anchor="middle" fill="#888" stroke="#888" stroke-width="0" >10⁵</text>
<rect x="110.6" y="40.3" width="36.4" height="20.9" fill="none" stroke="#b01828" stroke-width="1.3" />
<text x="112.5" y="36.5" font-size="4" text-anchor="start" fill="#999" stroke="#999" stroke-width="0.15" >90.1</text>
<line x1="147.5" y1="51.5" x2="181" y2="51.5" stroke="#b01020" stroke-width="1" stroke-dasharray="1.2,1" marker-end="url(#arrR)"/>
<text transform="translate(99.8,48.6) rotate(-90)" font-size="6.5" fill="#222" stroke="#222" stroke-width="0.15">B220 (APC)</text>
<line x1="97.3" y1="84" x2="97.3" y2="52" stroke="#000" stroke-width="1.1" marker-end="url(#arr)"/>
<text x="121.2" y="99.4" font-size="6.7" text-anchor="start" fill="#222" stroke="#222" stroke-width="0.15" >c-KIT (PerCP-Cy5.5)</text>
<line x1="107" y1="97.1" x2="118.5" y2="97.1" stroke="#000" stroke-width="1.1" marker-end="url(#arr)"/>
<rect x="201.4" y="19.3" width="66.9" height="66.7" fill="none" stroke="#888" stroke-width="0.8" />
<line x1="199.8" y1="33.3" x2="201.4" y2="33.3" stroke="#888" stroke-width="0.6" />
<text x="199.4" y="34.599999999999994" font-size="3.6" text-anchor="end" fill="#888" stroke="#888" stroke-width="0" >10⁵</text>
<line x1="199.8" y1="49.8" x2="201.4" y2="49.8" stroke="#888" stroke-width="0.6" />
<text x="199.4" y="51.099999999999994" font-size="3.6" text-anchor="end" fill="#888" stroke="#888" stroke-width="0" >10⁴</text>
<line x1="199.8" y1="66.3" x2="201.4" y2="66.3" stroke="#888" stroke-width="0.6" />
<text x="199.4" y="67.6" font-size="3.6" text-anchor="end" fill="#888" stroke="#888" stroke-width="0" >10³</text>
<line x1="199.8" y1="82.3" x2="201.4" y2="82.3" stroke="#888" stroke-width="0.6" />
<text x="199.4" y="83.6" font-size="3.6" text-anchor="end" fill="#888" stroke="#888" stroke-width="0" >0</text>
<line x1="209.4" y1="86" x2="209.4" y2="87.6" stroke="#888" stroke-width="0.6" />
<text x="209.4" y="91" font-size="3.6" text-anchor="middle" fill="#888" stroke="#888" stroke-width="0" >0</text>
<line x1="223.4" y1="86" x2="223.4" y2="87.6" stroke="#888" stroke-width="0.6" />
<text x="223.4" y="91" font-size="3.6" text-anchor="middle" fill="#888" stroke="#888" stroke-width="0" >10³</text>
<line x1="241.4" y1="86" x2="241.4" y2="87.6" stroke="#888" stroke-width="0.6" />
<text x="241.4" y="91" font-size="3.6" text-anchor="middle" fill="#888" stroke="#888" stroke-width="0" >10⁴</text>
<line x1="259.4" y1="86" x2="259.4" y2="87.6" stroke="#888" stroke-width="0.6" />
<text x="259.4" y="91" font-size="3.6" text-anchor="middle" fill="#888" stroke="#888" stroke-width="0" >10⁵</text>
<rect x="202.2" y="34.7" width="26.1" height="27.7" fill="none" stroke="#b01828" stroke-width="1.3" />
<text x="204" y="30" font-size="4" text-anchor="start" fill="#999" stroke="#999" stroke-width="0.15" >70.1</text>
<line x1="229" y1="50.7" x2="276" y2="50.7" stroke="#b01020" stroke-width="1" stroke-dasharray="1.2,1" marker-end="url(#arrR)"/>
<text transform="translate(191.6,49.8) rotate(-90)" font-size="6.5" fill="#222" stroke="#222" stroke-width="0.15">B220 (APC)</text>
<line x1="189" y1="85.5" x2="189" y2="52.6" stroke="#000" stroke-width="1.1" marker-end="url(#arr)"/>
<text x="238.3" y="99.4" font-size="6.5" text-anchor="start" fill="#222" stroke="#222" stroke-width="0.15" >IgM (FITC)</text>
<line x1="199" y1="97.1" x2="233.5" y2="97.1" stroke="#000" stroke-width="1.1" marker-end="url(#arr)"/>
<rect x="277.3" y="26.5" width="82.7" height="52" fill="none" stroke="#222" stroke-width="0.9" />
<text x="281.5" y="38.8" font-size="7.0" text-anchor="start" fill="#222" stroke="#222" stroke-width="0.15" >Wild-type (n=3) and</text>
<text x="281.5" y="47.1" font-size="7.0" text-anchor="start" fill="#222" stroke="#222" stroke-width="0.15" ><tspan font-style="italic">Moz</tspan><tspan dy="-2.1" font-size="6.02" letter-spacing="0.49">+/-</tspan><tspan dy="2.1"> (n=3) pre-B cells</tspan></text>
<text x="281.5" y="55.3" font-size="7.0" text-anchor="start" fill="#222" stroke="#222" stroke-width="0.15" >1. RNA isolation</text>
<text x="281.5" y="63.8" font-size="7.0" text-anchor="start" fill="#222" stroke="#222" stroke-width="0.15" >2. Library preparation</text>
<text x="281.5" y="71.7" font-size="7.0" text-anchor="start" fill="#222" stroke="#222" stroke-width="0.15" >3. HT sequencing</text>
<text x="393.8" y="9.2" font-size="9.2" text-anchor="start" fill="#222" stroke="#222" stroke-width="0.15" ><tspan font-style="italic">Moz</tspan><tspan dy="-2.76" font-size="7.91" letter-spacing="0.64">+/-</tspan><tspan dy="2.76"> versus wild-type</tspan></text>
<text x="365.5" y="27.4" font-size="7.9" text-anchor="start" fill="#222" stroke="#222" stroke-width="0.15" >Genes</text>
<text x="365.5" y="36.6" font-size="7.9" text-anchor="start" fill="#222" stroke="#222" stroke-width="0.15" >down-regulated</text>
<text x="365.5" y="46.4" font-size="7.9" text-anchor="start" fill="#222" stroke="#222" stroke-width="0.15" >in <tspan font-style="italic">Moz</tspan><tspan dy="-2.37" font-size="6.79" letter-spacing="0.55">+/-</tspan></text>
<text x="457.8" y="28.8" font-size="7.9" text-anchor="start" fill="#222" stroke="#222" stroke-width="0.15" >Genes</text>
<text x="457.8" y="39" font-size="7.9" text-anchor="start" fill="#222" stroke="#222" stroke-width="0.15" >up-regulated</text>
<text x="457.8" y="48.3" font-size="7.9" text-anchor="start" fill="#222" stroke="#222" stroke-width="0.15" >in <tspan font-style="italic">Moz</tspan><tspan dy="-2.37" font-size="6.79" letter-spacing="0.55">+/-</tspan></text>
<text x="371.5" y="103" font-size="7.9" text-anchor="start" fill="#222" stroke="#222" stroke-width="0.15" >FDR &lt; 0.05</text>
<path d="M495.5,74.7 L495.5,81.7 A43,20.9 0 0 1 413.04,90.00 L413.04,83.00 A43,20.9 0 0 0 495.5,74.7 Z" fill="#33602c"/>
<path d="M452.5,74.7 L452.50,53.80 A43,20.9 0 1 1 413.04,83.00 Z" fill="#4a7d3b"/>
<path d="M434.6,67.4 L392.79,73.22 L392.79,81.82 L434.6,75.60000000000001 Z" fill="#6e1e22"/>
<path d="M434.6,67.4 L434.60,49.80 A44.3,17.6 0 0 0 392.79,73.22 Z" fill="#de6d68"/>
<text x="412.5" y="66" font-size="7.9" text-anchor="middle" fill="#2a1010" stroke="#2a1010" stroke-width="0.15" >n = 42</text>
<text x="467.3" y="81" font-size="7.9" text-anchor="middle" fill="#102010" stroke="#102010" stroke-width="0.15" >n = 92</text>
<line x1="400" y1="44" x2="414" y2="57.5" stroke="#111" stroke-width="0.9" />
<line x1="481.5" y1="49.5" x2="469" y2="63" stroke="#111" stroke-width="0.9" />
<text x="15.5" y="131.2" font-size="9.2" text-anchor="start" fill="#222" stroke="#222" stroke-width="0.15" >B cell genes - <tspan font-style="italic">Moz</tspan><tspan dy="-2.76" font-size="7.91" letter-spacing="0.64">+/-</tspan><tspan dy="2.76"> versus wild-type pre-B cells</tspan></text>
<text transform="translate(12.5,248) rotate(-90)" font-size="8" fill="#222">mRNA norm to HK ± s.e.m.</text>
<line x1="30" y1="155.5" x2="30" y2="250.5" stroke="#000" stroke-width="0.9" />
<line x1="30" y1="250.5" x2="146" y2="250.5" stroke="#000" stroke-width="0.9" />
<line x1="27.5" y1="250.5" x2="30" y2="250.5" stroke="#000" stroke-width="0.8" />
<text x="25.5" y="253.3" font-size="8" text-anchor="end" fill="#222" stroke="#222" stroke-width="0.15" >0</text>
<line x1="27.5" y1="237.0" x2="30" y2="237.0" stroke="#000" stroke-width="0.8" />
<text x="25.5" y="239.8" font-size="8" text-anchor="end" fill="#222" stroke="#222" stroke-width="0.15" >2</text>
<line x1="27.5" y1="223.5" x2="30" y2="223.5" stroke="#000" stroke-width="0.8" />
<text x="25.5" y="226.3" font-size="8" text-anchor="end" fill="#222" stroke="#222" stroke-width="0.15" >4</text>
<line x1="27.5" y1="210.0" x2="30" y2="210.0" stroke="#000" stroke-width="0.8" />
<text x="25.5" y="212.8" font-size="8" text-anchor="end" fill="#222" stroke="#222" stroke-width="0.15" >6</text>
<line x1="27.5" y1="196.5" x2="30" y2="196.5" stroke="#000" stroke-width="0.8" />
<text x="25.5" y="199.3" font-size="8" text-anchor="end" fill="#222" stroke="#222" stroke-width="0.15" >8</text>
<line x1="27.5" y1="183.0" x2="30" y2="183.0" stroke="#000" stroke-width="0.8" />
<text x="25.5" y="185.8" font-size="8" text-anchor="end" fill="#222" stroke="#222" stroke-width="0.15" >10</text>
<line x1="27.5" y1="169.5" x2="30" y2="169.5" stroke="#000" stroke-width="0.8" />
<text x="25.5" y="172.3" font-size="8" text-anchor="end" fill="#222" stroke="#222" stroke-width="0.15" >12</text>
<line x1="27.5" y1="156.0" x2="30" y2="156.0" stroke="#000" stroke-width="0.8" />
<text x="25.5" y="158.8" font-size="8" text-anchor="end" fill="#222" stroke="#222" stroke-width="0.15" >14</text>
<rect x="37" y="169.5" width="8.9" height="81.0" fill="#000" stroke="#000" stroke-width="0.9" />
<line x1="41.45" y1="169.5" x2="41.45" y2="164.775" stroke="#000" stroke-width="0.9" />
<line x1="39.650000000000006" y1="164.775" x2="43.25" y2="164.775" stroke="#000" stroke-width="0.9" />
<rect x="45.9" y="211.35" width="8.9" height="39.150000000000006" fill="#fff" stroke="#000" stroke-width="0.9" />
<line x1="50.35" y1="211.35" x2="50.35" y2="209.325" stroke="#000" stroke-width="0.9" />
<line x1="48.550000000000004" y1="209.325" x2="52.15" y2="209.325" stroke="#000" stroke-width="0.9" />
<text x="45.9" y="261.5" font-size="7.8" text-anchor="middle" fill="#222" stroke="#222" stroke-width="0.15" font-style="italic" >Eya1</text>
<path d="M42.45,162.775 L42.45,157.9 L50.35,157.9 L50.35,201.325" fill="none" stroke="#000" stroke-width="0.9"/>
<text x="46.9" y="158.8" font-size="11" text-anchor="middle" fill="#222" stroke="#222" stroke-width="0.15" >***</text>
<rect x="66.2" y="203.925" width="8.9" height="46.57499999999999" fill="#000" stroke="#000" stroke-width="0.9" />
<line x1="70.65" y1="203.925" x2="70.65" y2="201.225" stroke="#000" stroke-width="0.9" />
<line x1="68.85000000000001" y1="201.225" x2="72.45" y2="201.225" stroke="#000" stroke-width="0.9" />
<rect x="75.10000000000001" y="240.375" width="8.9" height="10.125" fill="#fff" stroke="#000" stroke-width="0.9" />
<line x1="79.55000000000001" y1="240.375" x2="79.55000000000001" y2="237.675" stroke="#000" stroke-width="0.9" />
<line x1="77.75000000000001" y1="237.675" x2="81.35000000000001" y2="237.675" stroke="#000" stroke-width="0.9" />
<text x="75.10000000000001" y="261.5" font-size="7.8" text-anchor="middle" fill="#222" stroke="#222" stroke-width="0.15" font-style="italic" >Meis1</text>
<path d="M71.65,199.225 L71.65,195.8 L79.55000000000001,195.8 L79.55000000000001,233.675" fill="none" stroke="#000" stroke-width="0.9"/>
<text x="76.10000000000001" y="197.8" font-size="11" text-anchor="middle" fill="#222" stroke="#222" stroke-width="0.15" >***</text>
<rect x="96.3" y="224.85" width="8.9" height="25.650000000000006" fill="#000" stroke="#000" stroke-width="0.9" />
<line x1="100.75" y1="224.85" x2="100.75" y2="222.825" stroke="#000" stroke-width="0.9" />
<line x1="98.95" y1="222.825" x2="102.55" y2="222.825" stroke="#000" stroke-width="0.9" />
<rect x="105.2" y="234.975" width="8.9" height="15.525000000000006" fill="#fff" stroke="#000" stroke-width="0.9" />
<line x1="109.65" y1="234.975" x2="109.65" y2="230.925" stroke="#000" stroke-width="0.9" />
<line x1="107.85000000000001" y1="230.925" x2="111.45" y2="230.925" stroke="#000" stroke-width="0.9" />
<text x="105.2" y="261.5" font-size="7.8" text-anchor="middle" fill="#222" stroke="#222" stroke-width="0.15" font-style="italic" >Mira</text>
<path d="M101.75,220.825 L101.75,218 L109.65,218 L109.65,227.925" fill="none" stroke="#000" stroke-width="0.9"/>
<text x="106.2" y="215.5" font-size="7" text-anchor="middle" fill="#222" stroke="#222" stroke-width="0.15" >0.07</text>
<rect x="126.3" y="185.7" width="8.9" height="64.80000000000001" fill="#000" stroke="#000" stroke-width="0.9" />
<line x1="130.75" y1="185.7" x2="130.75" y2="183.675" stroke="#000" stroke-width="0.9" />
<line x1="128.95" y1="183.675" x2="132.55" y2="183.675" stroke="#000" stroke-width="0.9" />
<rect x="135.2" y="210.3375" width="8.9" height="40.162499999999994" fill="#fff" stroke="#000" stroke-width="0.9" />
<line x1="139.64999999999998" y1="210.3375" x2="139.64999999999998" y2="207.975" stroke="#000" stroke-width="0.9" />
<line x1="137.84999999999997" y1="207.975" x2="141.45" y2="207.975" stroke="#000" stroke-width="0.9" />
<text x="135.2" y="261.5" font-size="7.8" text-anchor="middle" fill="#222" stroke="#222" stroke-width="0.15" font-style="italic" >Pbx1</text>
<path d="M131.75,181.675 L131.75,175.8 L139.65,175.8 L139.65,203.975" fill="none" stroke="#000" stroke-width="0.9"/>
<text x="136.2" y="178.0" font-size="11" text-anchor="middle" fill="#222" stroke="#222" stroke-width="0.15" >**</text>
<rect x="99.2" y="142.6" width="5.4" height="4.4" fill="#000" stroke="#000" stroke-width="0.6" />
<text x="106.3" y="147.3" font-size="7" text-anchor="start" fill="#222" stroke="#222" stroke-width="0.15" ><tspan font-style="italic">Moz</tspan><tspan dy="-2.1" font-size="6.02" letter-spacing="0.49">+/+</tspan><tspan dy="2.1">(n=4)</tspan></text>
<rect x="99.4" y="152.4" width="5.2" height="4.4" fill="#fff" stroke="#000" stroke-width="0.9" />
<text x="106.3" y="157.1" font-size="7" text-anchor="start" fill="#222" stroke="#222" stroke-width="0.15" ><tspan font-style="italic">Moz</tspan><tspan dy="-2.1" font-size="6.02" letter-spacing="0.49">+/-</tspan><tspan dy="2.1"> (n=4)</tspan></text>
<line x1="165.8" y1="155.5" x2="165.8" y2="250.5" stroke="#000" stroke-width="0.9" />
<line x1="165.8" y1="250.5" x2="224.5" y2="250.5" stroke="#000" stroke-width="0.9" />
<line x1="163.3" y1="250.5" x2="165.8" y2="250.5" stroke="#000" stroke-width="0.8" />
<text x="161.5" y="253.3" font-size="8" text-anchor="end" fill="#222" stroke="#222" stroke-width="0.15" >0</text>
<line x1="163.3" y1="238.66" x2="165.8" y2="238.66" stroke="#000" stroke-width="0.8" />
<text x="161.5" y="241.46" font-size="8" text-anchor="end" fill="#222" stroke="#222" stroke-width="0.15" >0.2</text>
<line x1="163.3" y1="226.82" x2="165.8" y2="226.82" stroke="#000" stroke-width="0.8" />
<text x="161.5" y="229.62" font-size="8" text-anchor="end" fill="#222" stroke="#222" stroke-width="0.15" >0.4</text>
<line x1="163.3" y1="214.98" x2="165.8" y2="214.98" stroke="#000" stroke-width="0.8" />
<text x="161.5" y="217.78" font-size="8" text-anchor="end" fill="#222" stroke="#222" stroke-width="0.15" >0.6</text>
<line x1="163.3" y1="203.14" x2="165.8" y2="203.14" stroke="#000" stroke-width="0.8" />
<text x="161.5" y="205.94" font-size="8" text-anchor="end" fill="#222" stroke="#222" stroke-width="0.15" >0.8</text>
<line x1="163.3" y1="191.3" x2="165.8" y2="191.3" stroke="#000" stroke-width="0.8" />
<text x="161.5" y="194.10000000000002" font-size="8" text-anchor="end" fill="#222" stroke="#222" stroke-width="0.15" >1</text>
<line x1="163.3" y1="179.45999999999998" x2="165.8" y2="179.45999999999998" stroke="#000" stroke-width="0.8" />
<text x="161.5" y="182.26" font-size="8" text-anchor="end" fill="#222" stroke="#222" stroke-width="0.15" >1.2</text>
<line x1="163.3" y1="167.62" x2="165.8" y2="167.62" stroke="#000" stroke-width="0.8" />
<text x="161.5" y="170.42000000000002" font-size="8" text-anchor="end" fill="#222" stroke="#222" stroke-width="0.15" >1.4</text>
<line x1="163.3" y1="155.77999999999997" x2="165.8" y2="155.77999999999997" stroke="#000" stroke-width="0.8" />
<text x="161.5" y="158.57999999999998" font-size="8" text-anchor="end" fill="#222" stroke="#222" stroke-width="0.15" >1.6</text>
<rect x="173.5" y="212.612" width="9.5" height="37.888000000000005" fill="#000" stroke="#000" stroke-width="0.9" />
<line x1="178.25" y1="212.612" x2="178.25" y2="206.692" stroke="#000" stroke-width="0.9" />
<line x1="176.45" y1="206.692" x2="180.05" y2="206.692" stroke="#000" stroke-width="0.9" />
<rect x="183.0" y="232.148" width="9.5" height="18.352000000000004" fill="#fff" stroke="#000" stroke-width="0.9" />
<text x="183.0" y="261.5" font-size="7.8" text-anchor="middle" fill="#222" stroke="#222" stroke-width="0.15" font-style="italic" >Hoxa7</text>
<path d="M179.25,204.692 L179.25,199.4 L187.75,199.4 L187.75,228.148" fill="none" stroke="#000" stroke-width="0.9"/>
<text x="184.0" y="201.0" font-size="11" text-anchor="middle" fill="#222" stroke="#222" stroke-width="0.15" >*</text>
<rect x="205.1" y="178.276" width="9.5" height="72.22399999999999" fill="#000" stroke="#000" stroke-width="0.9" />
<line x1="209.85" y1="178.276" x2="209.85" y2="164.66" stroke="#000" stroke-width="0.9" />
<line x1="208.04999999999998" y1="164.66" x2="211.65" y2="164.66" stroke="#000" stroke-width="0.9" />
<rect x="214.6" y="211.428" width="9.5" height="39.072" fill="#fff" stroke="#000" stroke-width="0.9" />
<line x1="219.35" y1="211.428" x2="219.35" y2="207.284" stroke="#000" stroke-width="0.9" />
<line x1="217.54999999999998" y1="207.284" x2="221.15" y2="207.284" stroke="#000" stroke-width="0.9" />
<text x="214.6" y="261.5" font-size="7.8" text-anchor="middle" fill="#222" stroke="#222" stroke-width="0.15" font-style="italic" >Hoxa9</text>
<path d="M210.85,162.66 L210.85,160.5 L219.35,160.5 L219.35,203.284" fill="none" stroke="#000" stroke-width="0.9"/>
<text x="215.6" y="161.3" font-size="11" text-anchor="middle" fill="#222" stroke="#222" stroke-width="0.15" >*</text>
<text x="270" y="131" font-size="9" text-anchor="start" fill="#222" stroke="#222" stroke-width="0.15" >B cell datasets</text>
<text x="298.7" y="153.5" font-size="7.3" text-anchor="middle" fill="#222" stroke="#222" stroke-width="0.15" ><tspan font-style="italic">Moz</tspan><tspan dy="-2.19" font-size="6.28" letter-spacing="0.51">+/-</tspan><tspan dy="2.19"> versus</tspan></text>
<text x="298.7" y="162.5" font-size="7.3" text-anchor="middle" fill="#222" stroke="#222" stroke-width="0.15" >wild-type pre-B cells</text>
<circle cx="294.2" cy="189.3" r="22" fill="#c84614" fill-opacity="0.55" stroke="#d07050" stroke-width="0.7"/>
<circle cx="280.7" cy="214.9" r="21.2" fill="#eebd62" fill-opacity="0.55" stroke="#d8a070" stroke-width="0.7"/>
<circle cx="311.8" cy="214.9" r="21.2" fill="#eebd62" fill-opacity="0.55" stroke="#d8a070" stroke-width="0.7"/>
<text x="294.2" y="187.3" font-size="7" text-anchor="middle" fill="#3a2418" stroke="#3a2418" stroke-width="0.15" >94</text>
<text x="284.4" y="202.6" font-size="7" text-anchor="middle" fill="#3a2418" stroke="#3a2418" stroke-width="0.15" >37</text>
<text x="305.7" y="201.8" font-size="7" text-anchor="middle" fill="#3a2418" stroke="#3a2418" stroke-width="0.15" >?</text>
<text x="295" y="209.2" font-size="7" text-anchor="middle" fill="#3a2418" stroke="#3a2418" stroke-width="0.15" >5</text>
<text x="274.6" y="220.1" font-size="7" text-anchor="middle" fill="#3a2418" stroke="#3a2418" stroke-width="0.15" >1181</text>
<text x="295.9" y="220.6" font-size="7" text-anchor="middle" fill="#3a2418" stroke="#3a2418" stroke-width="0.15" >17</text>
<text x="313.8" y="220.6" font-size="7" text-anchor="middle" fill="#3a2418" stroke="#3a2418" stroke-width="0.15" >?</text>
<text x="265.8" y="246.3" font-size="7.1" text-anchor="middle" fill="#222" stroke="#222" stroke-width="0.15" ><tspan font-style="italic">Menin</tspan>-deficient</text>
<text x="266" y="254" font-size="7.1" text-anchor="middle" fill="#222" stroke="#222" stroke-width="0.15" >pro-B cells</text>
<text x="321.2" y="246.3" font-size="7.1" text-anchor="middle" fill="#222" stroke="#222" stroke-width="0.15" ><tspan font-style="italic">Mll1</tspan>-deficient</text>
<text x="321.4" y="254.4" font-size="7.1" text-anchor="middle" fill="#222" stroke="#222" stroke-width="0.15" >pro-B cells</text>
<path d="M270.3,258.3 L270.3,261 L319.2,261 L319.2,258.3" fill="none" stroke="#000" stroke-width="0.9"/>
<text x="294.7" y="268.4" font-size="7.1" text-anchor="middle" fill="#222" stroke="#222" stroke-width="0.15" ><tspan font-style="italic">Li et al. 2013</tspan></text>
<line x1="296" y1="206" x2="342.4" y2="178.3" stroke="#000" stroke-width="0.9" />
<rect x="342.4" y="155.1" width="35.4" height="47.7" fill="#fff" stroke="#222" stroke-width="0.9" />
<text x="349.5" y="164.9" font-size="7" text-anchor="start" fill="#c0302a" stroke="#c0302a" stroke-width="0.15" font-style="italic" >Meis1</text>
<path d="M346.2,158.9 L346.2,163.4 M344.6,162.9 L346.2,165.9 L347.8,162.9 Z" stroke="#000" stroke-width="0.9" fill="#000"/>
<text x="349.5" y="173.25" font-size="7" text-anchor="start" fill="#222" stroke="#222" stroke-width="0.15" font-style="italic" >Eya1</text>
<path d="M346.2,167.25 L346.2,171.75 M344.6,171.25 L346.2,174.25 L347.8,171.25 Z" stroke="#000" stroke-width="0.9" fill="#000"/>
<text x="349.5" y="181.6" font-size="7" text-anchor="start" fill="#222" stroke="#222" stroke-width="0.15" font-style="italic" >Hoxa9</text>
<path d="M346.2,175.6 L346.2,180.1 M344.6,179.6 L346.2,182.6 L347.8,179.6 Z" stroke="#000" stroke-width="0.9" fill="#000"/>
<text x="349.5" y="189.95" font-size="7" text-anchor="start" fill="#222" stroke="#222" stroke-width="0.15" font-style="italic" >Slc12a7</text>
<path d="M346.2,190.95 L346.2,186.45 M344.6,186.95 L346.2,183.95 L347.8,186.95 Z" stroke="#000" stroke-width="0.9" fill="#000"/>
<text x="349.5" y="198.3" font-size="7" text-anchor="start" fill="#222" stroke="#222" stroke-width="0.15" font-style="italic" >Socs2</text>
<path d="M346.2,199.3 L346.2,194.8 M344.6,195.3 L346.2,192.3 L347.8,195.3 Z" stroke="#000" stroke-width="0.9" fill="#000"/>
<text x="403.6" y="131.6" font-size="9" text-anchor="start" fill="#222" stroke="#222" stroke-width="0.15" >Leukemia datasets</text>
<text x="439.2" y="146.5" font-size="7.2" text-anchor="middle" fill="#222" stroke="#222" stroke-width="0.15" >genes over-expressed</text>
<text x="439.2" y="155.1" font-size="7.2" text-anchor="middle" fill="#222" stroke="#222" stroke-width="0.15" >in MOZ-translocation and</text>
<text x="439.2" y="163.7" font-size="7.2" text-anchor="middle" fill="#222" stroke="#222" stroke-width="0.15" >MLL-translocation AML</text>
<text x="439.2" y="172.3" font-size="7.2" text-anchor="middle" fill="#222" stroke="#222" stroke-width="0.15" ><tspan font-style="italic">Haferlach et al. 2009</tspan></text>
<circle cx="438" cy="196" r="21.3" fill="#483898" fill-opacity="0.63" stroke="#c05078" stroke-opacity="0.8" stroke-width="0.8"/>
<circle cx="423.5" cy="221.8" r="21.3" fill="#483898" fill-opacity="0.63" stroke="#c05078" stroke-opacity="0.8" stroke-width="0.8"/>
<circle cx="455" cy="221.8" r="21.3" fill="#483898" fill-opacity="0.63" stroke="#c05078" stroke-opacity="0.8" stroke-width="0.8"/>
<text x="437.1" y="195.2" font-size="7.3" text-anchor="middle" fill="#2a2050" stroke="#2a2050" stroke-width="0.15" >33</text>
<text x="427" y="211.5" font-size="7.3" text-anchor="middle" fill="#2a2050" stroke="#2a2050" stroke-width="0.15" >9</text>
<text x="449.5" y="211.5" font-size="7.3" text-anchor="middle" fill="#2a2050" stroke="#2a2050" stroke-width="0.15" >4</text>
<text x="419.3" y="226.9" font-size="7.3" text-anchor="middle" fill="#2a2050" stroke="#2a2050" stroke-width="0.15" >20</text>
<text x="439.5" y="228.8" font-size="7.3" text-anchor="middle" fill="#2a2050" stroke="#2a2050" stroke-width="0.15" >9</text>
<text x="458.3" y="226.9" font-size="7.3" text-anchor="middle" fill="#2a2050" stroke="#2a2050" stroke-width="0.15" >110</text>
<rect x="354.6" y="214.2" width="31.9" height="14.7" fill="#fff" stroke="#222" stroke-width="0.9" />
<path d="M359.7,225 L359.7,220 M358.1,220.5 L359.7,217.5 L361.3,220.5 Z" stroke="#000" stroke-width="0.9" fill="#000"/>
<text x="363.8" y="224.3" font-size="7" text-anchor="start" fill="#c0302a" stroke="#c0302a" stroke-width="0.15" font-style="italic" >Meis1</text>
<line x1="386.5" y1="220" x2="437" y2="213.6" stroke="#000" stroke-width="0.9" />
<text x="400" y="253.5" font-size="7.2" text-anchor="middle" fill="#222" stroke="#222" stroke-width="0.15" >MLL-rearrangement</text>
<text x="400" y="261.9" font-size="7.2" text-anchor="middle" fill="#222" stroke="#222" stroke-width="0.15" >ALL signature</text>
<text x="400" y="270.3" font-size="7.2" text-anchor="middle" fill="#222" stroke="#222" stroke-width="0.15" ><tspan font-style="italic">Yeoh et al. 2002</tspan></text>
<text x="480" y="251.5" font-size="7.2" text-anchor="middle" fill="#222" stroke="#222" stroke-width="0.15" >genes over-expressed</text>
<text x="480" y="259.9" font-size="7.2" text-anchor="middle" fill="#222" stroke="#222" stroke-width="0.15" >in MLL-translocation ALL</text>
<text x="480" y="268.3" font-size="7.2" text-anchor="middle" fill="#222" stroke="#222" stroke-width="0.15" >v.s. other ALL</text>
<text x="480" y="276.7" font-size="7.2" text-anchor="middle" fill="#222" stroke="#222" stroke-width="0.15" ><tspan font-style="italic">Armstrong et al. 2002</tspan></text>
<rect x="40" y="349.6" width="138.3" height="57.8" fill="#fff"/>
<path d="M30.200000000000003,317.8 L34.2,317.8 L34.2,346.2 L30.200000000000003,346.2" fill="none" stroke="#000" stroke-width="1.1"/>
<path d="M30.200000000000003,411.3 L34.2,411.3 L34.2,440.4 L30.200000000000003,440.4" fill="none" stroke="#000" stroke-width="1.1"/>
<text x="27.700000000000003" y="320.5" font-size="7.6" text-anchor="end" fill="#222" stroke="#222" stroke-width="0.15" >4.0</text>
<text x="27.700000000000003" y="349" font-size="7.6" text-anchor="end" fill="#222" stroke="#222" stroke-width="0.15" >0</text>
<text x="27.700000000000003" y="414" font-size="7.6" text-anchor="end" fill="#222" stroke="#222" stroke-width="0.15" >0</text>
<text x="27.700000000000003" y="443.2" font-size="7.6" text-anchor="end" fill="#222" stroke="#222" stroke-width="0.15" >1.8</text>
<text x="31.000000000000004" y="333.2" font-size="6.3" text-anchor="end" fill="#222" stroke="#222" stroke-width="0.15" >Enrichment</text>
<text x="31.000000000000004" y="427.2" font-size="6.3" text-anchor="end" fill="#222" stroke="#222" stroke-width="0.15" >Enrichment</text>
<line x1="37" y1="339.6" x2="178.3" y2="339.6" stroke="#6aa0b0" stroke-width="0.8" stroke-dasharray="1,1.2"/>
<line x1="37" y1="426.3" x2="178.3" y2="426.3" stroke="#445" stroke-width="0.8" stroke-dasharray="1,1.2"/>
<path d="M39.5,318.5 C50,324 60,333 71,338.5 C95,342 120,344 150,344.5 C160,344.5 170,344 178,343.8" fill="none" stroke="#c04050" stroke-width="1"/>
<path d="M39.5,423.5 C60,422 80,422.5 100,424 C120,425.5 135,421 143,422.5 C155,426 168,434 178,439" fill="none" stroke="#4a4aa0" stroke-width="1"/>
<defs><linearGradient id="g40" x1="0" x2="1" y1="0" y2="0"><stop offset="0" stop-color="#ebb0ba"/><stop offset="0.15" stop-color="#e2bec0"/><stop offset="0.45" stop-color="#d4c8c8"/><stop offset="0.75" stop-color="#cccccc"/><stop offset="0.86" stop-color="#bcd6e0"/><stop offset="0.92" stop-color="#acd8e6"/><stop offset="1" stop-color="#acd8e6"/></linearGradient></defs>
<rect x="40" y="363.8" width="138.3" height="29" fill="url(#g40)"/>
<rect x="40.00" y="349.6" width="5.7" height="29" fill="#d01c2c" opacity="0.95"/>
<rect x="46.80" y="349.6" width="4.7" height="29" fill="#d42a36" opacity="0.92"/>
<rect x="54.00" y="349.6" width="1.8" height="29" fill="#ca323f" opacity="0.6958062333441102"/>
<rect x="56.81" y="349.6" width="0.8" height="29" fill="#cc3642" opacity="0.6040338134683723"/>
<rect x="60.26" y="349.6" width="1" height="29" fill="#cb3440" opacity="0.4101872777688119"/>
<rect x="63.05" y="349.6" width="1" height="29" fill="#cb323f" opacity="0.3996026948443645"/>
<rect x="65.97" y="349.6" width="1.5" height="29" fill="#ce3d47" opacity="0.4358593757924329"/>
<rect x="69.02" y="349.6" width="1.8" height="29" fill="#cb3340" opacity="0.742027262995345"/>
<rect x="72.96" y="349.6" width="0.8" height="29" fill="#d0454d" opacity="0.3981400994784309"/>
<rect x="75.57" y="349.6" width="1" height="29" fill="#d0484f" opacity="0.43461264551994117"/>
<rect x="78.59" y="349.6" width="1" height="29" fill="#ce404a" opacity="0.7914477425936515"/>
<rect x="81.50" y="349.6" width="1.5" height="29" fill="#cd3a45" opacity="0.7845591710613202"/>
<rect x="85.19" y="349.6" width="1" height="29" fill="#cd3b45" opacity="0.48490649920537704"/>
<rect x="88.41" y="349.6" width="1.8" height="29" fill="#d24f55" opacity="0.4640753819550312"/>
<rect x="92.04" y="349.6" width="1.2" height="29" fill="#cf434c" opacity="0.6142984121015262"/>
<rect x="95.80" y="349.6" width="1" height="29" fill="#d35156" opacity="0.4364546754492562"/>
<rect x="99.68" y="349.6" width="0.8" height="29" fill="#cd3d47" opacity="0.6037333921826482"/>
<rect x="104.31" y="349.6" width="1.8" height="29" fill="#d24c53" opacity="0.44066208016797825"/>
<rect x="109.76" y="349.6" width="0.8" height="29" fill="#d4565b" opacity="0.4321016512382129"/>
<rect x="113.74" y="349.6" width="1" height="29" fill="#d65b5e" opacity="0.5630973939117945"/>
<rect x="117.42" y="349.6" width="1.5" height="29" fill="#d96667" opacity="0.3666412635205421"/>
<rect x="122.11" y="349.6" width="1.5" height="29" fill="#d65c5f" opacity="0.39990712433742753"/>
<rect x="126.48" y="349.6" width="1.2" height="29" fill="#db6c6c" opacity="0.5405411382270506"/>
<rect x="130.54" y="349.6" width="1.2" height="29" fill="#d14a51" opacity="0.6017172490858139"/>
<rect x="135.56" y="349.6" width="1.2" height="29" fill="#d24f55" opacity="0.3728646997218336"/>
<rect x="141.45" y="349.6" width="1.2" height="29" fill="#d65b5f" opacity="0.42347344608917414"/>
<rect x="146.37" y="349.6" width="1.2" height="29" fill="#dc7170" opacity="0.49641859778729036"/>
<rect x="152.67" y="349.6" width="1.8" height="29" fill="#d34f56" opacity="0.2692235183807775"/>
<rect x="158.88" y="349.6" width="1.8" height="29" fill="#d75f62" opacity="0.33415990235854437"/>
<rect x="164.92" y="349.6" width="1" height="29" fill="#e0807b" opacity="0.27363006885707414"/>
<rect x="169.79" y="349.6" width="1.5" height="29" fill="#d45459" opacity="0.45559662783309246"/>
<rect x="175.78" y="349.6" width="1.8" height="29" fill="#e1827d" opacity="0.24012194707963316"/>
<rect x="40.00" y="378.6" width="0.8" height="28.8" fill="#6166c5" opacity="0.796719611384517"/>
<rect x="41.44" y="378.6" width="1.5" height="28.8" fill="#7f76ca" opacity="0.6551486952758203"/>
<rect x="43.75" y="378.6" width="1" height="28.8" fill="#5761c3" opacity="0.6992352024249869"/>
<rect x="46.52" y="378.6" width="2.2" height="28.8" fill="#6c6cc7" opacity="0.6994469942753929"/>
<rect x="49.56" y="378.6" width="1" height="28.8" fill="#6c6cc7" opacity="0.6007195417587641"/>
<rect x="51.12" y="378.6" width="1" height="28.8" fill="#696ac6" opacity="0.902130252447823"/>
<rect x="53.40" y="378.6" width="0.8" height="28.8" fill="#716fc8" opacity="0.724627347866367"/>
<rect x="55.28" y="378.6" width="1.8" height="28.8" fill="#6769c6" opacity="0.7333483798810128"/>
<rect x="57.99" y="378.6" width="2.2" height="28.8" fill="#5c63c4" opacity="0.8823124187986067"/>
<rect x="61.41" y="378.6" width="1.8" height="28.8" fill="#716fc8" opacity="0.4688751941010453"/>
<rect x="64.60" y="378.6" width="2.2" height="28.8" fill="#686ac6" opacity="0.6044686306966682"/>
<rect x="68.20" y="378.6" width="1" height="28.8" fill="#6f6dc7" opacity="0.9762869847569702"/>
<rect x="70.41" y="378.6" width="1.2" height="28.8" fill="#6467c5" opacity="0.4563693613623613"/>
<rect x="72.47" y="378.6" width="1.8" height="28.8" fill="#706ec8" opacity="0.600526809726778"/>
<rect x="75.58" y="378.6" width="2.2" height="28.8" fill="#6d6cc7" opacity="0.8886942706712622"/>
<rect x="78.66" y="378.6" width="1" height="28.8" fill="#696ac6" opacity="0.9656333506517394"/>
<rect x="81.28" y="378.6" width="1.2" height="28.8" fill="#4b5ac1" opacity="0.8285853262795599"/>
<rect x="83.60" y="378.6" width="1.2" height="28.8" fill="#7571c9" opacity="0.7411370444231677"/>
<rect x="86.52" y="378.6" width="2.2" height="28.8" fill="#5861c3" opacity="0.7124814130780996"/>
<rect x="90.06" y="378.6" width="1.8" height="28.8" fill="#5b63c4" opacity="0.6791483528502636"/>
<rect x="92.98" y="378.6" width="1.8" height="28.8" fill="#6c6cc7" opacity="0.9650371039765746"/>
<rect x="96.26" y="378.6" width="0.8" height="28.8" fill="#545fc3" opacity="0.8002766676164295"/>
<rect x="97.74" y="378.6" width="1" height="28.8" fill="#5962c4" opacity="0.7725465200289162"/>
<rect x="99.44" y="378.6" width="0.8" height="28.8" fill="#5861c3" opacity="0.8272764775849375"/>
<rect x="102.02" y="378.6" width="1" height="28.8" fill="#736fc8" opacity="0.9888679755809413"/>
<rect x="103.58" y="378.6" width="1.8" height="28.8" fill="#6065c5" opacity="0.9823892820615394"/>
<rect x="105.83" y="378.6" width="1.8" height="28.8" fill="#6668c6" opacity="0.7059315900735923"/>
<rect x="108.13" y="378.6" width="1.2" height="28.8" fill="#515dc2" opacity="0.562401439479109"/>
<rect x="109.73" y="378.6" width="1.5" height="28.8" fill="#6b6bc7" opacity="0.6729566616837579"/>
<rect x="112.84" y="378.6" width="0.8" height="28.8" fill="#5a62c4" opacity="0.8288704418186361"/>
<rect x="114.81" y="378.6" width="1.8" height="28.8" fill="#696ac6" opacity="0.6157603450279826"/>
<rect x="117.49" y="378.6" width="1" height="28.8" fill="#3f54bf" opacity="0.769492931002792"/>
<rect x="119.48" y="378.6" width="1.2" height="28.8" fill="#525ec2" opacity="0.8971444175404018"/>
<rect x="121.73" y="378.6" width="1.5" height="28.8" fill="#6267c5" opacity="0.5362264970523544"/>
<rect x="124.97" y="378.6" width="1.2" height="28.8" fill="#535fc3" opacity="0.982398305260693"/>
<rect x="127.72" y="378.6" width="1.2" height="28.8" fill="#6166c5" opacity="0.8139121890106881"/>
<rect x="130.11" y="378.6" width="2.2" height="28.8" fill="#716fc8" opacity="0.7883424214771613"/>
<rect x="133.94" y="378.6" width="1" height="28.8" fill="#5d64c4" opacity="0.7603619449341041"/>
<rect x="136.03" y="378.6" width="1.5" height="28.8" fill="#4959c1" opacity="0.7137661273393783"/>
<rect x="139.28" y="378.6" width="1.2" height="28.8" fill="#505dc2" opacity="0.9525609969158848"/>
<rect x="141.91" y="378.6" width="0.8" height="28.8" fill="#686ac6" opacity="0.6154414871556164"/>
<rect x="143.56" y="378.6" width="1.2" height="28.8" fill="#5760c3" opacity="0.9913520821863311"/>
<rect x="145.36" y="378.6" width="1.5" height="28.8" fill="#4a5ac1" opacity="0.46307620754120726"/>
<rect x="147.60" y="378.6" width="1.5" height="28.8" fill="#6f6ec8" opacity="0.47198707818939134"/>
<rect x="149.52" y="378.6" width="1.5" height="28.8" fill="#6568c6" opacity="0.7429105584187319"/>
<rect x="152.52" y="378.6" width="1" height="28.8" fill="#6568c6" opacity="0.5851131001082461"/>
<rect x="154.93" y="378.6" width="1.5" height="28.8" fill="#545fc3" opacity="0.6071507413778717"/>
<rect x="157.55" y="378.6" width="0.8" height="28.8" fill="#3750be" opacity="0.9249148803362217"/>
<rect x="158.78" y="378.6" width="2.2" height="28.8" fill="#6367c5" opacity="0.5193177909804834"/>
<rect x="161.85" y="378.6" width="1.5" height="28.8" fill="#505dc2" opacity="0.6132521912619605"/>
<rect x="164.24" y="378.6" width="1" height="28.8" fill="#3951be" opacity="0.8249688093346317"/>
<rect x="165.69" y="378.6" width="0.8" height="28.8" fill="#545fc3" opacity="0.5888326213082338"/>
<rect x="168.13" y="378.6" width="1.5" height="28.8" fill="#7771c9" opacity="0.7500757579143988"/>
<rect x="170.86" y="378.6" width="2.2" height="28.8" fill="#3750be" opacity="0.8289595361016666"/>
<rect x="174.14" y="378.6" width="1.5" height="28.8" fill="#5861c3" opacity="0.9514434219349936"/>
<rect x="176.99" y="378.6" width="1.5" height="28.8" fill="#3750be" opacity="0.84578519246025"/>
<line x1="40" y1="445" x2="178.3" y2="445" stroke="#000" stroke-width="1" />
<line x1="40.0" y1="445" x2="40.0" y2="448" stroke="#000" stroke-width="0.9" />
<text transform="translate(42.30,450) rotate(-90)" font-size="6.4" text-anchor="end" fill="#222" stroke="#222" stroke-width="0.15">9.37</text>
<line x1="53.83" y1="445" x2="53.83" y2="448" stroke="#000" stroke-width="0.9" />
<text transform="translate(56.13,450) rotate(-90)" font-size="6.4" text-anchor="end" fill="#222" stroke="#222" stroke-width="0.15">1.64</text>
<line x1="67.66" y1="445" x2="67.66" y2="448" stroke="#000" stroke-width="0.9" />
<text transform="translate(69.96,450) rotate(-90)" font-size="6.4" text-anchor="end" fill="#222" stroke="#222" stroke-width="0.15">1.01</text>
<line x1="81.49000000000001" y1="445" x2="81.49000000000001" y2="448" stroke="#000" stroke-width="0.9" />
<text transform="translate(83.79,450) rotate(-90)" font-size="6.4" text-anchor="end" fill="#222" stroke="#222" stroke-width="0.15">0.63</text>
<line x1="95.32000000000001" y1="445" x2="95.32000000000001" y2="448" stroke="#000" stroke-width="0.9" />
<text transform="translate(97.62,450) rotate(-90)" font-size="6.4" text-anchor="end" fill="#222" stroke="#222" stroke-width="0.15">0.31</text>
<line x1="109.15" y1="445" x2="109.15" y2="448" stroke="#000" stroke-width="0.9" />
<text transform="translate(111.45,450) rotate(-90)" font-size="6.4" text-anchor="end" fill="#222" stroke="#222" stroke-width="0.15">0.02</text>
<line x1="122.98" y1="445" x2="122.98" y2="448" stroke="#000" stroke-width="0.9" />
<text transform="translate(125.28,450) rotate(-90)" font-size="6.4" text-anchor="end" fill="#222" stroke="#222" stroke-width="0.15">-0.27</text>
<line x1="136.81" y1="445" x2="136.81" y2="448" stroke="#000" stroke-width="0.9" />
<text transform="translate(139.11,450) rotate(-90)" font-size="6.4" text-anchor="end" fill="#222" stroke="#222" stroke-width="0.15">-0.58</text>
<line x1="150.64000000000001" y1="445" x2="150.64000000000001" y2="448" stroke="#000" stroke-width="0.9" />
<text transform="translate(152.94,450) rotate(-90)" font-size="6.4" text-anchor="end" fill="#222" stroke="#222" stroke-width="0.15">-0.98</text>
<line x1="164.47" y1="445" x2="164.47" y2="448" stroke="#000" stroke-width="0.9" />
<text transform="translate(166.77,450) rotate(-90)" font-size="6.4" text-anchor="end" fill="#222" stroke="#222" stroke-width="0.15">-1.52</text>
<line x1="178.3" y1="445" x2="178.3" y2="448" stroke="#000" stroke-width="0.9" />
<text transform="translate(180.60,450) rotate(-90)" font-size="6.4" text-anchor="end" fill="#222" stroke="#222" stroke-width="0.15">-10.11</text>
<text x="109.15" y="472.5" font-size="7.2" text-anchor="middle" fill="#222" stroke="#222" stroke-width="0.15" >Statistic</text>
<text transform="translate(33,397) rotate(-90)" font-size="7.1" fill="#222">UP in <tspan font-style="italic">Moz</tspan><tspan dy="-2.13" font-size="6.11" letter-spacing="0.5">+/-</tspan></text>
<text transform="translate(182.70000000000002,355) rotate(90)" font-size="6.9" fill="#222">DOWN in <tspan font-style="italic">Moz</tspan><tspan dy="-2.07" font-size="5.93" letter-spacing="0.48">+/-</tspan></text>
<path d="M225.7,317.8 L229.7,317.8 L229.7,346.2 L225.7,346.2" fill="none" stroke="#000" stroke-width="1.1"/>
<path d="M225.7,411.3 L229.7,411.3 L229.7,440.4 L225.7,440.4" fill="none" stroke="#000" stroke-width="1.1"/>
<text x="223.2" y="320.5" font-size="7.6" text-anchor="end" fill="#222" stroke="#222" stroke-width="0.15" >5.9</text>
<text x="223.2" y="349" font-size="7.6" text-anchor="end" fill="#222" stroke="#222" stroke-width="0.15" >0</text>
<text x="223.2" y="414" font-size="7.6" text-anchor="end" fill="#222" stroke="#222" stroke-width="0.15" >0</text>
<text x="223.2" y="443.2" font-size="7.6" text-anchor="end" fill="#222" stroke="#222" stroke-width="0.15" >4.3</text>
<text x="226.5" y="333.2" font-size="6.3" text-anchor="end" fill="#222" stroke="#222" stroke-width="0.15" >Enrichment</text>
<text x="226.5" y="427.2" font-size="6.3" text-anchor="end" fill="#222" stroke="#222" stroke-width="0.15" >Enrichment</text>
<line x1="232.5" y1="341.2" x2="375.5" y2="341.2" stroke="#b03040" stroke-width="0.8" stroke-dasharray="1,1.2"/>
<line x1="232.5" y1="416.2" x2="375.5" y2="416.2" stroke="#445" stroke-width="0.8" stroke-dasharray="1,1.2"/>
<path d="M235.3,316.5 C245,322 255,334 264.6,341.8 C270,345 275,345.5 281,345.3 C300,343.5 320,342.5 340,343 C355,343.5 365,343.6 375.5,343.6" fill="none" stroke="#c04050" stroke-width="1"/>
<path d="M235.4,411.2 C245,413.5 258,417 267,416.8 C280,415 292,409.5 307,409.6 C322,410 335,412 343,414 C352,418 365,428 375.5,437.8" fill="none" stroke="#4a4aa0" stroke-width="1"/>
<defs><linearGradient id="g235" x1="0" x2="1" y1="0" y2="0"><stop offset="0" stop-color="#e6b2c2"/><stop offset="0.197" stop-color="#e6b2c2"/><stop offset="0.198" stop-color="#c9c9c9"/><stop offset="0.806" stop-color="#c9c9c9"/><stop offset="0.807" stop-color="#b2d4e6"/><stop offset="1" stop-color="#b2d4e6"/></linearGradient></defs>
<rect x="235.5" y="363.8" width="140.0" height="29" fill="url(#g235)"/>
<rect x="235.60" y="349.6" width="3" height="29" fill="#c01c28" opacity="0.95"/>
<rect x="240.60" y="349.6" width="1.5" height="29" fill="#c83040" opacity="0.9"/>
<rect x="243.70" y="349.6" width="1.3" height="29" fill="#c84050" opacity="0.85"/>
<rect x="245.60" y="349.6" width="1.3" height="29" fill="#c84050" opacity="0.85"/>
<rect x="252.10" y="349.6" width="1.2" height="29" fill="#d05060" opacity="0.85"/>
<rect x="253.80" y="349.6" width="1.2" height="29" fill="#d06070" opacity="0.8"/>
<rect x="311.50" y="349.6" width="0.9" height="29" fill="#c04050" opacity="0.9"/>
<rect x="323.20" y="349.6" width="0.9" height="29" fill="#c04050" opacity="0.9"/>
<rect x="258.60" y="378.6" width="0.9" height="28.8" fill="#5050a8" opacity="0.9"/>
<rect x="276.20" y="378.6" width="0.9" height="28.8" fill="#5050a8" opacity="0.9"/>
<rect x="343.80" y="378.6" width="0.9" height="28.8" fill="#5050a8" opacity="0.9"/>
<rect x="367.80" y="378.6" width="1.0" height="28.8" fill="#3040b0" opacity="0.95"/>
<rect x="370.50" y="378.6" width="0.9" height="28.8" fill="#3040b0" opacity="0.95"/>
<rect x="372.20" y="378.6" width="1.0" height="28.8" fill="#3040b0" opacity="0.95"/>
<rect x="374.40" y="378.6" width="0.9" height="28.8" fill="#3040b0" opacity="0.95"/>
<line x1="235.5" y1="445" x2="375.5" y2="445" stroke="#000" stroke-width="1" />
<line x1="235.5" y1="445" x2="235.5" y2="448" stroke="#000" stroke-width="0.9" />
<text transform="translate(237.80,450) rotate(-90)" font-size="6.4" text-anchor="end" fill="#222" stroke="#222" stroke-width="0.15">9.37</text>
<line x1="249.5" y1="445" x2="249.5" y2="448" stroke="#000" stroke-width="0.9" />
<text transform="translate(251.80,450) rotate(-90)" font-size="6.4" text-anchor="end" fill="#222" stroke="#222" stroke-width="0.15">1.64</text>
<line x1="263.5" y1="445" x2="263.5" y2="448" stroke="#000" stroke-width="0.9" />
<text transform="translate(265.80,450) rotate(-90)" font-size="6.4" text-anchor="end" fill="#222" stroke="#222" stroke-width="0.15">1.01</text>
<line x1="277.5" y1="445" x2="277.5" y2="448" stroke="#000" stroke-width="0.9" />
<text transform="translate(279.80,450) rotate(-90)" font-size="6.4" text-anchor="end" fill="#222" stroke="#222" stroke-width="0.15">0.63</text>
<line x1="291.5" y1="445" x2="291.5" y2="448" stroke="#000" stroke-width="0.9" />
<text transform="translate(293.80,450) rotate(-90)" font-size="6.4" text-anchor="end" fill="#222" stroke="#222" stroke-width="0.15">0.31</text>
<line x1="305.5" y1="445" x2="305.5" y2="448" stroke="#000" stroke-width="0.9" />
<text transform="translate(307.80,450) rotate(-90)" font-size="6.4" text-anchor="end" fill="#222" stroke="#222" stroke-width="0.15">0.02</text>
<line x1="319.5" y1="445" x2="319.5" y2="448" stroke="#000" stroke-width="0.9" />
<text transform="translate(321.80,450) rotate(-90)" font-size="6.4" text-anchor="end" fill="#222" stroke="#222" stroke-width="0.15">-0.27</text>
<line x1="333.5" y1="445" x2="333.5" y2="448" stroke="#000" stroke-width="0.9" />
<text transform="translate(335.80,450) rotate(-90)" font-size="6.4" text-anchor="end" fill="#222" stroke="#222" stroke-width="0.15">-0.58</text>
<line x1="347.5" y1="445" x2="347.5" y2="448" stroke="#000" stroke-width="0.9" />
<text transform="translate(349.80,450) rotate(-90)" font-size="6.4" text-anchor="end" fill="#222" stroke="#222" stroke-width="0.15">-0.98</text>
<line x1="361.5" y1="445" x2="361.5" y2="448" stroke="#000" stroke-width="0.9" />
<text transform="translate(363.80,450) rotate(-90)" font-size="6.4" text-anchor="end" fill="#222" stroke="#222" stroke-width="0.15">-1.52</text>
<line x1="375.5" y1="445" x2="375.5" y2="448" stroke="#000" stroke-width="0.9" />
<text transform="translate(377.80,450) rotate(-90)" font-size="6.4" text-anchor="end" fill="#222" stroke="#222" stroke-width="0.15">-10.11</text>
<text x="305.5" y="472.5" font-size="7.2" text-anchor="middle" fill="#222" stroke="#222" stroke-width="0.15" >Statistic</text>
<text transform="translate(228.5,397) rotate(-90)" font-size="7.1" fill="#222">UP in <tspan font-style="italic">Moz</tspan><tspan dy="-2.13" font-size="6.11" letter-spacing="0.5">+/-</tspan></text>
<text transform="translate(379.9,355) rotate(90)" font-size="6.9" fill="#222">DOWN in <tspan font-style="italic">Moz</tspan><tspan dy="-2.07" font-size="5.93" letter-spacing="0.48">+/-</tspan></text>
<text x="63.5" y="308" font-size="9" text-anchor="start" fill="#222" stroke="#222" stroke-width="0.15" ><tspan font-style="italic">Menin</tspan> pro-B cell dataset</text>
<text x="95.4" y="318.6" font-size="7.2" text-anchor="start" fill="#222" stroke="#222" stroke-width="0.15" ><tspan font-style="italic">p</tspan>=0.027</text>
<text x="227.7" y="307" font-size="9" text-anchor="start" fill="#222" stroke="#222" stroke-width="0.15" >Genes co-regulated by MLL1 and menin</text>
<text x="297.1" y="318.6" font-size="7.2" text-anchor="start" fill="#222" stroke="#222" stroke-width="0.15" ><tspan font-style="italic">p</tspan>=0.016</text>
<text x="462.3" y="307.7" font-size="9.1" text-anchor="middle" fill="#222" stroke="#222" stroke-width="0.15" ><tspan font-style="italic">Meis1</tspan> mRNA</text>
<text x="461.8" y="318.8" font-size="9.1" text-anchor="middle" fill="#222" stroke="#222" stroke-width="0.15" >pre-leukemic mice</text>
<text transform="translate(414.2,452.5) rotate(-90)" font-size="8.2" fill="#222">mRNA norm to HK &amp; WT ± s.e.m.</text>
<line x1="433" y1="334.5" x2="433" y2="447.4" stroke="#000" stroke-width="0.9" />
<line x1="433" y1="447.4" x2="458.7" y2="447.4" stroke="#000" stroke-width="0.9" />
<line x1="430.5" y1="447.4" x2="433" y2="447.4" stroke="#000" stroke-width="0.8" />
<text x="429.5" y="450.09999999999997" font-size="7.6" text-anchor="end" fill="#222" stroke="#222" stroke-width="0.15" >0</text>
<line x1="430.5" y1="428.65" x2="433" y2="428.65" stroke="#000" stroke-width="0.8" />
<text x="429.5" y="431.34999999999997" font-size="7.6" text-anchor="end" fill="#222" stroke="#222" stroke-width="0.15" >0.2</text>
<line x1="430.5" y1="409.9" x2="433" y2="409.9" stroke="#000" stroke-width="0.8" />
<text x="429.5" y="412.59999999999997" font-size="7.6" text-anchor="end" fill="#222" stroke="#222" stroke-width="0.15" >0.4</text>
<line x1="430.5" y1="391.15" x2="433" y2="391.15" stroke="#000" stroke-width="0.8" />
<text x="429.5" y="393.84999999999997" font-size="7.6" text-anchor="end" fill="#222" stroke="#222" stroke-width="0.15" >0.6</text>
<line x1="430.5" y1="372.4" x2="433" y2="372.4" stroke="#000" stroke-width="0.8" />
<text x="429.5" y="375.09999999999997" font-size="7.6" text-anchor="end" fill="#222" stroke="#222" stroke-width="0.15" >0.8</text>
<line x1="430.5" y1="353.65" x2="433" y2="353.65" stroke="#000" stroke-width="0.8" />
<text x="429.5" y="356.34999999999997" font-size="7.6" text-anchor="end" fill="#222" stroke="#222" stroke-width="0.15" >1.0</text>
<line x1="430.5" y1="334.9" x2="433" y2="334.9" stroke="#000" stroke-width="0.8" />
<text x="429.5" y="337.59999999999997" font-size="7.6" text-anchor="end" fill="#222" stroke="#222" stroke-width="0.15" >1.2</text>
<rect x="437" y="353.65" width="10.4" height="93.75" fill="#262680" stroke="#000" stroke-width="0.8" />
<line x1="442.2" y1="353.65" x2="442.2" y2="342" stroke="#000" stroke-width="0.9" />
<line x1="440.4" y1="342" x2="444" y2="342" stroke="#000" stroke-width="0.9" />
<rect x="447.4" y="418.3375" width="10.6" height="29.0625" fill="#fff" stroke="#000" stroke-width="0.9" />
<line x1="452.7" y1="418.3375" x2="452.7" y2="414" stroke="#000" stroke-width="0.9" />
<line x1="450.9" y1="414" x2="454.5" y2="414" stroke="#000" stroke-width="0.9" />
<path d="M442.2,340.5 L442.2,333.4 L452.7,333.4 L452.7,412" fill="none" stroke="#000" stroke-width="0.9"/>
<text x="447.2" y="334.5" font-size="11" text-anchor="middle" fill="#222" stroke="#222" stroke-width="0.15" >**</text>
<text x="439.5" y="456.5" font-size="7.4" text-anchor="middle" fill="#222" stroke="#222" stroke-width="0.15" >wt</text>
<text x="452.7" y="452.6" font-size="7.6" text-anchor="middle" fill="#222" stroke="#222" stroke-width="0.15" font-style="italic" >Moz</text>
<text x="452.7" y="459" font-size="6.6" text-anchor="middle" fill="#222" stroke="#222" stroke-width="0.15" >+/-</text>
<line x1="481" y1="334.5" x2="481" y2="447.4" stroke="#000" stroke-width="0.9" />
<line x1="481" y1="447.4" x2="508.5" y2="447.4" stroke="#000" stroke-width="0.9" />
<line x1="478.5" y1="447.4" x2="481" y2="447.4" stroke="#000" stroke-width="0.8" />
<text x="477.5" y="450.09999999999997" font-size="7.6" text-anchor="end" fill="#222" stroke="#222" stroke-width="0.15" >0</text>
<line x1="478.5" y1="428.65" x2="481" y2="428.65" stroke="#000" stroke-width="0.8" />
<text x="477.5" y="431.34999999999997" font-size="7.6" text-anchor="end" fill="#222" stroke="#222" stroke-width="0.15" >0.04</text>
<line x1="478.5" y1="409.9" x2="481" y2="409.9" stroke="#000" stroke-width="0.8" />
<text x="477.5" y="412.59999999999997" font-size="7.6" text-anchor="end" fill="#222" stroke="#222" stroke-width="0.15" >0.08</text>
<line x1="478.5" y1="391.15" x2="481" y2="391.15" stroke="#000" stroke-width="0.8" />
<text x="477.5" y="393.84999999999997" font-size="7.6" text-anchor="end" fill="#222" stroke="#222" stroke-width="0.15" >0.12</text>
<line x1="478.5" y1="372.4" x2="481" y2="372.4" stroke="#000" stroke-width="0.8" />
<text x="477.5" y="375.09999999999997" font-size="7.6" text-anchor="end" fill="#222" stroke="#222" stroke-width="0.15" >0.16</text>
<line x1="478.5" y1="353.65" x2="481" y2="353.65" stroke="#000" stroke-width="0.8" />
<text x="477.5" y="356.34999999999997" font-size="7.6" text-anchor="end" fill="#222" stroke="#222" stroke-width="0.15" >0.20</text>
<line x1="478.5" y1="334.9" x2="481" y2="334.9" stroke="#000" stroke-width="0.8" />
<text x="477.5" y="337.59999999999997" font-size="7.6" text-anchor="end" fill="#222" stroke="#222" stroke-width="0.15" >0.24</text>
<rect x="485.9" y="360.68125" width="10.8" height="86.71875" fill="#c8001c" stroke="#000" stroke-width="0.8" />
<line x1="491.3" y1="360.68125" x2="491.3" y2="355" stroke="#000" stroke-width="0.9" />
<line x1="489.5" y1="355" x2="493.1" y2="355" stroke="#000" stroke-width="0.9" />
<rect x="496.7" y="405.68125" width="10.8" height="41.71875" fill="#c4c4c4" stroke="#000" stroke-width="0.8" />
<line x1="502.1" y1="405.68125" x2="502.1" y2="403" stroke="#000" stroke-width="0.9" />
<line x1="500.3" y1="403" x2="503.9" y2="403" stroke="#000" stroke-width="0.9" />
<path d="M491.3,353.5 L491.3,345.5 L502.1,345.5 L502.1,401.5" fill="none" stroke="#000" stroke-width="0.9"/>
<text x="496.5" y="346.8" font-size="11" text-anchor="middle" fill="#222" stroke="#222" stroke-width="0.15" >***</text>
<text x="487.5" y="456.5" font-size="7.4" text-anchor="middle" fill="#222" stroke="#222" stroke-width="0.15" >wt</text>
<text x="500.8" y="452.6" font-size="7.6" text-anchor="middle" fill="#222" stroke="#222" stroke-width="0.15" font-style="italic" >Moz</text>
<text x="500.8" y="459" font-size="6.6" text-anchor="middle" fill="#222" stroke="#222" stroke-width="0.15" >+/-</text>
<line x1="481.5" y1="462.6" x2="520" y2="462.6" stroke="#000" stroke-width="0.9" />
<text x="481.8" y="471.5" font-size="8.2" text-anchor="start" fill="#222" stroke="#222" stroke-width="0.15" ><tspan font-style="italic">E</tspan>µ-<tspan font-style="italic">Myc</tspan><tspan dy="-2.4" font-size="7" letter-spacing="0.5">T/+</tspan></text>
<text x="50" y="498" font-size="9" text-anchor="start" fill="#222" stroke="#222" stroke-width="0.15" >MOZ ChIP</text>
<text transform="translate(18.6,605.2) rotate(-90)" font-size="7.8" fill="#222">IP[MOZ] : input ± s.e.m.</text>
<line x1="47.6" y1="509.5" x2="47.6" y2="622.5" stroke="#000" stroke-width="1" />
<line x1="47.6" y1="622.5" x2="89.4" y2="622.5" stroke="#000" stroke-width="1" />
<line x1="45.2" y1="622.5" x2="47.6" y2="622.5" stroke="#000" stroke-width="0.9" />
<text x="44.3" y="625.1" font-size="7.3" text-anchor="end" fill="#222" stroke="#222" stroke-width="0.15" >0</text>
<line x1="45.2" y1="608.4" x2="47.6" y2="608.4" stroke="#000" stroke-width="0.9" />
<text x="44.3" y="611.0" font-size="7.3" text-anchor="end" fill="#222" stroke="#222" stroke-width="0.15" >0.005</text>
<line x1="45.2" y1="594.3" x2="47.6" y2="594.3" stroke="#000" stroke-width="0.9" />
<text x="44.3" y="596.9" font-size="7.3" text-anchor="end" fill="#222" stroke="#222" stroke-width="0.15" >0.010</text>
<line x1="45.2" y1="580.2" x2="47.6" y2="580.2" stroke="#000" stroke-width="0.9" />
<text x="44.3" y="582.8000000000001" font-size="7.3" text-anchor="end" fill="#222" stroke="#222" stroke-width="0.15" >0.015</text>
<line x1="45.2" y1="566.1" x2="47.6" y2="566.1" stroke="#000" stroke-width="0.9" />
<text x="44.3" y="568.7" font-size="7.3" text-anchor="end" fill="#222" stroke="#222" stroke-width="0.15" >0.020</text>
<line x1="45.2" y1="552.0" x2="47.6" y2="552.0" stroke="#000" stroke-width="0.9" />
<text x="44.3" y="554.6" font-size="7.3" text-anchor="end" fill="#222" stroke="#222" stroke-width="0.15" >0.025</text>
<line x1="45.2" y1="537.9" x2="47.6" y2="537.9" stroke="#000" stroke-width="0.9" />
<text x="44.3" y="540.5" font-size="7.3" text-anchor="end" fill="#222" stroke="#222" stroke-width="0.15" >0.030</text>
<line x1="45.2" y1="523.8" x2="47.6" y2="523.8" stroke="#000" stroke-width="0.9" />
<text x="44.3" y="526.4" font-size="7.3" text-anchor="end" fill="#222" stroke="#222" stroke-width="0.15" >0.035</text>
<line x1="45.2" y1="509.7" x2="47.6" y2="509.7" stroke="#000" stroke-width="0.9" />
<text x="44.3" y="512.3" font-size="7.3" text-anchor="end" fill="#222" stroke="#222" stroke-width="0.15" >0.040</text>
<rect x="56.2" y="531.9780000000001" width="13" height="90.52199999999999" fill="#000" stroke="#000" stroke-width="0.8" />
<line x1="62.8" y1="531.9780000000001" x2="62.8" y2="520.3" stroke="#000" stroke-width="0.9" />
<line x1="61" y1="520.3" x2="64.6" y2="520.3" stroke="#000" stroke-width="0.9" />
<rect x="69.2" y="571.74" width="12.5" height="50.76" fill="#fff" stroke="#000" stroke-width="0.9" />
<line x1="75.4" y1="571.74" x2="75.4" y2="558.5" stroke="#000" stroke-width="0.9" />
<line x1="73.6" y1="558.5" x2="77.2" y2="558.5" stroke="#000" stroke-width="0.9" />
<path d="M62.8,516.2 L62.8,513.1 L74.6,513.1 L74.6,557" fill="none" stroke="#000" stroke-width="0.9"/>
<text x="69.5" y="516" font-size="11" text-anchor="middle" fill="#222" stroke="#222" stroke-width="0.15" >*</text>
<text x="47.7" y="631.5" font-size="8.8" text-anchor="start" fill="#222" stroke="#222" stroke-width="0.15" ><tspan font-style="italic">Meis1</tspan>_TSS</text>
<rect x="106.9" y="508.6" width="5.3" height="4.7" fill="#000" stroke="#000" stroke-width="0.6" />
<text x="114.3" y="513.2" font-size="7" text-anchor="start" fill="#222" stroke="#222" stroke-width="0.15" ><tspan font-style="italic">Moz</tspan><tspan dy="-2.1" font-size="6.02" letter-spacing="0.49">+/+</tspan><tspan dy="2.1">(n=5)</tspan></text>
<rect x="106.9" y="518.6" width="5.3" height="4.8" fill="#fff" stroke="#000" stroke-width="0.9" />
<text x="114.3" y="523.8" font-size="7" text-anchor="start" fill="#222" stroke="#222" stroke-width="0.15" ><tspan font-style="italic">Moz</tspan><tspan dy="-2.1" font-size="6.02" letter-spacing="0.49">+/-</tspan><tspan dy="2.1"> (n=6)</tspan></text>
<text x="104.8" y="548.5" font-size="7.6" text-anchor="middle" fill="#222" stroke="#222" stroke-width="0.15" >chr11</text>
<text x="104.8" y="556.5" font-size="7.6" text-anchor="middle" fill="#222" stroke="#222" stroke-width="0.15" >19050000</text>
<text x="173" y="548.5" font-size="7.6" text-anchor="middle" fill="#222" stroke="#222" stroke-width="0.15" >chr11</text>
<text x="173" y="556.5" font-size="7.6" text-anchor="middle" fill="#222" stroke="#222" stroke-width="0.15" >18850000</text>
<line x1="108.6" y1="578.4" x2="173.6" y2="578.4" stroke="#000" stroke-width="1" />
<rect x="120.7" y="573.1" width="41.2" height="11" fill="#000" stroke="none" stroke-width="1" />
<text x="140.8" y="581.3" font-size="7.8" text-anchor="middle" fill="#fff" stroke="#fff" stroke-width="0.15" font-style="italic" >Meis1</text>
<path d="M121.3,573 L121.3,566.6 L129,566.6" fill="none" stroke="#000" stroke-width="1"/>
<path d="M128.5,564.4 L132.3,566.6 L128.5,568.8 Z" fill="#000"/>
<text x="103" y="591.5" font-size="5.6" text-anchor="start" fill="#222" stroke="#222" stroke-width="0.15" >-45</text>
<rect x="113.3" y="588" width="9.9" height="3.2" fill="#c01820" stroke="none" stroke-width="1" />
<text x="123.8" y="591.5" font-size="5.6" text-anchor="start" fill="#222" stroke="#222" stroke-width="0.15" >+19</text>
<text x="101.6" y="602.8" font-size="7.8" text-anchor="start" fill="#222" stroke="#222" stroke-width="0.15" ><tspan font-style="italic">Meis1</tspan>_TSS</text>
<text x="226" y="498" font-size="9" text-anchor="start" fill="#222" stroke="#222" stroke-width="0.15" >B cell development - dataset from <tspan font-style="italic">Hoffman et al.</tspan> compared to <tspan font-style="italic">Moz</tspan></text>
<rect x="287.4" y="504.7" width="56.1" height="39.4" fill="#e08268" stroke="#5a3028" stroke-width="0.9" />
<rect x="367.4" y="505.1" width="55.8" height="39" fill="#b6d498" stroke="#3c4636" stroke-width="0.9" />
<text x="317.6" y="514.2" font-size="7.8" text-anchor="middle" fill="#2a1a14" stroke="#2a1a14" stroke-width="0.15" >expression</text>
<text x="317.6" y="524.3" font-size="7.8" text-anchor="middle" fill="#2a1a14" stroke="#2a1a14" stroke-width="0.15" >in <tspan font-style="italic">Moz</tspan><tspan dy="-2.34" font-size="6.71" letter-spacing="0.55">+/-</tspan></text>
<text x="317.6" y="534.2" font-size="7.8" text-anchor="middle" fill="#2a1a14" stroke="#2a1a14" stroke-width="0.15" >pre-B cells</text>
<text x="315.6" y="541.8" font-size="7.8" text-anchor="middle" fill="#2a1a14" stroke="#2a1a14" stroke-width="0.15" ><tspan font-style="italic">p=</tspan><tspan font-style="italic">0.035</tspan></text>
<path d="M294.90000000000003,507.4 L294.90000000000003,514.4 M293.20000000000005,514 L294.90000000000003,517.5 L296.6,514 Z" stroke="#000" stroke-width="1" fill="#000"/>
<text x="397.5" y="514.2" font-size="7.8" text-anchor="middle" fill="#2a1a14" stroke="#2a1a14" stroke-width="0.15" >expression</text>
<text x="397.5" y="524.3" font-size="7.8" text-anchor="middle" fill="#2a1a14" stroke="#2a1a14" stroke-width="0.15" >in <tspan font-style="italic">Moz</tspan><tspan dy="-2.34" font-size="6.71" letter-spacing="0.55">+/-</tspan></text>
<text x="397.5" y="534.2" font-size="7.8" text-anchor="middle" fill="#2a1a14" stroke="#2a1a14" stroke-width="0.15" >pre-B cells</text>
<text x="395.5" y="541.8" font-size="7.8" text-anchor="middle" fill="#2a1a14" stroke="#2a1a14" stroke-width="0.15" ><tspan font-style="italic">p=</tspan><tspan font-style="italic">0.023</tspan></text>
<path d="M373.8,517.5 L373.8,510.5 M372.1,511 L373.8,507.4 L375.5,511 Z" stroke="#000" stroke-width="1" fill="#000"/>
<path d="M287.5,515.3 L268.6,538.8 L287.5,557.8" fill="none" stroke="#000" stroke-width="0.9"/>
<path d="M423.6,515.3 L442.2,534.9 L423.6,557.8" fill="none" stroke="#000" stroke-width="0.9"/>
<text x="240" y="535.5" font-size="6.8" text-anchor="middle" fill="#222" stroke="#222" stroke-width="0.15" >genes associated</text>
<text x="240" y="544.3" font-size="6.8" text-anchor="middle" fill="#222" stroke="#222" stroke-width="0.15" >with proliferation</text>
<text x="473" y="533.8" font-size="6.8" text-anchor="middle" fill="#222" stroke="#222" stroke-width="0.15" >genes associated</text>
<text x="473" y="542" font-size="6.8" text-anchor="middle" fill="#222" stroke="#222" stroke-width="0.15" >with cell-cyle arrest</text>
<text x="317.6" y="561.0" font-size="8.1" text-anchor="middle" fill="#222" stroke="#222" stroke-width="0.15" >Large</text>
<text x="317.6" y="570.8" font-size="8.1" text-anchor="middle" fill="#222" stroke="#222" stroke-width="0.15" >proliferating</text>
<text x="317.6" y="580.6" font-size="8.1" text-anchor="middle" fill="#222" stroke="#222" stroke-width="0.15" >pre-B cells</text>
<text x="395.8" y="561.0" font-size="8.1" text-anchor="middle" fill="#222" stroke="#222" stroke-width="0.15" >Small</text>
<text x="395.8" y="570.8" font-size="8.1" text-anchor="middle" fill="#222" stroke="#222" stroke-width="0.15" >non-proliferative</text>
<text x="395.8" y="580.6" font-size="8.1" text-anchor="middle" fill="#222" stroke="#222" stroke-width="0.15" >pre-B cells</text>
<text x="474.2" y="561.0" font-size="8.1" text-anchor="middle" fill="#222" stroke="#222" stroke-width="0.15" >Immature/</text>
<text x="474.2" y="570.8" font-size="8.1" text-anchor="middle" fill="#222" stroke="#222" stroke-width="0.15" >mature</text>
<text x="474.2" y="580.6" font-size="8.1" text-anchor="middle" fill="#222" stroke="#222" stroke-width="0.15" >B cells</text>
<circle cx="240.5" cy="594.2" r="10.2" fill="#fbe3d2" stroke="#222" stroke-width="0.9"/>
<circle cx="240.5" cy="594.2" r="3.4" fill="#c88a68" stroke="#333" stroke-width="0.7"/>
<circle cx="318.4" cy="594.2" r="11.3" fill="#fbe3d2" stroke="#222" stroke-width="0.9"/>
<circle cx="318.4" cy="594.2" r="4.1" fill="#c88a68" stroke="#333" stroke-width="0.7"/>
<circle cx="398.3" cy="595" r="9.3" fill="#fbe3d2" stroke="#222" stroke-width="0.9"/>
<circle cx="398.3" cy="595" r="3.0" fill="#c88a68" stroke="#333" stroke-width="0.7"/>
<circle cx="476.9" cy="595" r="8.9" fill="#fbe3d2" stroke="#222" stroke-width="0.9"/>
<circle cx="476.9" cy="595" r="3.0" fill="#c88a68" stroke="#333" stroke-width="0.7"/>
<line x1="258.7" y1="593.2" x2="300.3" y2="593.2" stroke="#000" stroke-width="1" marker-end="url(#arr)"/>
<line x1="346" y1="593.2" x2="377.8" y2="593.2" stroke="#000" stroke-width="1" marker-end="url(#arr)"/>
<line x1="417" y1="593.2" x2="457.9" y2="593.2" stroke="#000" stroke-width="1" marker-end="url(#arr)"/>
<path d="M328.2,582.4 C336,581.5 343,589 335.5,598.2" fill="none" stroke="#000" stroke-width="0.9" marker-end="url(#arr)"/>
<text x="230.3" y="614" font-size="6.8" text-anchor="start" fill="#222" stroke="#222" stroke-width="0.15" >B220+</text>
<text x="230.3" y="622.1" font-size="6.8" text-anchor="start" fill="#222" stroke="#222" stroke-width="0.15" >c-kit+</text>
<text x="230.3" y="632" font-size="6.8" text-anchor="start" fill="#222" stroke="#222" stroke-width="0.15" >CD25<tspan dy="-2.3" font-size="6.6">neg</tspan></text>
<text x="307.8" y="614" font-size="6.8" text-anchor="start" fill="#222" stroke="#222" stroke-width="0.15" >B220+</text>
<text x="307.8" y="622.1" font-size="6.8" text-anchor="start" fill="#222" stroke="#222" stroke-width="0.15" >c-kit<tspan dy="-2.3" font-size="6.6">neg</tspan></text>
<text x="307.8" y="632" font-size="6.8" text-anchor="start" fill="#222" stroke="#222" stroke-width="0.15" >CD25+</text>
<text x="307.8" y="640.2" font-size="6.8" text-anchor="start" fill="#222" stroke="#222" stroke-width="0.15" >high FSC</text>
<text x="387" y="614" font-size="6.8" text-anchor="start" fill="#222" stroke="#222" stroke-width="0.15" >B220+</text>
<text x="387" y="622.1" font-size="6.8" text-anchor="start" fill="#222" stroke="#222" stroke-width="0.15" >c-kit<tspan dy="-2.3" font-size="6.6">neg</tspan></text>
<text x="387" y="632" font-size="6.8" text-anchor="start" fill="#222" stroke="#222" stroke-width="0.15" >CD25+</text>
<text x="387" y="640.2" font-size="6.8" text-anchor="start" fill="#222" stroke="#222" stroke-width="0.15" >low FSC</text>
<text x="466.7" y="614" font-size="6.8" text-anchor="start" fill="#222" stroke="#222" stroke-width="0.15" >B220+</text>
<text x="466.7" y="622.1" font-size="6.8" text-anchor="start" fill="#222" stroke="#222" stroke-width="0.15" >sIgM+</text>
</svg></body></html>
